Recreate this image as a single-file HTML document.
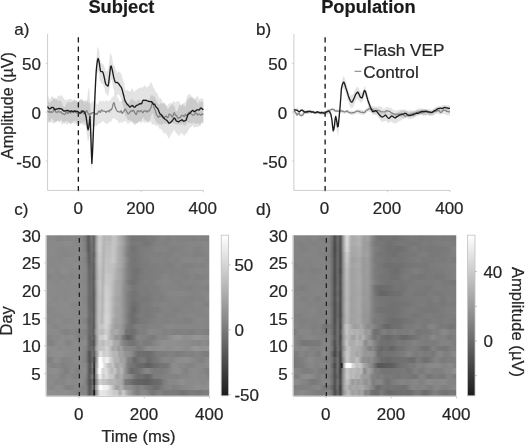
<!DOCTYPE html>
<html lang="en"><head><meta charset="utf-8"><title>Flash VEP figure</title>
<style>html,body{margin:0;padding:0;background:#fff}svg{display:block}text{stroke:#262626;stroke-width:.22px}</style></head>
<body>
<svg width="525" height="446" viewBox="0 0 525 446" font-family='"Liberation Sans", sans-serif' font-size="17" fill="#262626" style="will-change:transform">
<rect width="525" height="446" fill="#fff"/>
<path d="M47.6,100.77 L48.22,101.76 L48.85,101.42 L49.47,102.99 L50.09,101.39 L50.72,102.8 L51.34,101.33 L51.96,100.78 L52.59,100.54 L53.21,97.45 L53.83,99.56 L54.46,98.86 L55.08,98.65 L55.7,100.5 L56.32,99.03 L56.95,100.33 L57.57,99.87 L58.19,101.41 L58.82,101.54 L59.44,99.93 L60.06,100.41 L60.69,100.95 L61.31,101.31 L61.93,102.45 L62.56,104.82 L63.18,106.61 L63.8,106.86 L64.43,106.97 L65.05,106.77 L65.67,104.86 L66.3,103.87 L66.92,102.78 L67.54,102.14 L68.17,102.35 L68.79,102.26 L69.41,102.1 L70.04,102.87 L70.66,102.62 L71.28,101.91 L71.9,102.06 L72.53,101.55 L73.15,100.8 L73.77,99.55 L74.4,100.25 L75.02,100.91 L75.64,101.36 L76.27,101.31 L76.89,99.94 L77.51,103.75 L78.14,101.11 L78.76,100.93 L79.38,99.99 L80.01,100.88 L80.63,98.36 L81.25,99.16 L81.88,100.24 L82.5,100.58 L83.12,101.53 L83.75,101.09 L84.37,101.08 L84.99,100.1 L85.62,100.32 L86.24,100.61 L86.86,100.3 L87.48,100.81 L88.11,101.63 L88.73,103.42 L89.35,102.1 L89.98,103.77 L90.6,103.5 L91.22,102.45 L91.85,101.52 L92.47,100.49 L93.09,102.35 L93.72,100.14 L94.34,100.26 L94.96,102.19 L95.59,102.65 L96.21,103.47 L96.83,103.78 L97.46,104.18 L98.08,103.88 L98.7,102.06 L99.33,101.03 L99.95,99.6 L100.57,101.52 L101.2,102.35 L101.82,100.79 L102.44,101.1 L103.06,100.49 L103.69,101.05 L104.31,101.66 L104.93,101.18 L105.56,100.01 L106.18,100.29 L106.8,101.17 L107.43,100.02 L108.05,101.67 L108.67,101 L109.3,100.29 L109.92,100.93 L110.54,100.15 L111.17,98.48 L111.79,97.68 L112.41,97.04 L113.04,96.61 L113.66,96.41 L114.28,95.76 L114.91,93.02 L115.53,95.85 L116.15,95.04 L116.78,97.28 L117.4,96.78 L118.02,97.76 L118.64,99.25 L119.27,100.89 L119.89,102.03 L120.51,100.7 L121.14,102.13 L121.76,101.69 L122.38,99.25 L123.01,98.93 L123.63,99.86 L124.25,100.28 L124.88,100.94 L125.5,100.71 L126.12,101.81 L126.75,103.03 L127.37,102.91 L127.99,102.37 L128.62,103.45 L129.24,102.48 L129.86,100.93 L130.49,99.08 L131.11,99.6 L131.73,99.56 L132.36,98.43 L132.98,100.8 L133.6,100.9 L134.22,100.14 L134.85,100.35 L135.47,101.14 L136.09,103.4 L136.72,100.87 L137.34,100.41 L137.96,100.31 L138.59,99.62 L139.21,99.26 L139.83,100.7 L140.46,102.01 L141.08,103.13 L141.7,101.94 L142.33,102.33 L142.95,101.9 L143.57,101.81 L144.2,100.31 L144.82,99.55 L145.44,99.53 L146.07,100.57 L146.69,99.31 L147.31,99.85 L147.94,101.78 L148.56,99.34 L149.18,100.36 L149.8,98.57 L150.43,95.8 L151.05,95.06 L151.67,95.38 L152.3,95.41 L152.92,94.75 L153.54,96.63 L154.17,95.75 L154.79,97.12 L155.41,97.58 L156.04,99.51 L156.66,101.53 L157.28,101.88 L157.91,103.24 L158.53,104.6 L159.15,104.6 L159.78,104.28 L160.4,103.26 L161.02,102.57 L161.65,103.1 L162.27,103.97 L162.89,103.42 L163.52,102.77 L164.14,102.52 L164.76,104.21 L165.38,103.84 L166.01,104.77 L166.63,106.23 L167.25,105.54 L167.88,104.62 L168.5,104.04 L169.12,103.47 L169.75,103.32 L170.37,102.55 L170.99,103.4 L171.62,103.69 L172.24,101.92 L172.86,102.29 L173.49,101.02 L174.11,102.05 L174.73,100.73 L175.36,102.68 L175.98,102.77 L176.6,101.43 L177.23,100.57 L177.85,102.28 L178.47,100.76 L179.1,101.17 L179.72,102.35 L180.34,103.82 L180.96,105.72 L181.59,105.35 L182.21,104.45 L182.83,103.03 L183.46,103.1 L184.08,103.21 L184.7,102.56 L185.33,102.36 L185.95,99.39 L186.57,98.64 L187.2,95.56 L187.82,95.02 L188.44,94.56 L189.07,94.2 L189.69,94.64 L190.31,92.95 L190.94,95.39 L191.56,96.28 L192.18,96.85 L192.81,98.84 L193.43,98.38 L194.05,96.79 L194.68,98.39 L195.3,98.76 L195.92,100.6 L196.54,102.17 L197.17,101.99 L197.79,103.43 L198.41,104.8 L199.04,102.07 L199.66,101.84 L200.28,102.47 L200.91,100.71 L201.53,101.65 L202.15,101.93 L202.78,102.21 L203.4,100.71 L203.4,121.88 L202.78,122.34 L202.15,122.24 L201.53,122.99 L200.91,124.23 L200.28,125.64 L199.66,124.67 L199.04,124.46 L198.41,122.9 L197.79,124.59 L197.17,122.96 L196.54,123.46 L195.92,123.49 L195.3,124.25 L194.68,122.76 L194.05,123.86 L193.43,121.99 L192.81,123.27 L192.18,123.49 L191.56,123.29 L190.94,123.24 L190.31,122.7 L189.69,123.45 L189.07,122.85 L188.44,122.89 L187.82,121.84 L187.2,122.87 L186.57,123.18 L185.95,125.02 L185.33,125.92 L184.7,125.35 L184.08,125.15 L183.46,125.48 L182.83,122.95 L182.21,123.98 L181.59,125.33 L180.96,124.92 L180.34,123.6 L179.72,125.04 L179.1,124.52 L178.47,124.26 L177.85,123.81 L177.23,125.95 L176.6,124.19 L175.98,124.37 L175.36,123.74 L174.73,124.41 L174.11,122.55 L173.49,123.95 L172.86,122.8 L172.24,122.59 L171.62,122.84 L170.99,123.23 L170.37,123.89 L169.75,123.71 L169.12,124.42 L168.5,125.62 L167.88,124.02 L167.25,124.19 L166.63,123.45 L166.01,122.74 L165.38,123.78 L164.76,123.03 L164.14,124.45 L163.52,123.74 L162.89,124.14 L162.27,124.26 L161.65,124.79 L161.02,125.67 L160.4,123.63 L159.78,123.9 L159.15,124.57 L158.53,123.7 L157.91,123.22 L157.28,124.05 L156.66,122.84 L156.04,121.61 L155.41,121.03 L154.79,118.93 L154.17,118.63 L153.54,116.17 L152.92,113.75 L152.3,113.05 L151.67,114.3 L151.05,116.64 L150.43,118.38 L149.8,120.38 L149.18,120.16 L148.56,121.45 L147.94,122.16 L147.31,122.23 L146.69,123.07 L146.07,121.44 L145.44,122.51 L144.82,122.39 L144.2,123.29 L143.57,121.29 L142.95,121.81 L142.33,122.37 L141.7,123.24 L141.08,123.18 L140.46,122.27 L139.83,121.45 L139.21,120.87 L138.59,121.76 L137.96,121.95 L137.34,123.15 L136.72,122.38 L136.09,123.62 L135.47,123.53 L134.85,122.9 L134.22,123.37 L133.6,122.11 L132.98,122.56 L132.36,121.96 L131.73,120.96 L131.11,120.63 L130.49,122.65 L129.86,121.88 L129.24,124.12 L128.62,123.2 L127.99,123.8 L127.37,123.52 L126.75,122.32 L126.12,121.7 L125.5,121.07 L124.88,121.12 L124.25,121.49 L123.63,122.06 L123.01,121.92 L122.38,122.27 L121.76,122.91 L121.14,122.44 L120.51,122.18 L119.89,122.64 L119.27,123.5 L118.64,123.41 L118.02,121.42 L117.4,120.14 L116.78,119.92 L116.15,120.52 L115.53,118.85 L114.91,118.66 L114.28,118.15 L113.66,118.5 L113.04,119.14 L112.41,118.4 L111.79,120.06 L111.17,121.44 L110.54,122.44 L109.92,121.19 L109.3,121.83 L108.67,123.63 L108.05,123.16 L107.43,123.59 L106.8,123.13 L106.18,124.64 L105.56,123.25 L104.93,123.05 L104.31,122.36 L103.69,121.83 L103.06,121.08 L102.44,121.13 L101.82,122.32 L101.2,122.71 L100.57,123.35 L99.95,123.11 L99.33,123.38 L98.7,123.55 L98.08,124.86 L97.46,124.57 L96.83,125.73 L96.21,126.95 L95.59,125.86 L94.96,125.74 L94.34,125.87 L93.72,125.74 L93.09,127.48 L92.47,127.03 L91.85,125.84 L91.22,125.58 L90.6,125.74 L89.98,125.12 L89.35,126.3 L88.73,125.77 L88.11,126.13 L87.48,124.62 L86.86,124.97 L86.24,125.14 L85.62,125.05 L84.99,124.63 L84.37,125.71 L83.75,125.24 L83.12,125.49 L82.5,125.02 L81.88,123.68 L81.25,123.44 L80.63,123.58 L80.01,123.39 L79.38,122.73 L78.76,124.09 L78.14,123.58 L77.51,121.75 L76.89,124.97 L76.27,124.63 L75.64,123.92 L75.02,123.87 L74.4,123.67 L73.77,122.44 L73.15,123.62 L72.53,123.6 L71.9,123.53 L71.28,124.11 L70.66,124.07 L70.04,124.44 L69.41,123.02 L68.79,123.22 L68.17,122.92 L67.54,125 L66.92,124.14 L66.3,125.31 L65.67,123.41 L65.05,123.25 L64.43,123.73 L63.8,123.67 L63.18,123.86 L62.56,124.69 L61.93,124.81 L61.31,123.31 L60.69,121.15 L60.06,122.34 L59.44,123.27 L58.82,121.43 L58.19,120.61 L57.57,121.77 L56.95,122.23 L56.32,122.33 L55.7,122.73 L55.08,122.97 L54.46,122.8 L53.83,123.13 L53.21,123.91 L52.59,122.33 L51.96,123.46 L51.34,122.25 L50.72,122.38 L50.09,121.85 L49.47,122.54 L48.85,122.72 L48.22,122.6 L47.6,122.56Z" fill="#000" fill-opacity="0.1"/><path d="M47.6,93.27 L48.22,96.11 L48.85,97.87 L49.47,100.24 L50.09,98.48 L50.72,98.09 L51.34,97.33 L51.96,96.19 L52.59,96.12 L53.21,97.54 L53.83,98.11 L54.46,98.52 L55.08,97.93 L55.7,97.75 L56.32,98.68 L56.95,98.21 L57.57,96.44 L58.19,95.32 L58.82,96.09 L59.44,96.52 L60.06,95.32 L60.69,96.09 L61.31,95.22 L61.93,94.88 L62.56,96.21 L63.18,97.64 L63.8,98.22 L64.43,99.87 L65.05,99.83 L65.67,100.11 L66.3,99.8 L66.92,99.88 L67.54,99.49 L68.17,99.45 L68.79,99.06 L69.41,99.14 L70.04,99.05 L70.66,98.17 L71.28,100.11 L71.9,98.53 L72.53,100.19 L73.15,101.15 L73.77,100.1 L74.4,99.5 L75.02,98.93 L75.64,100.8 L76.27,100.22 L76.89,100.52 L77.51,102.01 L78.14,101.69 L78.76,100.23 L79.38,100.01 L80.01,99.63 L80.63,99.81 L81.25,99.59 L81.88,99.49 L82.5,98.72 L83.12,100.49 L83.75,100.75 L84.37,101.31 L84.99,103.78 L85.62,100.56 L86.24,101.85 L86.86,102.24 L87.48,95.99 L88.11,91.21 L88.73,88.11 L89.35,88.02 L89.98,100.56 L90.6,109.33 L91.22,123.99 L91.85,134.5 L92.47,130.38 L93.09,120.1 L93.72,107.54 L94.34,96.41 L94.96,82.72 L95.59,70.71 L96.21,60.32 L96.83,53.67 L97.46,46.64 L98.08,47.4 L98.7,49.35 L99.33,51.83 L99.95,58.14 L100.57,61.46 L101.2,62.99 L101.82,62.71 L102.44,63.99 L103.06,63.83 L103.69,65.36 L104.31,67.03 L104.93,68.03 L105.56,71.26 L106.18,71.29 L106.8,71.13 L107.43,70.47 L108.05,70.73 L108.67,65.73 L109.3,60.94 L109.92,55.66 L110.54,52.47 L111.17,54.21 L111.79,56.32 L112.41,58.88 L113.04,63.19 L113.66,65.14 L114.28,65.54 L114.91,66.8 L115.53,69.74 L116.15,69.53 L116.78,72.88 L117.4,73.16 L118.02,71.19 L118.64,71.93 L119.27,71.5 L119.89,71.95 L120.51,73.01 L121.14,73.44 L121.76,75.24 L122.38,78.2 L123.01,79.51 L123.63,82.07 L124.25,83.69 L124.88,88.41 L125.5,89.61 L126.12,90.42 L126.75,90.54 L127.37,89.48 L127.99,90.42 L128.62,91.32 L129.24,91.38 L129.86,91.04 L130.49,91.57 L131.11,90.11 L131.73,88.2 L132.36,88.58 L132.98,89.87 L133.6,91.13 L134.22,91.5 L134.85,92.34 L135.47,89.97 L136.09,89.65 L136.72,89.35 L137.34,90.1 L137.96,89.33 L138.59,88.09 L139.21,87.75 L139.83,87.91 L140.46,87.28 L141.08,87.35 L141.7,88.46 L142.33,87.62 L142.95,86.95 L143.57,86.68 L144.2,85.26 L144.82,85.57 L145.44,85.92 L146.07,87.28 L146.69,87.52 L147.31,86.93 L147.94,86.96 L148.56,86.12 L149.18,85.98 L149.8,84.23 L150.43,82.72 L151.05,82.52 L151.67,82.75 L152.3,84.85 L152.92,85.92 L153.54,88.06 L154.17,87.93 L154.79,89.76 L155.41,91.16 L156.04,92.4 L156.66,92.24 L157.28,93.34 L157.91,94.47 L158.53,96.67 L159.15,97.15 L159.78,99.19 L160.4,97.58 L161.02,99 L161.65,99.55 L162.27,100.92 L162.89,102.87 L163.52,103.26 L164.14,102.79 L164.76,102.32 L165.38,104.89 L166.01,105.55 L166.63,106.11 L167.25,108.16 L167.88,108.92 L168.5,108.42 L169.12,107.91 L169.75,107.3 L170.37,105.01 L170.99,105.72 L171.62,104.98 L172.24,103.9 L172.86,103.84 L173.49,106.34 L174.11,106.14 L174.73,106.41 L175.36,110.04 L175.98,110.7 L176.6,111.38 L177.23,111 L177.85,109.83 L178.47,107.65 L179.1,105.53 L179.72,104.31 L180.34,104.98 L180.96,106.1 L181.59,104.26 L182.21,104.08 L182.83,103.73 L183.46,104.95 L184.08,106.63 L184.7,105.27 L185.33,106.72 L185.95,104.9 L186.57,102.53 L187.2,100.48 L187.82,98.11 L188.44,100.09 L189.07,97.89 L189.69,97.35 L190.31,97.74 L190.94,96.82 L191.56,97.84 L192.18,96.63 L192.81,97.14 L193.43,99.11 L194.05,99.75 L194.68,99.66 L195.3,99.59 L195.92,97.52 L196.54,97.12 L197.17,95.93 L197.79,96.3 L198.41,97.8 L199.04,98.72 L199.66,99.38 L200.28,98.88 L200.91,98.51 L201.53,97.69 L202.15,98.74 L202.78,98.38 L203.4,98.5 L203.4,123.19 L202.78,124.16 L202.15,122.93 L201.53,123.21 L200.91,123.07 L200.28,125.16 L199.66,125.97 L199.04,126.2 L198.41,126.61 L197.79,127.18 L197.17,126.6 L196.54,127 L195.92,126.75 L195.3,127.11 L194.68,127.95 L194.05,126.91 L193.43,126.68 L192.81,125.58 L192.18,125.46 L191.56,127 L190.94,126.55 L190.31,127.73 L189.69,128.54 L189.07,128.57 L188.44,130.13 L187.82,131.3 L187.2,133.37 L186.57,133.05 L185.95,133.55 L185.33,134.82 L184.7,135.52 L184.08,135.65 L183.46,135 L182.83,133.77 L182.21,134.81 L181.59,132.83 L180.96,133.34 L180.34,133.71 L179.72,135.72 L179.1,136.27 L178.47,135.08 L177.85,135.29 L177.23,133.44 L176.6,134.24 L175.98,132.37 L175.36,132.45 L174.73,131.16 L174.11,129.05 L173.49,131.35 L172.86,131.53 L172.24,133.37 L171.62,133.58 L170.99,134.74 L170.37,135.77 L169.75,136.76 L169.12,138.79 L168.5,138.54 L167.88,137.39 L167.25,135.03 L166.63,134.6 L166.01,134.4 L165.38,132.96 L164.76,132.41 L164.14,134.27 L163.52,132.53 L162.89,132.38 L162.27,130.7 L161.65,129.82 L161.02,128.66 L160.4,128.67 L159.78,129.13 L159.15,127.91 L158.53,126.68 L157.91,125.06 L157.28,126.28 L156.66,126.57 L156.04,125.84 L155.41,124.95 L154.79,125.1 L154.17,124.09 L153.54,124.26 L152.92,125.07 L152.3,124.1 L151.67,124.48 L151.05,120.78 L150.43,122.87 L149.8,121.57 L149.18,122.72 L148.56,122.7 L147.94,123.31 L147.31,121.49 L146.69,120.97 L146.07,120.5 L145.44,120.59 L144.82,119.57 L144.2,119.15 L143.57,117.24 L142.95,118.09 L142.33,118.37 L141.7,120.06 L141.08,121.08 L140.46,121.64 L139.83,121.46 L139.21,121.99 L138.59,122.08 L137.96,123.66 L137.34,123.55 L136.72,123.37 L136.09,124.27 L135.47,124.14 L134.85,125.01 L134.22,125.81 L133.6,123.64 L132.98,123.17 L132.36,122.29 L131.73,122.7 L131.11,120.58 L130.49,121.26 L129.86,120.09 L129.24,119.74 L128.62,120.25 L127.99,119.89 L127.37,118.92 L126.75,117.8 L126.12,116.03 L125.5,116.65 L124.88,114.41 L124.25,112.04 L123.63,109.8 L123.01,105.27 L122.38,103.35 L121.76,102.58 L121.14,99.23 L120.51,97.07 L119.89,96.14 L119.27,95.03 L118.64,94.51 L118.02,94.14 L117.4,95.82 L116.78,93.96 L116.15,96.15 L115.53,96.36 L114.91,95.27 L114.28,92.76 L113.66,89.27 L113.04,87.68 L112.41,82.92 L111.79,79.85 L111.17,79.94 L110.54,82.53 L109.92,85.61 L109.3,91.11 L108.67,93.47 L108.05,96.18 L107.43,95.93 L106.8,94.2 L106.18,93.01 L105.56,94 L104.93,91.31 L104.31,87.83 L103.69,86.95 L103.06,83.57 L102.44,84.49 L101.82,83.03 L101.2,84.13 L100.57,81.99 L99.95,80.25 L99.33,74.79 L98.7,72.49 L98.08,71.56 L97.46,73.04 L96.83,76.1 L96.21,84.24 L95.59,95.24 L94.96,108.04 L94.34,122.54 L93.72,136.5 L93.09,151.52 L92.47,165.01 L91.85,172.07 L91.22,160.57 L90.6,146.84 L89.98,137.04 L89.35,136.36 L88.73,140.51 L88.11,141.22 L87.48,139.18 L86.86,134.01 L86.24,127.94 L85.62,124.91 L84.99,122.36 L84.37,121.95 L83.75,122.86 L83.12,122.48 L82.5,122.41 L81.88,122.08 L81.25,123.98 L80.63,123.1 L80.01,124.53 L79.38,125.19 L78.76,125.03 L78.14,124.69 L77.51,123.24 L76.89,122.35 L76.27,123.72 L75.64,120.34 L75.02,120.97 L74.4,121.1 L73.77,121.57 L73.15,120.81 L72.53,122.84 L71.9,121.93 L71.28,123.88 L70.66,123.24 L70.04,123.33 L69.41,123.1 L68.79,122.53 L68.17,121.58 L67.54,121.83 L66.92,120.99 L66.3,120.73 L65.67,121.79 L65.05,121.08 L64.43,122.46 L63.8,122.52 L63.18,121.75 L62.56,121.84 L61.93,121.43 L61.31,119.11 L60.69,119.67 L60.06,120.81 L59.44,121.42 L58.82,121.32 L58.19,120.8 L57.57,120.2 L56.95,121.07 L56.32,120.83 L55.7,121.41 L55.08,121.73 L54.46,122.82 L53.83,121.24 L53.21,119.65 L52.59,119.59 L51.96,118.37 L51.34,119.01 L50.72,120.22 L50.09,120.61 L49.47,122.52 L48.85,122.08 L48.22,120.04 L47.6,118.88Z" fill="#000" fill-opacity="0.11"/><path d="M47.6,34 V190.4 H203.4" fill="none" stroke="#cdcdcd" stroke-width="1"/><path d="M47.6,161.07 h-1.9" stroke="#cdcdcd" stroke-width="1"/><path d="M47.6,112.2 h-1.9" stroke="#cdcdcd" stroke-width="1"/><path d="M47.6,63.33 h-1.9" stroke="#cdcdcd" stroke-width="1"/><path d="M78.76,190.4 v1.9" stroke="#cdcdcd" stroke-width="1"/><path d="M141.08,190.4 v1.9" stroke="#cdcdcd" stroke-width="1"/><path d="M203.4,190.4 v1.9" stroke="#cdcdcd" stroke-width="1"/><path d="M78.36,37.3 V190.8" stroke="#1a1a1a" stroke-width="1.35" stroke-dasharray="5.1,4.19"/><path d="M47.6,110.85 L48.22,111.56 L48.85,112.11 L49.47,111.23 L50.09,112.42 L50.72,112.39 L51.34,111.6 L51.96,112.18 L52.59,112.23 L53.21,111.25 L53.83,109.31 L54.46,108.41 L55.08,110.42 L55.7,112.15 L56.32,112.2 L56.95,112.49 L57.57,111.9 L58.19,111.2 L58.82,111.77 L59.44,111.89 L60.06,112.02 L60.69,111.83 L61.31,112.18 L61.93,113.35 L62.56,113.73 L63.18,113.82 L63.8,114.2 L64.43,114.6 L65.05,114.25 L65.67,113.03 L66.3,111.78 L66.92,111.49 L67.54,113.66 L68.17,113.39 L68.79,112.28 L69.41,111.76 L70.04,112.4 L70.66,113.1 L71.28,112.33 L71.9,111.54 L72.53,111.54 L73.15,111.9 L73.77,112.55 L74.4,110.96 L75.02,110.81 L75.64,112.12 L76.27,112.4 L76.89,113 L77.51,113.64 L78.14,113.02 L78.76,112.51 L79.38,112.95 L80.01,112.63 L80.63,111.53 L81.25,110.45 L81.88,110.74 L82.5,112.5 L83.12,112.94 L83.75,113.39 L84.37,114.24 L84.99,113.29 L85.62,111.84 L86.24,110.71 L86.86,110.77 L87.48,112.46 L88.11,113.23 L88.73,114.32 L89.35,114.87 L89.98,113.89 L90.6,113.62 L91.22,113.79 L91.85,112.84 L92.47,112.54 L93.09,112.62 L93.72,112.72 L94.34,112.72 L94.96,114.57 L95.59,113.98 L96.21,113.49 L96.83,114.52 L97.46,113.71 L98.08,112.41 L98.7,111.21 L99.33,110.96 L99.95,112.15 L100.57,112.28 L101.2,110.34 L101.82,109.93 L102.44,110.98 L103.06,111.11 L103.69,111.06 L104.31,111.24 L104.93,111.31 L105.56,111.55 L106.18,112.56 L106.8,111.49 L107.43,111.03 L108.05,111 L108.67,111.02 L109.3,111.76 L109.92,110.05 L110.54,109.53 L111.17,109.86 L111.79,108.82 L112.41,107.22 L113.04,104.57 L113.66,102.74 L114.28,103.03 L114.91,105.88 L115.53,108.19 L116.15,109.3 L116.78,110.56 L117.4,111.45 L118.02,111.55 L118.64,111.52 L119.27,111.86 L119.89,112.26 L120.51,111.65 L121.14,110.7 L121.76,112.75 L122.38,113.35 L123.01,112.23 L123.63,111.64 L124.25,110.66 L124.88,109.58 L125.5,109.13 L126.12,110.25 L126.75,111.85 L127.37,112.49 L127.99,113.82 L128.62,113.44 L129.24,112.94 L129.86,112.41 L130.49,111.19 L131.11,110.68 L131.73,110.62 L132.36,111.28 L132.98,110.37 L133.6,110.23 L134.22,111.54 L134.85,113.06 L135.47,113.59 L136.09,114.61 L136.72,113.87 L137.34,110.79 L137.96,110.55 L138.59,111.16 L139.21,111.89 L139.83,111.28 L140.46,110.66 L141.08,110.76 L141.7,111.28 L142.33,112.19 L142.95,112.77 L143.57,111.46 L144.2,110.79 L144.82,110.99 L145.44,111.35 L146.07,110.88 L146.69,111.81 L147.31,111.97 L147.94,110.67 L148.56,110.95 L149.18,111.19 L149.8,109.83 L150.43,108.53 L151.05,107.52 L151.67,105.03 L152.3,102.39 L152.92,103.24 L153.54,104.86 L154.17,107.86 L154.79,109.37 L155.41,110.56 L156.04,113.08 L156.66,114.85 L157.28,115.48 L157.91,116.75 L158.53,117.37 L159.15,116.35 L159.78,115.74 L160.4,116.2 L161.02,116.33 L161.65,115.51 L162.27,115.29 L162.89,116.55 L163.52,118.39 L164.14,118.22 L164.76,117.15 L165.38,116.41 L166.01,115.99 L166.63,116.53 L167.25,117.6 L167.88,117.39 L168.5,116.03 L169.12,114.04 L169.75,114.25 L170.37,114.66 L170.99,115.06 L171.62,116.42 L172.24,117 L172.86,115.93 L173.49,114.19 L174.11,112.7 L174.73,113.51 L175.36,115.21 L175.98,115.21 L176.6,115.7 L177.23,117.13 L177.85,117.91 L178.47,118.49 L179.1,117.69 L179.72,117.52 L180.34,117.59 L180.96,116.46 L181.59,115.44 L182.21,115.54 L182.83,115.4 L183.46,115.74 L184.08,116.62 L184.7,115.76 L185.33,114.15 L185.95,114.89 L186.57,115.73 L187.2,115.37 L187.82,114.66 L188.44,112.81 L189.07,112.05 L189.69,112.05 L190.31,112.8 L190.94,113.75 L191.56,114.1 L192.18,114.63 L192.81,115.16 L193.43,115.01 L194.05,114.84 L194.68,114.49 L195.3,112.63 L195.92,113.18 L196.54,113.42 L197.17,114.29 L197.79,114.94 L198.41,114.2 L199.04,114.06 L199.66,114.3 L200.28,114.68 L200.91,115.28 L201.53,114.36 L202.15,113.75 L202.78,114.34 L203.4,114.61" fill="none" stroke="#858585" stroke-width="1.3" stroke-linejoin="round"/><path d="M47.6,106.46 L48.22,107.71 L48.85,108.56 L49.47,108.74 L50.09,108.71 L50.72,108.49 L51.34,107.68 L51.96,107.3 L52.59,107.33 L53.21,107.54 L53.83,108.27 L54.46,109.44 L55.08,109.82 L55.7,109.37 L56.32,109 L56.95,109.06 L57.57,109 L58.19,108.74 L58.82,108.45 L59.44,108.54 L60.06,108.85 L60.69,108.78 L61.31,108.85 L61.93,109.2 L62.56,109.77 L63.18,110.5 L63.8,111.01 L64.43,111.21 L65.05,110.97 L65.67,110.62 L66.3,110.56 L66.92,110.5 L67.54,110.45 L68.17,110.53 L68.79,110.77 L69.41,111.21 L70.04,111.64 L70.66,111.39 L71.28,110.85 L71.9,110.98 L72.53,111.52 L73.15,111.78 L73.77,111.35 L74.4,110.81 L75.02,111.13 L75.64,111.62 L76.27,111.43 L76.89,111.18 L77.51,111.52 L78.14,111.95 L78.76,112.39 L79.38,112.96 L80.01,113.31 L80.63,113.12 L81.25,112.48 L81.88,111.69 L82.5,111.11 L83.12,110.97 L83.75,111.32 L84.37,112.05 L84.99,112.91 L85.62,114.61 L86.24,117.89 L86.86,121.94 L87.48,127.25 L88.11,129.83 L88.73,127.27 L89.35,122.57 L89.98,116.18 L90.6,128.57 L91.22,147.73 L91.85,163.57 L92.47,153.43 L93.09,139.26 L93.72,124.25 L94.34,110 L94.96,95.95 L95.59,82.07 L96.21,71.32 L96.83,65.02 L97.46,60.43 L98.08,58.46 L98.7,60 L99.33,63.07 L99.95,67.64 L100.57,71.17 L101.2,71.68 L101.82,71.67 L102.44,71.67 L103.06,72.6 L103.69,74.85 L104.31,77.68 L104.93,80.74 L105.56,83.5 L106.18,84.83 L106.8,85.32 L107.43,85.8 L108.05,85.99 L108.67,83.17 L109.3,77.47 L109.92,72.17 L110.54,66.67 L111.17,65.99 L111.79,68.03 L112.41,70.66 L113.04,73.99 L113.66,76.97 L114.28,79.41 L114.91,81.29 L115.53,82.32 L116.15,82.68 L116.78,82.47 L117.4,82.45 L118.02,82.99 L118.64,83.7 L119.27,84.6 L119.89,85.5 L120.51,86.33 L121.14,87.11 L121.76,88.56 L122.38,90.66 L123.01,93 L123.63,95.3 L124.25,97.82 L124.88,100.31 L125.5,101.66 L126.12,102.5 L126.75,103.7 L127.37,104.63 L127.99,104.92 L128.62,105.5 L129.24,106.48 L129.86,107.04 L130.49,106.77 L131.11,106.18 L131.73,105.7 L132.36,105.49 L132.98,106.03 L133.6,106.73 L134.22,107.2 L134.85,107.13 L135.47,106.56 L136.09,105.8 L136.72,105.32 L137.34,105.12 L137.96,104.95 L138.59,104.6 L139.21,104.14 L139.83,103.78 L140.46,103.65 L141.08,103.88 L141.7,103.5 L142.33,101.77 L142.95,100.31 L143.57,100.09 L144.2,100.32 L144.82,100.36 L145.44,100.27 L146.07,100.36 L146.69,100.63 L147.31,100.88 L147.94,101.1 L148.56,101.26 L149.18,101.45 L149.8,101.59 L150.43,101.7 L151.05,101.71 L151.67,101.79 L152.3,102.41 L152.92,103.74 L153.54,104.32 L154.17,104.09 L154.79,104.43 L155.41,105.76 L156.04,106.9 L156.66,107.46 L157.28,107.97 L157.91,108.92 L158.53,110.24 L159.15,111.98 L159.78,113.5 L160.4,114.16 L161.02,114.47 L161.65,115.12 L162.27,116.22 L162.89,117.14 L163.52,117.64 L164.14,118.22 L164.76,118.93 L165.38,119.48 L166.01,119.83 L166.63,120.28 L167.25,120.81 L167.88,121.66 L168.5,122.67 L169.12,123.21 L169.75,122.91 L170.37,122.46 L170.99,122.13 L171.62,121.48 L172.24,120.66 L172.86,119.76 L173.49,118.79 L174.11,117.99 L174.73,118.29 L175.36,119.18 L175.98,120.3 L176.6,121.07 L177.23,121.34 L177.85,121.52 L178.47,121.87 L179.1,121.62 L179.72,120.8 L180.34,120.68 L180.96,120.52 L181.59,119.88 L182.21,119.79 L182.83,120.61 L183.46,121.2 L184.08,121.14 L184.7,120.86 L185.33,120.61 L185.95,120.25 L186.57,118.86 L187.2,116.73 L187.82,114.93 L188.44,114.16 L189.07,113.78 L189.69,113.29 L190.31,112.62 L190.94,111.94 L191.56,111.32 L192.18,110.66 L192.81,110.38 L193.43,110.91 L194.05,111.51 L194.68,111.52 L195.3,111.21 L195.92,110.7 L196.54,110.02 L197.17,109.8 L197.79,109.82 L198.41,109.91 L199.04,110.04 L199.66,109.44 L200.28,108.38 L200.91,107.94 L201.53,108.26 L202.15,108.75 L202.78,109.43 L203.4,109.79" fill="none" stroke="#1c1c1c" stroke-width="1.35" stroke-linejoin="round"/><text x="40.9" y="167.77" text-anchor="end">-50</text><text x="40.9" y="118.9" text-anchor="end">0</text><text x="40.9" y="70.03" text-anchor="end">50</text><text x="78.16" y="214.2" text-anchor="middle">0</text><text x="140.48" y="214.2" text-anchor="middle">200</text><text x="202.8" y="214.2" text-anchor="middle">400</text>
<path d="M293.9,108.68 L294.52,109.49 L295.15,110.24 L295.77,111.18 L296.4,112.39 L297.02,112.32 L297.65,112.85 L298.27,112.41 L298.9,112.6 L299.52,112.37 L300.14,112.95 L300.77,113.16 L301.39,113.5 L302.02,112.89 L302.64,112.64 L303.27,111.86 L303.89,111.27 L304.51,110.92 L305.14,111.01 L305.76,111.35 L306.39,111.09 L307.01,110.46 L307.64,110.24 L308.26,110.02 L308.89,110.33 L309.51,110.3 L310.13,109.75 L310.76,109.78 L311.38,110.15 L312.01,110.41 L312.63,110.99 L313.26,110.93 L313.88,110.72 L314.51,111.37 L315.13,111.31 L315.75,111.19 L316.38,111.16 L317,111.45 L317.63,111.11 L318.25,111.15 L318.88,111.18 L319.5,111.31 L320.12,111.29 L320.75,111.51 L321.37,110.77 L322,111.15 L322.62,110.7 L323.25,110.82 L323.87,111.38 L324.5,111.94 L325.12,112.27 L325.74,111.93 L326.37,111.22 L326.99,110.56 L327.62,110.19 L328.24,109.59 L328.87,108.4 L329.49,108.72 L330.12,108.95 L330.74,108.46 L331.36,108.79 L331.99,109.06 L332.61,108.35 L333.24,108.5 L333.86,108.32 L334.49,108.08 L335.11,108.78 L335.73,109.34 L336.36,109.01 L336.98,110.04 L337.61,109.79 L338.23,109.07 L338.86,108.95 L339.48,109.37 L340.11,109.52 L340.73,109.33 L341.35,109.42 L341.98,109.62 L342.6,110 L343.23,110.42 L343.85,110.46 L344.48,110.45 L345.1,110.42 L345.73,110.38 L346.35,110.12 L346.97,110.43 L347.6,109.81 L348.22,109.9 L348.85,110.66 L349.47,111.11 L350.1,110.83 L350.72,110.8 L351.34,110.91 L351.97,110.59 L352.59,110.9 L353.22,110.96 L353.84,110.26 L354.47,110.66 L355.09,110.53 L355.72,110.8 L356.34,110.08 L356.96,109.8 L357.59,109.38 L358.21,109.06 L358.84,109.15 L359.46,109.51 L360.09,109.05 L360.71,109.31 L361.34,109.41 L361.96,109.75 L362.58,109.91 L363.21,110.39 L363.83,110.38 L364.46,109.93 L365.08,109.52 L365.71,108.77 L366.33,109.02 L366.95,107.71 L367.58,107.12 L368.2,106.1 L368.83,106.13 L369.45,105.94 L370.08,105.79 L370.7,105.79 L371.33,106.5 L371.95,106.4 L372.57,106.08 L373.2,106.31 L373.82,106.6 L374.45,106.48 L375.07,107.43 L375.7,107.13 L376.32,107.21 L376.95,106.83 L377.57,106.79 L378.19,106.3 L378.82,105.62 L379.44,106.15 L380.07,106.44 L380.69,106.4 L381.32,106.97 L381.94,107.03 L382.56,108.19 L383.19,108.6 L383.81,108.97 L384.44,108.57 L385.06,108.44 L385.69,107.17 L386.31,107.16 L386.94,106.92 L387.56,107.07 L388.18,107.27 L388.81,107.5 L389.43,107.95 L390.06,107.36 L390.68,108.02 L391.31,107.82 L391.93,108.53 L392.56,109.52 L393.18,109.73 L393.8,110.07 L394.43,110.34 L395.05,110.46 L395.68,110.37 L396.3,110.45 L396.93,110.36 L397.55,110.01 L398.17,109.89 L398.8,109.9 L399.42,109.57 L400.05,109.68 L400.67,109.43 L401.3,109.55 L401.92,109.38 L402.55,110.28 L403.17,109.67 L403.79,110.46 L404.42,110.34 L405.04,111 L405.67,111 L406.29,110.79 L406.92,110.94 L407.54,110.84 L408.17,110.61 L408.79,110.06 L409.41,110.73 L410.04,110.21 L410.66,109.79 L411.29,110.24 L411.91,109.91 L412.54,110.98 L413.16,110.83 L413.78,110.58 L414.41,110.54 L415.03,110.33 L415.66,109.81 L416.28,110.01 L416.91,109.42 L417.53,109.16 L418.16,109.04 L418.78,108.32 L419.4,108.82 L420.03,108.3 L420.65,109.19 L421.28,109.19 L421.9,109.4 L422.53,109.66 L423.15,109.11 L423.78,108.74 L424.4,108.69 L425.02,108.78 L425.65,108.57 L426.27,108.98 L426.9,109.39 L427.52,110.52 L428.15,110.12 L428.77,110.1 L429.39,110.8 L430.02,111.38 L430.64,110.84 L431.27,110.51 L431.89,110.61 L432.52,109.97 L433.14,109.38 L433.77,109.27 L434.39,108.79 L435.01,108.01 L435.64,108.18 L436.26,108.3 L436.89,107.79 L437.51,107.66 L438.14,107.77 L438.76,107.92 L439.39,108.27 L440.01,107.61 L440.63,108.63 L441.26,108.29 L441.88,107.93 L442.51,107.45 L443.13,107.53 L443.76,107.24 L444.38,107.46 L445,107.32 L445.63,107.99 L446.25,107.39 L446.88,107.84 L447.5,108.04 L448.13,108.61 L448.75,109.34 L449.38,109.24 L450,109.13 L450,115.68 L449.38,115.37 L448.75,115.26 L448.13,115.23 L447.5,114.96 L446.88,115.42 L446.25,115.06 L445.63,114.95 L445,114.32 L444.38,114.07 L443.76,113.96 L443.13,114.19 L442.51,113.99 L441.88,114.61 L441.26,114.1 L440.63,114.92 L440.01,114.49 L439.39,114.28 L438.76,114.25 L438.14,113.92 L437.51,113.87 L436.89,114 L436.26,114.08 L435.64,114.15 L435.01,114.2 L434.39,115 L433.77,115.15 L433.14,115.46 L432.52,116.29 L431.89,116.01 L431.27,115.86 L430.64,116.23 L430.02,115.7 L429.39,115.45 L428.77,115.63 L428.15,115.33 L427.52,114.74 L426.9,115.29 L426.27,115.66 L425.65,115.69 L425.02,115.46 L424.4,115.84 L423.78,115.66 L423.15,115.86 L422.53,115.37 L421.9,115.25 L421.28,114.88 L420.65,114.51 L420.03,114.63 L419.4,114.39 L418.78,115.18 L418.16,114.93 L417.53,115.06 L416.91,115.68 L416.28,115.72 L415.66,116.08 L415.03,116.58 L414.41,117.06 L413.78,116.63 L413.16,116.82 L412.54,116.63 L411.91,116.65 L411.29,116.71 L410.66,116.67 L410.04,116.08 L409.41,116.75 L408.79,116.82 L408.17,117.01 L407.54,117.27 L406.92,117.56 L406.29,118.15 L405.67,118.19 L405.04,118.66 L404.42,118.41 L403.79,118.13 L403.17,118.44 L402.55,117.73 L401.92,117.62 L401.3,117.16 L400.67,117.23 L400.05,117.05 L399.42,117.06 L398.8,117.14 L398.17,116.98 L397.55,117.04 L396.93,117.68 L396.3,117.49 L395.68,117.5 L395.05,117.54 L394.43,117.21 L393.8,116.75 L393.18,116.55 L392.56,116.62 L391.93,115.51 L391.31,115.36 L390.68,115.57 L390.06,115.57 L389.43,115.21 L388.81,114.73 L388.18,114.39 L387.56,114.48 L386.94,114.32 L386.31,113.96 L385.69,114.01 L385.06,114.38 L384.44,114.66 L383.81,114.64 L383.19,114.47 L382.56,114.39 L381.94,114.62 L381.32,114.74 L380.69,114.41 L380.07,114.18 L379.44,114.27 L378.82,113.92 L378.19,113.98 L377.57,113.46 L376.95,113.72 L376.32,113.48 L375.7,113.76 L375.07,113.6 L374.45,113.58 L373.82,113.41 L373.2,113.34 L372.57,112.55 L371.95,112.53 L371.33,112.08 L370.7,111.7 L370.08,111.62 L369.45,111.49 L368.83,111.79 L368.2,112.1 L367.58,112.35 L366.95,112.44 L366.33,113.36 L365.71,113.56 L365.08,114.06 L364.46,114.61 L363.83,115.07 L363.21,114.97 L362.58,115.08 L361.96,115.25 L361.34,114.54 L360.71,114.3 L360.09,114.53 L359.46,114.32 L358.84,113.86 L358.21,113.4 L357.59,113.72 L356.96,113.33 L356.34,114.06 L355.72,114.36 L355.09,114.05 L354.47,114.57 L353.84,115.32 L353.22,115.09 L352.59,114.92 L351.97,115.36 L351.34,115 L350.72,114.76 L350.1,114.33 L349.47,114.28 L348.85,113.64 L348.22,113.39 L347.6,112.75 L346.97,113.12 L346.35,113.3 L345.73,113.23 L345.1,113.78 L344.48,114.08 L343.85,113.86 L343.23,113.2 L342.6,113.22 L341.98,113.15 L341.35,112.83 L340.73,112.93 L340.11,113.07 L339.48,113 L338.86,112.75 L338.23,112.39 L337.61,112.12 L336.98,112.32 L336.36,112.21 L335.73,112.23 L335.11,112.2 L334.49,112.02 L333.86,111.97 L333.24,111.84 L332.61,111.35 L331.99,111.57 L331.36,111.26 L330.74,111.43 L330.12,111.53 L329.49,111.97 L328.87,112.54 L328.24,113.07 L327.62,114.07 L326.99,113.99 L326.37,114.15 L325.74,114.22 L325.12,113.96 L324.5,114.6 L323.87,114.33 L323.25,114.93 L322.62,114.67 L322,114.62 L321.37,114.42 L320.75,114.86 L320.12,114.24 L319.5,114.21 L318.88,114.67 L318.25,113.7 L317.63,113.77 L317,114.24 L316.38,113.82 L315.75,113.6 L315.13,113.73 L314.51,113.77 L313.88,113.24 L313.26,112.97 L312.63,113.34 L312.01,113.5 L311.38,113.49 L310.76,113.5 L310.13,113.55 L309.51,113.39 L308.89,113.1 L308.26,113.89 L307.64,113.85 L307.01,113.8 L306.39,113.71 L305.76,114.32 L305.14,113.59 L304.51,114.36 L303.89,115.35 L303.27,115.14 L302.64,116.05 L302.02,116.41 L301.39,117.27 L300.77,117.08 L300.14,116.6 L299.52,116.11 L298.9,115.44 L298.27,115.54 L297.65,115.4 L297.02,115.09 L296.4,114.75 L295.77,114.5 L295.15,114.17 L294.52,113.41 L293.9,113.52Z" fill="#000" fill-opacity="0.1"/><path d="M293.9,108.6 L294.52,108.12 L295.15,108.17 L295.77,107.94 L296.4,107.66 L297.02,107.93 L297.65,108.08 L298.27,108.81 L298.9,109.31 L299.52,110.24 L300.14,110.02 L300.77,109.65 L301.39,108.77 L302.02,108.77 L302.64,108.56 L303.27,108.97 L303.89,109.38 L304.51,109.21 L305.14,109.8 L305.76,110.1 L306.39,110.35 L307.01,109.71 L307.64,109.67 L308.26,110.23 L308.89,110.16 L309.51,110.18 L310.13,110.7 L310.76,110.48 L311.38,110.14 L312.01,110.79 L312.63,110.17 L313.26,109.88 L313.88,110.74 L314.51,110.99 L315.13,111.02 L315.75,111 L316.38,110.97 L317,111.32 L317.63,111.1 L318.25,110.96 L318.88,111.13 L319.5,110.77 L320.12,111.08 L320.75,111.06 L321.37,110.51 L322,111.02 L322.62,111.39 L323.25,111.36 L323.87,111.54 L324.5,111.24 L325.12,111.07 L325.74,110.85 L326.37,110.34 L326.99,109.8 L327.62,108.86 L328.24,108.45 L328.87,109.11 L329.49,109.63 L330.12,110.87 L330.74,112.94 L331.36,115.87 L331.99,119.91 L332.61,124.58 L333.24,126.82 L333.86,125.63 L334.49,121.85 L335.11,117.96 L335.73,115.93 L336.36,116.73 L336.98,119.26 L337.61,122.21 L338.23,121.3 L338.86,116.81 L339.48,109.99 L340.11,102.51 L340.73,93.8 L341.35,86.53 L341.98,81.07 L342.6,78.21 L343.23,76.38 L343.85,76.18 L344.48,77.83 L345.1,79.56 L345.73,81.32 L346.35,83.48 L346.97,85.83 L347.6,88.71 L348.22,90.33 L348.85,92.33 L349.47,93.88 L350.1,95.25 L350.72,95.18 L351.34,95.19 L351.97,95.3 L352.59,94.44 L353.22,93.9 L353.84,92.53 L354.47,91.43 L355.09,90.14 L355.72,88.6 L356.34,87.59 L356.96,86.98 L357.59,86.82 L358.21,87.22 L358.84,88.3 L359.46,89.65 L360.09,91.35 L360.71,91.99 L361.34,93.05 L361.96,92.5 L362.58,91.44 L363.21,90.19 L363.83,87.84 L364.46,86.37 L365.08,86.68 L365.71,88.22 L366.33,90.23 L366.95,92.29 L367.58,94.51 L368.2,96.33 L368.83,98.32 L369.45,99.97 L370.08,101.94 L370.7,103.95 L371.33,105.56 L371.95,106.78 L372.57,107.43 L373.2,108.06 L373.82,107.57 L374.45,107.97 L375.07,107.47 L375.7,107.56 L376.32,107.49 L376.95,108.1 L377.57,108.98 L378.19,110.14 L378.82,110.82 L379.44,111.33 L380.07,111.42 L380.69,112.3 L381.32,112.49 L381.94,112.79 L382.56,113.46 L383.19,113.35 L383.81,113.44 L384.44,112.49 L385.06,111.73 L385.69,111.96 L386.31,111.93 L386.94,112.41 L387.56,113.2 L388.18,114 L388.81,114.15 L389.43,114.16 L390.06,113.49 L390.68,112.14 L391.31,112.4 L391.93,112.38 L392.56,112.44 L393.18,112.87 L393.8,113.28 L394.43,114.11 L395.05,114.38 L395.68,114.12 L396.3,113.18 L396.93,112.61 L397.55,112.71 L398.17,112.36 L398.8,111.92 L399.42,111.81 L400.05,111.38 L400.67,110.78 L401.3,111.03 L401.92,110.36 L402.55,109.88 L403.17,110.18 L403.79,109.42 L404.42,109.48 L405.04,109.54 L405.67,109.36 L406.29,109.93 L406.92,110.6 L407.54,111.31 L408.17,111.9 L408.79,112.15 L409.41,112.14 L410.04,111.77 L410.66,111.8 L411.29,111.49 L411.91,111.52 L412.54,111.2 L413.16,111.18 L413.78,110.7 L414.41,110.82 L415.03,111.17 L415.66,110.58 L416.28,110.33 L416.91,109.74 L417.53,109.89 L418.16,109.69 L418.78,109.7 L419.4,109.89 L420.03,109.52 L420.65,109 L421.28,108.81 L421.9,107.48 L422.53,108.24 L423.15,108.98 L423.78,109.33 L424.4,109.14 L425.02,109.29 L425.65,109.52 L426.27,109.51 L426.9,109.04 L427.52,109.12 L428.15,108.88 L428.77,109.03 L429.39,108.88 L430.02,109.8 L430.64,109.44 L431.27,109.91 L431.89,109.91 L432.52,109.21 L433.14,109.47 L433.77,108.56 L434.39,108.23 L435.01,107.5 L435.64,107.68 L436.26,106.72 L436.89,106.23 L437.51,106.07 L438.14,105.97 L438.76,106.06 L439.39,106.33 L440.01,106 L440.63,106.23 L441.26,105.44 L441.88,105.33 L442.51,105.79 L443.13,105.05 L443.76,105.21 L444.38,105.36 L445,105.13 L445.63,104.87 L446.25,105.11 L446.88,105.42 L447.5,105.13 L448.13,105.49 L448.75,105.73 L449.38,106.01 L450,105.6 L450,111.47 L449.38,111.42 L448.75,111.31 L448.13,111.05 L447.5,110.9 L446.88,110.59 L446.25,110.57 L445.63,110.02 L445,110.06 L444.38,109.79 L443.76,110.53 L443.13,110.91 L442.51,111.31 L441.88,111.39 L441.26,111.08 L440.63,110.89 L440.01,110.92 L439.39,110.89 L438.76,110.81 L438.14,111.62 L437.51,111.45 L436.89,112.3 L436.26,112.97 L435.64,112.79 L435.01,113.32 L434.39,113.59 L433.77,114.11 L433.14,114.63 L432.52,114.72 L431.89,115.32 L431.27,115.13 L430.64,115.12 L430.02,115.06 L429.39,115.43 L428.77,114.94 L428.15,115.01 L427.52,114.34 L426.9,114.77 L426.27,114.49 L425.65,114.93 L425.02,115.04 L424.4,115.17 L423.78,115.13 L423.15,114.28 L422.53,114.62 L421.9,114.59 L421.28,114.84 L420.65,115.04 L420.03,114.99 L419.4,115.57 L418.78,115.78 L418.16,115.92 L417.53,115.23 L416.91,115.9 L416.28,116.3 L415.66,116.76 L415.03,117.27 L414.41,117.44 L413.78,117.71 L413.16,118.38 L412.54,118.71 L411.91,118.53 L411.29,118.9 L410.66,119.27 L410.04,119.17 L409.41,119.1 L408.79,119.38 L408.17,118.76 L407.54,118.42 L406.92,117.52 L406.29,117.21 L405.67,117.45 L405.04,117.51 L404.42,117.82 L403.79,118.43 L403.17,118.87 L402.55,119.53 L401.92,119.6 L401.3,120.38 L400.67,120.65 L400.05,120.8 L399.42,120.87 L398.8,121.57 L398.17,122.11 L397.55,122.93 L396.93,122.35 L396.3,123.36 L395.68,123.28 L395.05,123.42 L394.43,123.67 L393.8,122.81 L393.18,122.82 L392.56,122.45 L391.93,121.89 L391.31,121.55 L390.68,121.15 L390.06,122.32 L389.43,122.48 L388.81,122.97 L388.18,123.02 L387.56,122.39 L386.94,121.67 L386.31,120.86 L385.69,121.15 L385.06,121.03 L384.44,120.97 L383.81,121.28 L383.19,122.13 L382.56,121.93 L381.94,121.86 L381.32,121.76 L380.69,120.71 L380.07,119.46 L379.44,119.01 L378.82,118.08 L378.19,116.81 L377.57,116.48 L376.95,115.63 L376.32,115.02 L375.7,114.76 L375.07,115.04 L374.45,114.93 L373.82,114.79 L373.2,115.37 L372.57,114.89 L371.95,113.17 L371.33,112.99 L370.7,111.77 L370.08,110.72 L369.45,109.26 L368.83,107.77 L368.2,105.91 L367.58,103.58 L366.95,101.41 L366.33,98.85 L365.71,97.31 L365.08,95.97 L364.46,95.39 L363.83,97.29 L363.21,99.35 L362.58,101.08 L361.96,102.1 L361.34,102.62 L360.71,102.59 L360.09,102.22 L359.46,101.11 L358.84,100.21 L358.21,98.98 L357.59,98.97 L356.96,99.15 L356.34,99.94 L355.72,101.14 L355.09,102.84 L354.47,103.92 L353.84,105.83 L353.22,107.18 L352.59,108.26 L351.97,108.28 L351.34,108.53 L350.72,107.84 L350.1,106.57 L349.47,105.45 L348.85,103.39 L348.22,101.9 L347.6,100.01 L346.97,97.78 L346.35,95.38 L345.73,93.85 L345.1,91.35 L344.48,89.82 L343.85,88.38 L343.23,88.21 L342.6,88.81 L341.98,90.74 L341.35,95.04 L340.73,101.71 L340.11,111.33 L339.48,120.43 L338.86,128.38 L338.23,134.67 L337.61,134.6 L336.98,131.72 L336.36,127.35 L335.73,125.47 L335.11,126.64 L334.49,129.56 L333.86,132.09 L333.24,132.82 L332.61,129.97 L331.99,124.71 L331.36,120.13 L330.74,117.26 L330.12,115.81 L329.49,114.41 L328.87,114.1 L328.24,113.91 L327.62,114.31 L326.99,114.15 L326.37,114.54 L325.74,114.79 L325.12,115.03 L324.5,114.7 L323.87,114.98 L323.25,114.84 L322.62,114.25 L322,114.27 L321.37,114.66 L320.75,114.38 L320.12,114.16 L319.5,114.2 L318.88,114 L318.25,113.5 L317.63,113.6 L317,113.95 L316.38,114.08 L315.75,114.72 L315.13,113.81 L314.51,112.97 L313.88,113.21 L313.26,112.76 L312.63,112.85 L312.01,112.71 L311.38,113.04 L310.76,113.42 L310.13,113.28 L309.51,113.3 L308.89,113.49 L308.26,112.58 L307.64,113.5 L307.01,113.64 L306.39,113.38 L305.76,113.95 L305.14,113.92 L304.51,113.38 L303.89,113.25 L303.27,112.55 L302.64,112.35 L302.02,112.26 L301.39,111.44 L300.77,112.12 L300.14,112.85 L299.52,112.48 L298.9,112.63 L298.27,112.09 L297.65,112.09 L297.02,111.11 L296.4,111.32 L295.77,111.17 L295.15,111.06 L294.52,110.77 L293.9,111.18Z" fill="#000" fill-opacity="0.11"/><path d="M293.9,34 V190.4 H450" fill="none" stroke="#cdcdcd" stroke-width="1"/><path d="M293.9,161.07 h-1.9" stroke="#cdcdcd" stroke-width="1"/><path d="M293.9,112.2 h-1.9" stroke="#cdcdcd" stroke-width="1"/><path d="M293.9,63.33 h-1.9" stroke="#cdcdcd" stroke-width="1"/><path d="M325.12,190.4 v1.9" stroke="#cdcdcd" stroke-width="1"/><path d="M387.56,190.4 v1.9" stroke="#cdcdcd" stroke-width="1"/><path d="M450,190.4 v1.9" stroke="#cdcdcd" stroke-width="1"/><path d="M325.12,37.3 V190.8" stroke="#1a1a1a" stroke-width="1.35" stroke-dasharray="5.1,4.19"/><path d="M293.9,110.66 L294.52,111.21 L295.15,111.92 L295.77,112.76 L296.4,114.22 L297.02,115.11 L297.65,114.41 L298.27,113.32 L298.9,113.36 L299.52,114.46 L300.14,115.14 L300.77,115.29 L301.39,115.45 L302.02,115.64 L302.64,115.26 L303.27,114.12 L303.89,113.07 L304.51,112.35 L305.14,112.02 L305.76,112.18 L306.39,112.46 L307.01,112.57 L307.64,112.69 L308.26,112.62 L308.89,112.09 L309.51,111.65 L310.13,111.47 L310.76,111.53 L311.38,111.7 L312.01,112.08 L312.63,112.27 L313.26,112.27 L313.88,112.64 L314.51,113.13 L315.13,113.02 L315.75,112.41 L316.38,111.91 L317,111.8 L317.63,111.83 L318.25,111.88 L318.88,112.18 L319.5,112.6 L320.12,113.04 L320.75,113.15 L321.37,113.03 L322,112.97 L322.62,112.97 L323.25,112.92 L323.87,112.87 L324.5,112.71 L325.12,112.7 L325.74,112.77 L326.37,112.35 L326.99,111.73 L327.62,111.26 L328.24,110.98 L328.87,110.81 L329.49,110.46 L330.12,110.11 L330.74,109.75 L331.36,109.34 L331.99,109.26 L332.61,109.34 L333.24,109.39 L333.86,109.66 L334.49,110.19 L335.11,110.72 L335.73,111.14 L336.36,111.12 L336.98,110.94 L337.61,111.06 L338.23,111.25 L338.86,111.21 L339.48,111.08 L340.11,110.94 L340.73,111.02 L341.35,111.14 L341.98,111.01 L342.6,110.99 L343.23,111.31 L343.85,111.63 L344.48,111.82 L345.1,111.9 L345.73,111.66 L346.35,111.19 L346.97,110.87 L347.6,111.3 L348.22,111.97 L348.85,112.34 L349.47,112.73 L350.1,112.94 L350.72,112.9 L351.34,112.87 L351.97,112.77 L352.59,112.55 L353.22,112.53 L353.84,112.56 L354.47,112.38 L355.09,112.01 L355.72,111.49 L356.34,111.14 L356.96,111.1 L357.59,111.2 L358.21,111.26 L358.84,111.29 L359.46,111.55 L360.09,111.89 L360.71,112.19 L361.34,112.39 L361.96,112.37 L362.58,112.26 L363.21,112.48 L363.83,112.72 L364.46,112.52 L365.08,111.98 L365.71,111.11 L366.33,110.37 L366.95,109.97 L367.58,109.65 L368.2,109.34 L368.83,108.92 L369.45,108.69 L370.08,108.95 L370.7,109.26 L371.33,109.33 L371.95,109.47 L372.57,109.7 L373.2,110.08 L373.82,110.72 L374.45,111.04 L375.07,110.88 L375.7,110.91 L376.32,111.05 L376.95,110.82 L377.57,110.38 L378.19,110.22 L378.82,110.29 L379.44,110.55 L380.07,111.07 L380.69,111.53 L381.32,111.75 L381.94,111.82 L382.56,111.85 L383.19,111.88 L383.81,111.87 L384.44,111.83 L385.06,111.61 L385.69,111.18 L386.31,110.78 L386.94,110.69 L387.56,110.93 L388.18,111.22 L388.81,111.39 L389.43,111.42 L390.06,111.68 L390.68,112.21 L391.31,112.6 L391.93,112.97 L392.56,113.33 L393.18,113.63 L393.8,113.88 L394.43,114.15 L395.05,114.48 L395.68,114.5 L396.3,114.33 L396.93,114.18 L397.55,114.07 L398.17,114.06 L398.8,114.05 L399.42,114.11 L400.05,114.05 L400.67,113.87 L401.3,113.83 L401.92,114.11 L402.55,114.48 L403.17,114.78 L403.79,115.05 L404.42,115.56 L405.04,116.05 L405.67,116.18 L406.29,115.79 L406.92,115.33 L407.54,115.1 L408.17,114.85 L408.79,114.59 L409.41,114.45 L410.04,114.37 L410.66,114.17 L411.29,113.97 L411.91,114.08 L412.54,113.91 L413.16,113.42 L413.78,113.15 L414.41,113.18 L415.03,113.19 L415.66,113.02 L416.28,112.71 L416.91,112.35 L417.53,112.23 L418.16,112.14 L418.78,111.91 L419.4,111.64 L420.03,111.49 L420.65,111.77 L421.28,112.51 L421.9,113.07 L422.53,112.93 L423.15,112.43 L423.78,112.24 L424.4,112 L425.02,111.8 L425.65,111.98 L426.27,112.19 L426.9,112.36 L427.52,112.4 L428.15,112.29 L428.77,112.5 L429.39,112.86 L430.02,112.81 L430.64,112.67 L431.27,112.55 L431.89,112.48 L432.52,112.44 L433.14,112.2 L433.77,111.69 L434.39,110.99 L435.01,110.71 L435.64,111.02 L436.26,111.17 L436.89,110.92 L437.51,110.65 L438.14,110.43 L438.76,110.55 L439.39,111.18 L440.01,112.03 L440.63,112.52 L441.26,112.33 L441.88,111.74 L442.51,110.99 L443.13,110.22 L443.76,109.98 L444.38,110.24 L445,110.47 L445.63,110.56 L446.25,110.91 L446.88,111.43 L447.5,111.58 L448.13,111.67 L448.75,111.81 L449.38,111.81 L450,111.74" fill="none" stroke="#858585" stroke-width="1.3" stroke-linejoin="round"/><path d="M293.9,110 L294.52,109.84 L295.15,109.94 L295.77,110.09 L296.4,110.14 L297.02,110.26 L297.65,110.57 L298.27,111.17 L298.9,111.68 L299.52,111.74 L300.14,111.19 L300.77,110.39 L301.39,110.07 L302.02,110.14 L302.64,110.51 L303.27,110.98 L303.89,111.6 L304.51,111.99 L305.14,111.95 L305.76,112 L306.39,111.97 L307.01,111.64 L307.64,111.31 L308.26,111.32 L308.89,111.45 L309.51,111.38 L310.13,111.35 L310.76,111.64 L311.38,111.98 L312.01,112.01 L312.63,111.82 L313.26,111.88 L313.88,112.26 L314.51,112.53 L315.13,112.64 L315.75,112.63 L316.38,112.38 L317,112.03 L317.63,111.91 L318.25,112.24 L318.88,112.6 L319.5,112.63 L320.12,112.67 L320.75,112.74 L321.37,112.61 L322,112.5 L322.62,112.56 L323.25,112.81 L323.87,113.11 L324.5,113.05 L325.12,112.77 L325.74,112.42 L326.37,111.96 L326.99,111.55 L327.62,111.31 L328.24,111.17 L328.87,111.17 L329.49,111.72 L330.12,112.72 L330.74,113.86 L331.36,116.51 L331.99,120.69 L332.61,126.37 L333.24,130.84 L333.86,129.32 L334.49,124.92 L335.11,119.25 L335.73,116.36 L336.36,119.04 L336.98,122.66 L337.61,126.85 L338.23,126.25 L338.86,119.78 L339.48,113.57 L340.11,106.46 L340.73,98.24 L341.35,89.14 L341.98,85.86 L342.6,83.94 L343.23,82.38 L343.85,82.09 L344.48,83.48 L345.1,85.24 L345.73,87.44 L346.35,89.35 L346.97,91.14 L347.6,93.18 L348.22,95.38 L348.85,97.34 L349.47,98.88 L350.1,100.24 L350.72,101.21 L351.34,101.96 L351.97,102.12 L352.59,101.3 L353.22,100 L353.84,98.68 L354.47,97.29 L355.09,95.81 L355.72,94.31 L356.34,93.4 L356.96,92.69 L357.59,92.1 L358.21,92.63 L358.84,93.85 L359.46,95.31 L360.09,96.75 L360.71,97.44 L361.34,97.78 L361.96,97.98 L362.58,96.59 L363.21,94.22 L363.83,92.06 L364.46,90.47 L365.08,90.97 L365.71,92.53 L366.33,94.53 L366.95,97.1 L367.58,99.39 L368.2,101.35 L368.83,103.02 L369.45,104.63 L370.08,106.29 L370.7,107.76 L371.33,108.95 L371.95,110.37 L372.57,111.5 L373.2,111.67 L373.82,111.36 L374.45,111.09 L375.07,110.86 L375.7,110.67 L376.32,110.98 L376.95,111.65 L377.57,112.34 L378.19,113.35 L378.82,114.2 L379.44,114.75 L380.07,115.45 L380.69,116.13 L381.32,116.61 L381.94,116.92 L382.56,116.97 L383.19,116.67 L383.81,116.24 L384.44,115.76 L385.06,115.28 L385.69,115.29 L386.31,115.85 L386.94,116.68 L387.56,117.36 L388.18,117.97 L388.81,118.44 L389.43,118.23 L390.06,117.42 L390.68,116.74 L391.31,116.13 L391.93,116.04 L392.56,116.34 L393.18,116.82 L393.8,117.29 L394.43,117.69 L395.05,117.96 L395.68,117.77 L396.3,117.07 L396.93,116.64 L397.55,116.37 L398.17,115.88 L398.8,115.51 L399.42,115.13 L400.05,114.84 L400.67,114.77 L401.3,114.65 L401.92,114.42 L402.55,114.18 L403.17,114.03 L403.79,113.77 L404.42,113.46 L405.04,113.33 L405.67,113.44 L406.29,113.71 L406.92,114.18 L407.54,114.68 L408.17,115.14 L408.79,115.54 L409.41,115.69 L410.04,115.59 L410.66,115.34 L411.29,115.11 L411.91,115.02 L412.54,114.95 L413.16,114.8 L413.78,114.44 L414.41,114.09 L415.03,113.88 L415.66,113.63 L416.28,113.23 L416.91,113.1 L417.53,113.22 L418.16,113.24 L418.78,113.07 L419.4,112.79 L420.03,112.48 L420.65,112.11 L421.28,111.72 L421.9,111.44 L422.53,111.4 L423.15,111.48 L423.78,111.51 L424.4,111.51 L425.02,111.36 L425.65,111.18 L426.27,111.23 L426.9,111.37 L427.52,111.65 L428.15,111.8 L428.77,111.81 L429.39,111.93 L430.02,112.07 L430.64,112.22 L431.27,112.32 L431.89,112.31 L432.52,112.04 L433.14,111.52 L433.77,111.06 L434.39,110.8 L435.01,110.71 L435.64,110.27 L436.26,109.68 L436.89,109.23 L437.51,108.84 L438.14,108.67 L438.76,108.62 L439.39,108.34 L440.01,108.08 L440.63,108.2 L441.26,108.39 L441.88,108.41 L442.51,108.36 L443.13,108.24 L443.76,107.83 L444.38,107.4 L445,107.43 L445.63,107.66 L446.25,107.77 L446.88,107.86 L447.5,107.98 L448.13,108.06 L448.75,108.25 L449.38,108.4 L450,108.36" fill="none" stroke="#1c1c1c" stroke-width="1.35" stroke-linejoin="round"/><text x="287.2" y="167.77" text-anchor="end">-50</text><text x="287.2" y="118.9" text-anchor="end">0</text><text x="287.2" y="70.03" text-anchor="end">50</text><text x="324.52" y="214.2" text-anchor="middle">0</text><text x="386.96" y="214.2" text-anchor="middle">200</text><text x="449.4" y="214.2" text-anchor="middle">400</text>
<text x="121.4" y="13.3" text-anchor="middle" font-weight="bold" font-size="18.3" fill="#1a1a1a">Subject</text>
<text x="368.4" y="13.3" text-anchor="middle" font-weight="bold" font-size="18.3" fill="#1a1a1a">Population</text>
<text x="14.2" y="35.1">a)</text>
<text x="256" y="35.1">b)</text>
<text x="14.2" y="214.6">c)</text>
<text x="256" y="214.6">d)</text>
<text transform="translate(13.3,105.5) rotate(-90)" text-anchor="middle" font-size="16.1">Amplitude (µV)</text>
<path d="M354.5,49.3 H361.4" stroke="#1e1e1e" stroke-width="1.1"/>
<path d="M354.5,71.3 H361.4" stroke="#8a8a8a" stroke-width="1.1"/>
<text x="363.3" y="55.7" font-size="17.2">Flash VEP</text>
<text x="363.3" y="77.9" font-size="17.2">Control</text>
<defs><linearGradient id="c1" gradientUnits="userSpaceOnUse" x1="46.4" x2="209.5" y1="0" y2="0"><stop offset="0" stop-color="#929292"/><stop offset=".02" stop-color="#8f8f8f"/><stop offset=".04" stop-color="#8f8f8f"/><stop offset=".06" stop-color="#8d8d8d"/><stop offset=".08" stop-color="#8d8d8d"/><stop offset=".1" stop-color="#8e8e8e"/><stop offset=".12" stop-color="#8f8f8f"/><stop offset=".14" stop-color="#8c8c8c"/><stop offset=".16" stop-color="#8a8a8a"/><stop offset=".18" stop-color="#878787"/><stop offset=".2" stop-color="#838383"/><stop offset=".22" stop-color="#868686"/><stop offset=".24" stop-color="#868686"/><stop offset=".245" stop-color="#818181"/><stop offset=".25" stop-color="#777777"/><stop offset=".255" stop-color="#6b6b6b"/><stop offset=".26" stop-color="#606060"/><stop offset=".265" stop-color="#595959"/><stop offset=".27" stop-color="#5a5a5a"/><stop offset=".275" stop-color="#636363"/><stop offset=".28" stop-color="#6f6f6f"/><stop offset=".285" stop-color="#6a6a6a"/><stop offset=".29" stop-color="#1c1c1c"/><stop offset=".295" stop-color="#1c1c1c"/><stop offset=".3" stop-color="#747474"/><stop offset=".305" stop-color="#939393"/><stop offset=".31" stop-color="#9f9f9f"/><stop offset=".315" stop-color="#b1b1b1"/><stop offset=".32" stop-color="#c6c6c6"/><stop offset=".325" stop-color="#dadada"/><stop offset=".33" stop-color="#e8e8e8"/><stop offset=".335" stop-color="#ebebeb"/><stop offset=".34" stop-color="#e8e8e8"/><stop offset=".345" stop-color="#e5e5e5"/><stop offset=".35" stop-color="#e5e5e5"/><stop offset=".355" stop-color="#e6e6e6"/><stop offset=".36" stop-color="#e5e5e5"/><stop offset=".365" stop-color="#e2e2e2"/><stop offset=".37" stop-color="#dedede"/><stop offset=".375" stop-color="#dcdcdc"/><stop offset=".38" stop-color="#dadada"/><stop offset=".385" stop-color="#d8d8d8"/><stop offset=".39" stop-color="#d6d6d6"/><stop offset=".395" stop-color="#d4d4d4"/><stop offset=".4" stop-color="#d2d2d2"/><stop offset=".405" stop-color="#d0d0d0"/><stop offset=".41" stop-color="#cbcbcb"/><stop offset=".415" stop-color="#c7c7c7"/><stop offset=".42" stop-color="#c8c8c8"/><stop offset=".425" stop-color="#cbcbcb"/><stop offset=".43" stop-color="#cccccc"/><stop offset=".435" stop-color="#c7c7c7"/><stop offset=".44" stop-color="#bdbdbd"/><stop offset=".445" stop-color="#b2b2b2"/><stop offset=".45" stop-color="#adadad"/><stop offset=".455" stop-color="#b0b0b0"/><stop offset=".46" stop-color="#b8b8b8"/><stop offset=".465" stop-color="#c1c1c1"/><stop offset=".47" stop-color="#c8c8c8"/><stop offset=".475" stop-color="#c8c8c8"/><stop offset=".48" stop-color="#c2c2c2"/><stop offset=".485" stop-color="#b9b9b9"/><stop offset=".49" stop-color="#afafaf"/><stop offset=".495" stop-color="#a7a7a7"/><stop offset=".5" stop-color="#a3a3a3"/><stop offset=".52" stop-color="#959595"/><stop offset=".54" stop-color="#868686"/><stop offset=".56" stop-color="#7e7e7e"/><stop offset=".58" stop-color="#878787"/><stop offset=".6" stop-color="#898989"/><stop offset=".62" stop-color="#838383"/><stop offset=".64" stop-color="#787878"/><stop offset=".66" stop-color="#767676"/><stop offset=".68" stop-color="#7f7f7f"/><stop offset=".7" stop-color="#7f7f7f"/><stop offset=".72" stop-color="#797979"/><stop offset=".74" stop-color="#787878"/><stop offset=".76" stop-color="#7b7b7b"/><stop offset=".78" stop-color="#7a7a7a"/><stop offset=".8" stop-color="#797979"/><stop offset=".82" stop-color="#757575"/><stop offset=".84" stop-color="#727272"/><stop offset=".86" stop-color="#777777"/><stop offset=".88" stop-color="#7b7b7b"/><stop offset=".9" stop-color="#7c7c7c"/><stop offset=".92" stop-color="#797979"/><stop offset=".94" stop-color="#777777"/><stop offset=".96" stop-color="#7d7d7d"/><stop offset=".98" stop-color="#7e7e7e"/><stop offset="1" stop-color="#7e7e7e"/></linearGradient><linearGradient id="c2" gradientUnits="userSpaceOnUse" x1="46.4" x2="209.5" y1="0" y2="0"><stop offset="0" stop-color="#8c8c8c"/><stop offset=".02" stop-color="#888888"/><stop offset=".04" stop-color="#878787"/><stop offset=".06" stop-color="#8c8c8c"/><stop offset=".08" stop-color="#8d8d8d"/><stop offset=".1" stop-color="#8a8a8a"/><stop offset=".12" stop-color="#838383"/><stop offset=".14" stop-color="#818181"/><stop offset=".16" stop-color="#848484"/><stop offset=".18" stop-color="#898989"/><stop offset=".2" stop-color="#898989"/><stop offset=".22" stop-color="#858585"/><stop offset=".24" stop-color="#838383"/><stop offset=".245" stop-color="#7f7f7f"/><stop offset=".25" stop-color="#777777"/><stop offset=".255" stop-color="#6b6b6b"/><stop offset=".26" stop-color="#5f5f5f"/><stop offset=".265" stop-color="#585858"/><stop offset=".27" stop-color="#595959"/><stop offset=".275" stop-color="#636363"/><stop offset=".28" stop-color="#717171"/><stop offset=".285" stop-color="#777777"/><stop offset=".29" stop-color="#484848"/><stop offset=".295" stop-color="#444444"/><stop offset=".3" stop-color="#8d8d8d"/><stop offset=".305" stop-color="#a2a2a2"/><stop offset=".31" stop-color="#b1b1b1"/><stop offset=".315" stop-color="#c4c4c4"/><stop offset=".32" stop-color="#dcdcdc"/><stop offset=".325" stop-color="#f3f3f3"/><stop offset=".33" stop-color="#ffffff"/><stop offset=".335" stop-color="#ffffff"/><stop offset=".34" stop-color="#fefefe"/><stop offset=".345" stop-color="#f6f6f6"/><stop offset=".35" stop-color="#f1f1f1"/><stop offset=".355" stop-color="#efefef"/><stop offset=".36" stop-color="#f0f0f0"/><stop offset=".365" stop-color="#f2f2f2"/><stop offset=".37" stop-color="#f2f2f2"/><stop offset=".375" stop-color="#eeeeee"/><stop offset=".38" stop-color="#e7e7e7"/><stop offset=".385" stop-color="#e1e1e1"/><stop offset=".39" stop-color="#dadada"/><stop offset=".395" stop-color="#d4d4d4"/><stop offset=".4" stop-color="#cccccc"/><stop offset=".405" stop-color="#c5c5c5"/><stop offset=".41" stop-color="#bebebe"/><stop offset=".415" stop-color="#b7b7b7"/><stop offset=".42" stop-color="#afafaf"/><stop offset=".425" stop-color="#a7a7a7"/><stop offset=".43" stop-color="#a2a2a2"/><stop offset=".435" stop-color="#a1a1a1"/><stop offset=".44" stop-color="#a4a4a4"/><stop offset=".445" stop-color="#a8a8a8"/><stop offset=".45" stop-color="#ababab"/><stop offset=".455" stop-color="#aeaeae"/><stop offset=".46" stop-color="#afafaf"/><stop offset=".465" stop-color="#acacac"/><stop offset=".47" stop-color="#a6a6a6"/><stop offset=".475" stop-color="#9e9e9e"/><stop offset=".48" stop-color="#969696"/><stop offset=".485" stop-color="#929292"/><stop offset=".49" stop-color="#919191"/><stop offset=".495" stop-color="#939393"/><stop offset=".5" stop-color="#929292"/><stop offset=".52" stop-color="#8d8d8d"/><stop offset=".54" stop-color="#848484"/><stop offset=".56" stop-color="#7d7d7d"/><stop offset=".58" stop-color="#848484"/><stop offset=".6" stop-color="#7f7f7f"/><stop offset=".62" stop-color="#787878"/><stop offset=".64" stop-color="#757575"/><stop offset=".66" stop-color="#707070"/><stop offset=".68" stop-color="#6e6e6e"/><stop offset=".7" stop-color="#777777"/><stop offset=".72" stop-color="#808080"/><stop offset=".74" stop-color="#848484"/><stop offset=".76" stop-color="#858585"/><stop offset=".78" stop-color="#818181"/><stop offset=".8" stop-color="#818181"/><stop offset=".82" stop-color="#858585"/><stop offset=".84" stop-color="#878787"/><stop offset=".86" stop-color="#898989"/><stop offset=".88" stop-color="#8a8a8a"/><stop offset=".9" stop-color="#8d8d8d"/><stop offset=".92" stop-color="#919191"/><stop offset=".94" stop-color="#8f8f8f"/><stop offset=".96" stop-color="#8c8c8c"/><stop offset=".98" stop-color="#8e8e8e"/><stop offset="1" stop-color="#8f8f8f"/></linearGradient><linearGradient id="c3" gradientUnits="userSpaceOnUse" x1="46.4" x2="209.5" y1="0" y2="0"><stop offset="0" stop-color="#898989"/><stop offset=".02" stop-color="#8b8b8b"/><stop offset=".04" stop-color="#8a8a8a"/><stop offset=".06" stop-color="#868686"/><stop offset=".08" stop-color="#878787"/><stop offset=".1" stop-color="#858585"/><stop offset=".12" stop-color="#898989"/><stop offset=".14" stop-color="#8d8d8d"/><stop offset=".16" stop-color="#898989"/><stop offset=".18" stop-color="#898989"/><stop offset=".2" stop-color="#8d8d8d"/><stop offset=".22" stop-color="#8c8c8c"/><stop offset=".24" stop-color="#828282"/><stop offset=".245" stop-color="#7a7a7a"/><stop offset=".25" stop-color="#707070"/><stop offset=".255" stop-color="#646464"/><stop offset=".26" stop-color="#5a5a5a"/><stop offset=".265" stop-color="#545454"/><stop offset=".27" stop-color="#555555"/><stop offset=".275" stop-color="#5d5d5d"/><stop offset=".28" stop-color="#686868"/><stop offset=".285" stop-color="#676767"/><stop offset=".29" stop-color="#353535"/><stop offset=".295" stop-color="#2d2d2d"/><stop offset=".3" stop-color="#6e6e6e"/><stop offset=".305" stop-color="#878787"/><stop offset=".31" stop-color="#949494"/><stop offset=".315" stop-color="#a6a6a6"/><stop offset=".32" stop-color="#bbbbbb"/><stop offset=".325" stop-color="#cbcbcb"/><stop offset=".33" stop-color="#d1d1d1"/><stop offset=".335" stop-color="#cecece"/><stop offset=".34" stop-color="#c7c7c7"/><stop offset=".345" stop-color="#c4c4c4"/><stop offset=".35" stop-color="#c4c4c4"/><stop offset=".355" stop-color="#c5c5c5"/><stop offset=".36" stop-color="#c5c5c5"/><stop offset=".365" stop-color="#c3c3c3"/><stop offset=".37" stop-color="#bfbfbf"/><stop offset=".375" stop-color="#bcbcbc"/><stop offset=".38" stop-color="#b9b9b9"/><stop offset=".385" stop-color="#b8b8b8"/><stop offset=".39" stop-color="#b5b5b5"/><stop offset=".395" stop-color="#b3b3b3"/><stop offset=".4" stop-color="#b3b3b3"/><stop offset=".405" stop-color="#b5b5b5"/><stop offset=".41" stop-color="#b5b5b5"/><stop offset=".415" stop-color="#b4b4b4"/><stop offset=".42" stop-color="#b4b4b4"/><stop offset=".425" stop-color="#b4b4b4"/><stop offset=".43" stop-color="#b1b1b1"/><stop offset=".435" stop-color="#acacac"/><stop offset=".44" stop-color="#aaaaaa"/><stop offset=".445" stop-color="#ababab"/><stop offset=".45" stop-color="#acacac"/><stop offset=".455" stop-color="#aaaaaa"/><stop offset=".46" stop-color="#a7a7a7"/><stop offset=".465" stop-color="#a3a3a3"/><stop offset=".47" stop-color="#9b9b9b"/><stop offset=".475" stop-color="#909090"/><stop offset=".48" stop-color="#838383"/><stop offset=".485" stop-color="#7a7a7a"/><stop offset=".49" stop-color="#787878"/><stop offset=".495" stop-color="#797979"/><stop offset=".5" stop-color="#767676"/><stop offset=".52" stop-color="#707070"/><stop offset=".54" stop-color="#666666"/><stop offset=".56" stop-color="#626262"/><stop offset=".58" stop-color="#626262"/><stop offset=".6" stop-color="#606060"/><stop offset=".62" stop-color="#606060"/><stop offset=".64" stop-color="#646464"/><stop offset=".66" stop-color="#686868"/><stop offset=".68" stop-color="#696969"/><stop offset=".7" stop-color="#6e6e6e"/><stop offset=".72" stop-color="#7c7c7c"/><stop offset=".74" stop-color="#848484"/><stop offset=".76" stop-color="#888888"/><stop offset=".78" stop-color="#878787"/><stop offset=".8" stop-color="#898989"/><stop offset=".82" stop-color="#8e8e8e"/><stop offset=".84" stop-color="#8e8e8e"/><stop offset=".86" stop-color="#8b8b8b"/><stop offset=".88" stop-color="#8a8a8a"/><stop offset=".9" stop-color="#8a8a8a"/><stop offset=".92" stop-color="#8c8c8c"/><stop offset=".94" stop-color="#8b8b8b"/><stop offset=".96" stop-color="#888888"/><stop offset=".98" stop-color="#8a8a8a"/><stop offset="1" stop-color="#8c8c8c"/></linearGradient><linearGradient id="c4" gradientUnits="userSpaceOnUse" x1="46.4" x2="209.5" y1="0" y2="0"><stop offset="0" stop-color="#8a8a8a"/><stop offset=".02" stop-color="#898989"/><stop offset=".04" stop-color="#898989"/><stop offset=".06" stop-color="#8b8b8b"/><stop offset=".08" stop-color="#868686"/><stop offset=".1" stop-color="#828282"/><stop offset=".12" stop-color="#878787"/><stop offset=".14" stop-color="#898989"/><stop offset=".16" stop-color="#858585"/><stop offset=".18" stop-color="#838383"/><stop offset=".2" stop-color="#878787"/><stop offset=".22" stop-color="#8d8d8d"/><stop offset=".24" stop-color="#868686"/><stop offset=".245" stop-color="#7f7f7f"/><stop offset=".25" stop-color="#757575"/><stop offset=".255" stop-color="#686868"/><stop offset=".26" stop-color="#5e5e5e"/><stop offset=".265" stop-color="#5c5c5c"/><stop offset=".27" stop-color="#636363"/><stop offset=".275" stop-color="#6e6e6e"/><stop offset=".28" stop-color="#787878"/><stop offset=".285" stop-color="#757575"/><stop offset=".29" stop-color="#434343"/><stop offset=".295" stop-color="#3a3a3a"/><stop offset=".3" stop-color="#7b7b7b"/><stop offset=".305" stop-color="#939393"/><stop offset=".31" stop-color="#a4a4a4"/><stop offset=".315" stop-color="#bcbcbc"/><stop offset=".32" stop-color="#d8d8d8"/><stop offset=".325" stop-color="#ececec"/><stop offset=".33" stop-color="#f0f0f0"/><stop offset=".335" stop-color="#e8e8e8"/><stop offset=".34" stop-color="#dbdbdb"/><stop offset=".345" stop-color="#d2d2d2"/><stop offset=".35" stop-color="#cdcdcd"/><stop offset=".355" stop-color="#d0d0d0"/><stop offset=".36" stop-color="#d6d6d6"/><stop offset=".365" stop-color="#dbdbdb"/><stop offset=".37" stop-color="#dcdcdc"/><stop offset=".375" stop-color="#d8d8d8"/><stop offset=".38" stop-color="#d1d1d1"/><stop offset=".385" stop-color="#cacaca"/><stop offset=".39" stop-color="#c6c6c6"/><stop offset=".395" stop-color="#c7c7c7"/><stop offset=".4" stop-color="#c8c8c8"/><stop offset=".405" stop-color="#c7c7c7"/><stop offset=".41" stop-color="#c3c3c3"/><stop offset=".415" stop-color="#bdbdbd"/><stop offset=".42" stop-color="#b5b5b5"/><stop offset=".425" stop-color="#ababab"/><stop offset=".43" stop-color="#a4a4a4"/><stop offset=".435" stop-color="#a1a1a1"/><stop offset=".44" stop-color="#a3a3a3"/><stop offset=".445" stop-color="#a8a8a8"/><stop offset=".45" stop-color="#acacac"/><stop offset=".455" stop-color="#adadad"/><stop offset=".46" stop-color="#acacac"/><stop offset=".465" stop-color="#a8a8a8"/><stop offset=".47" stop-color="#a1a1a1"/><stop offset=".475" stop-color="#9a9a9a"/><stop offset=".48" stop-color="#969696"/><stop offset=".485" stop-color="#959595"/><stop offset=".49" stop-color="#939393"/><stop offset=".495" stop-color="#8f8f8f"/><stop offset=".5" stop-color="#8c8c8c"/><stop offset=".52" stop-color="#878787"/><stop offset=".54" stop-color="#777777"/><stop offset=".56" stop-color="#6c6c6c"/><stop offset=".58" stop-color="#6f6f6f"/><stop offset=".6" stop-color="#6b6b6b"/><stop offset=".62" stop-color="#646464"/><stop offset=".64" stop-color="#6d6d6d"/><stop offset=".66" stop-color="#7c7c7c"/><stop offset=".68" stop-color="#7d7d7d"/><stop offset=".7" stop-color="#7e7e7e"/><stop offset=".72" stop-color="#818181"/><stop offset=".74" stop-color="#838383"/><stop offset=".76" stop-color="#838383"/><stop offset=".78" stop-color="#838383"/><stop offset=".8" stop-color="#838383"/><stop offset=".82" stop-color="#858585"/><stop offset=".84" stop-color="#878787"/><stop offset=".86" stop-color="#878787"/><stop offset=".88" stop-color="#898989"/><stop offset=".9" stop-color="#8b8b8b"/><stop offset=".92" stop-color="#8b8b8b"/><stop offset=".94" stop-color="#888888"/><stop offset=".96" stop-color="#8b8b8b"/><stop offset=".98" stop-color="#888888"/><stop offset="1" stop-color="#7f7f7f"/></linearGradient><linearGradient id="c5" gradientUnits="userSpaceOnUse" x1="46.4" x2="209.5" y1="0" y2="0"><stop offset="0" stop-color="#898989"/><stop offset=".02" stop-color="#8c8c8c"/><stop offset=".04" stop-color="#8e8e8e"/><stop offset=".06" stop-color="#8e8e8e"/><stop offset=".08" stop-color="#8a8a8a"/><stop offset=".1" stop-color="#858585"/><stop offset=".12" stop-color="#7e7e7e"/><stop offset=".14" stop-color="#848484"/><stop offset=".16" stop-color="#8a8a8a"/><stop offset=".18" stop-color="#848484"/><stop offset=".2" stop-color="#848484"/><stop offset=".22" stop-color="#8c8c8c"/><stop offset=".24" stop-color="#8a8a8a"/><stop offset=".245" stop-color="#838383"/><stop offset=".25" stop-color="#787878"/><stop offset=".255" stop-color="#6a6a6a"/><stop offset=".26" stop-color="#5d5d5d"/><stop offset=".265" stop-color="#565656"/><stop offset=".27" stop-color="#575757"/><stop offset=".275" stop-color="#606060"/><stop offset=".28" stop-color="#6c6c6c"/><stop offset=".285" stop-color="#6c6c6c"/><stop offset=".29" stop-color="#323232"/><stop offset=".295" stop-color="#2b2b2b"/><stop offset=".3" stop-color="#808080"/><stop offset=".305" stop-color="#a0a0a0"/><stop offset=".31" stop-color="#b9b9b9"/><stop offset=".315" stop-color="#d7d7d7"/><stop offset=".32" stop-color="#f3f3f3"/><stop offset=".325" stop-color="#ffffff"/><stop offset=".33" stop-color="#ffffff"/><stop offset=".335" stop-color="#f1f1f1"/><stop offset=".34" stop-color="#e1e1e1"/><stop offset=".345" stop-color="#d7d7d7"/><stop offset=".35" stop-color="#d5d5d5"/><stop offset=".355" stop-color="#d8d8d8"/><stop offset=".36" stop-color="#dcdcdc"/><stop offset=".365" stop-color="#dedede"/><stop offset=".37" stop-color="#dbdbdb"/><stop offset=".375" stop-color="#d4d4d4"/><stop offset=".38" stop-color="#cccccc"/><stop offset=".385" stop-color="#c5c5c5"/><stop offset=".39" stop-color="#c1c1c1"/><stop offset=".395" stop-color="#bdbdbd"/><stop offset=".4" stop-color="#b9b9b9"/><stop offset=".405" stop-color="#b9b9b9"/><stop offset=".41" stop-color="#bebebe"/><stop offset=".415" stop-color="#c3c3c3"/><stop offset=".42" stop-color="#c4c4c4"/><stop offset=".425" stop-color="#bebebe"/><stop offset=".43" stop-color="#b4b4b4"/><stop offset=".435" stop-color="#acacac"/><stop offset=".44" stop-color="#a8a8a8"/><stop offset=".445" stop-color="#a9a9a9"/><stop offset=".45" stop-color="#adadad"/><stop offset=".455" stop-color="#b2b2b2"/><stop offset=".46" stop-color="#b5b5b5"/><stop offset=".465" stop-color="#b3b3b3"/><stop offset=".47" stop-color="#aaaaaa"/><stop offset=".475" stop-color="#a0a0a0"/><stop offset=".48" stop-color="#979797"/><stop offset=".485" stop-color="#909090"/><stop offset=".49" stop-color="#8b8b8b"/><stop offset=".495" stop-color="#858585"/><stop offset=".5" stop-color="#7d7d7d"/><stop offset=".52" stop-color="#696969"/><stop offset=".54" stop-color="#6d6d6d"/><stop offset=".56" stop-color="#717171"/><stop offset=".58" stop-color="#777777"/><stop offset=".6" stop-color="#818181"/><stop offset=".62" stop-color="#888888"/><stop offset=".64" stop-color="#808080"/><stop offset=".66" stop-color="#7b7b7b"/><stop offset=".68" stop-color="#7d7d7d"/><stop offset=".7" stop-color="#7b7b7b"/><stop offset=".72" stop-color="#7d7d7d"/><stop offset=".74" stop-color="#818181"/><stop offset=".76" stop-color="#868686"/><stop offset=".78" stop-color="#8c8c8c"/><stop offset=".8" stop-color="#8d8d8d"/><stop offset=".82" stop-color="#8c8c8c"/><stop offset=".84" stop-color="#858585"/><stop offset=".86" stop-color="#828282"/><stop offset=".88" stop-color="#898989"/><stop offset=".9" stop-color="#8b8b8b"/><stop offset=".92" stop-color="#8b8b8b"/><stop offset=".94" stop-color="#898989"/><stop offset=".96" stop-color="#868686"/><stop offset=".98" stop-color="#818181"/><stop offset="1" stop-color="#808080"/></linearGradient><linearGradient id="c6" gradientUnits="userSpaceOnUse" x1="46.4" x2="209.5" y1="0" y2="0"><stop offset="0" stop-color="#8b8b8b"/><stop offset=".02" stop-color="#868686"/><stop offset=".04" stop-color="#828282"/><stop offset=".06" stop-color="#858585"/><stop offset=".08" stop-color="#858585"/><stop offset=".1" stop-color="#808080"/><stop offset=".12" stop-color="#838383"/><stop offset=".14" stop-color="#868686"/><stop offset=".16" stop-color="#868686"/><stop offset=".18" stop-color="#888888"/><stop offset=".2" stop-color="#8b8b8b"/><stop offset=".22" stop-color="#8a8a8a"/><stop offset=".24" stop-color="#888888"/><stop offset=".245" stop-color="#828282"/><stop offset=".25" stop-color="#787878"/><stop offset=".255" stop-color="#6b6b6b"/><stop offset=".26" stop-color="#606060"/><stop offset=".265" stop-color="#5a5a5a"/><stop offset=".27" stop-color="#5c5c5c"/><stop offset=".275" stop-color="#676767"/><stop offset=".28" stop-color="#757575"/><stop offset=".285" stop-color="#777777"/><stop offset=".29" stop-color="#3d3d3d"/><stop offset=".295" stop-color="#333333"/><stop offset=".3" stop-color="#828282"/><stop offset=".305" stop-color="#9a9a9a"/><stop offset=".31" stop-color="#ababab"/><stop offset=".315" stop-color="#c4c4c4"/><stop offset=".32" stop-color="#e2e2e2"/><stop offset=".325" stop-color="#fdfdfd"/><stop offset=".33" stop-color="#ffffff"/><stop offset=".335" stop-color="#ffffff"/><stop offset=".34" stop-color="#ffffff"/><stop offset=".345" stop-color="#f7f7f7"/><stop offset=".35" stop-color="#ebebeb"/><stop offset=".355" stop-color="#e2e2e2"/><stop offset=".36" stop-color="#dcdcdc"/><stop offset=".365" stop-color="#d6d6d6"/><stop offset=".37" stop-color="#cfcfcf"/><stop offset=".375" stop-color="#c8c8c8"/><stop offset=".38" stop-color="#c2c2c2"/><stop offset=".385" stop-color="#bfbfbf"/><stop offset=".39" stop-color="#bcbcbc"/><stop offset=".395" stop-color="#bbbbbb"/><stop offset=".4" stop-color="#bebebe"/><stop offset=".405" stop-color="#c2c2c2"/><stop offset=".41" stop-color="#c2c2c2"/><stop offset=".415" stop-color="#bbbbbb"/><stop offset=".42" stop-color="#b0b0b0"/><stop offset=".425" stop-color="#a8a8a8"/><stop offset=".43" stop-color="#a4a4a4"/><stop offset=".435" stop-color="#a5a5a5"/><stop offset=".44" stop-color="#a7a7a7"/><stop offset=".445" stop-color="#aaaaaa"/><stop offset=".45" stop-color="#adadad"/><stop offset=".455" stop-color="#adadad"/><stop offset=".46" stop-color="#ababab"/><stop offset=".465" stop-color="#a7a7a7"/><stop offset=".47" stop-color="#a5a5a5"/><stop offset=".475" stop-color="#a2a2a2"/><stop offset=".48" stop-color="#9d9d9d"/><stop offset=".485" stop-color="#959595"/><stop offset=".49" stop-color="#8c8c8c"/><stop offset=".495" stop-color="#838383"/><stop offset=".5" stop-color="#7d7d7d"/><stop offset=".52" stop-color="#757575"/><stop offset=".54" stop-color="#727272"/><stop offset=".56" stop-color="#6a6a6a"/><stop offset=".58" stop-color="#696969"/><stop offset=".6" stop-color="#676767"/><stop offset=".62" stop-color="#606060"/><stop offset=".64" stop-color="#646464"/><stop offset=".66" stop-color="#6c6c6c"/><stop offset=".68" stop-color="#6f6f6f"/><stop offset=".7" stop-color="#757575"/><stop offset=".72" stop-color="#757575"/><stop offset=".74" stop-color="#757575"/><stop offset=".76" stop-color="#828282"/><stop offset=".78" stop-color="#8e8e8e"/><stop offset=".8" stop-color="#8b8b8b"/><stop offset=".82" stop-color="#868686"/><stop offset=".84" stop-color="#888888"/><stop offset=".86" stop-color="#858585"/><stop offset=".88" stop-color="#828282"/><stop offset=".9" stop-color="#848484"/><stop offset=".92" stop-color="#898989"/><stop offset=".94" stop-color="#8a8a8a"/><stop offset=".96" stop-color="#898989"/><stop offset=".98" stop-color="#8b8b8b"/><stop offset="1" stop-color="#8c8c8c"/></linearGradient><linearGradient id="c7" gradientUnits="userSpaceOnUse" x1="46.4" x2="209.5" y1="0" y2="0"><stop offset="0" stop-color="#808080"/><stop offset=".02" stop-color="#818181"/><stop offset=".04" stop-color="#868686"/><stop offset=".06" stop-color="#8e8e8e"/><stop offset=".08" stop-color="#8a8a8a"/><stop offset=".1" stop-color="#838383"/><stop offset=".12" stop-color="#858585"/><stop offset=".14" stop-color="#858585"/><stop offset=".16" stop-color="#888888"/><stop offset=".18" stop-color="#8c8c8c"/><stop offset=".2" stop-color="#8c8c8c"/><stop offset=".22" stop-color="#888888"/><stop offset=".24" stop-color="#818181"/><stop offset=".245" stop-color="#7b7b7b"/><stop offset=".25" stop-color="#707070"/><stop offset=".255" stop-color="#646464"/><stop offset=".26" stop-color="#595959"/><stop offset=".265" stop-color="#535353"/><stop offset=".27" stop-color="#555555"/><stop offset=".275" stop-color="#5f5f5f"/><stop offset=".28" stop-color="#696969"/><stop offset=".285" stop-color="#636363"/><stop offset=".29" stop-color="#464646"/><stop offset=".295" stop-color="#464646"/><stop offset=".3" stop-color="#6e6e6e"/><stop offset=".305" stop-color="#8f8f8f"/><stop offset=".31" stop-color="#a5a5a5"/><stop offset=".315" stop-color="#c2c2c2"/><stop offset=".32" stop-color="#e4e4e4"/><stop offset=".325" stop-color="#ffffff"/><stop offset=".33" stop-color="#ffffff"/><stop offset=".335" stop-color="#ffffff"/><stop offset=".34" stop-color="#f8f8f8"/><stop offset=".345" stop-color="#ebebeb"/><stop offset=".35" stop-color="#e5e5e5"/><stop offset=".355" stop-color="#e4e4e4"/><stop offset=".36" stop-color="#e8e8e8"/><stop offset=".365" stop-color="#ededed"/><stop offset=".37" stop-color="#f0f0f0"/><stop offset=".375" stop-color="#eeeeee"/><stop offset=".38" stop-color="#e7e7e7"/><stop offset=".385" stop-color="#dddddd"/><stop offset=".39" stop-color="#d5d5d5"/><stop offset=".395" stop-color="#cfcfcf"/><stop offset=".4" stop-color="#cacaca"/><stop offset=".405" stop-color="#c4c4c4"/><stop offset=".41" stop-color="#bebebe"/><stop offset=".415" stop-color="#b7b7b7"/><stop offset=".42" stop-color="#b2b2b2"/><stop offset=".425" stop-color="#b1b1b1"/><stop offset=".43" stop-color="#b2b2b2"/><stop offset=".435" stop-color="#b3b3b3"/><stop offset=".44" stop-color="#b2b2b2"/><stop offset=".445" stop-color="#aeaeae"/><stop offset=".45" stop-color="#a8a8a8"/><stop offset=".455" stop-color="#a2a2a2"/><stop offset=".46" stop-color="#a1a1a1"/><stop offset=".465" stop-color="#a3a3a3"/><stop offset=".47" stop-color="#a4a4a4"/><stop offset=".475" stop-color="#a2a2a2"/><stop offset=".48" stop-color="#9d9d9d"/><stop offset=".485" stop-color="#969696"/><stop offset=".49" stop-color="#909090"/><stop offset=".495" stop-color="#898989"/><stop offset=".5" stop-color="#828282"/><stop offset=".52" stop-color="#7b7b7b"/><stop offset=".54" stop-color="#696969"/><stop offset=".56" stop-color="#717171"/><stop offset=".58" stop-color="#777777"/><stop offset=".6" stop-color="#797979"/><stop offset=".62" stop-color="#6b6b6b"/><stop offset=".64" stop-color="#6d6d6d"/><stop offset=".66" stop-color="#767676"/><stop offset=".68" stop-color="#797979"/><stop offset=".7" stop-color="#808080"/><stop offset=".72" stop-color="#868686"/><stop offset=".74" stop-color="#878787"/><stop offset=".76" stop-color="#848484"/><stop offset=".78" stop-color="#868686"/><stop offset=".8" stop-color="#8c8c8c"/><stop offset=".82" stop-color="#8e8e8e"/><stop offset=".84" stop-color="#8e8e8e"/><stop offset=".86" stop-color="#8f8f8f"/><stop offset=".88" stop-color="#8d8d8d"/><stop offset=".9" stop-color="#898989"/><stop offset=".92" stop-color="#858585"/><stop offset=".94" stop-color="#838383"/><stop offset=".96" stop-color="#828282"/><stop offset=".98" stop-color="#898989"/><stop offset="1" stop-color="#8c8c8c"/></linearGradient><linearGradient id="c8" gradientUnits="userSpaceOnUse" x1="46.4" x2="209.5" y1="0" y2="0"><stop offset="0" stop-color="#8a8a8a"/><stop offset=".02" stop-color="#8b8b8b"/><stop offset=".04" stop-color="#8e8e8e"/><stop offset=".06" stop-color="#8e8e8e"/><stop offset=".08" stop-color="#8f8f8f"/><stop offset=".1" stop-color="#8e8e8e"/><stop offset=".12" stop-color="#8b8b8b"/><stop offset=".14" stop-color="#8b8b8b"/><stop offset=".16" stop-color="#8a8a8a"/><stop offset=".18" stop-color="#8a8a8a"/><stop offset=".2" stop-color="#8a8a8a"/><stop offset=".22" stop-color="#8a8a8a"/><stop offset=".24" stop-color="#828282"/><stop offset=".245" stop-color="#7b7b7b"/><stop offset=".25" stop-color="#707070"/><stop offset=".255" stop-color="#636363"/><stop offset=".26" stop-color="#585858"/><stop offset=".265" stop-color="#535353"/><stop offset=".27" stop-color="#575757"/><stop offset=".275" stop-color="#626262"/><stop offset=".28" stop-color="#6e6e6e"/><stop offset=".285" stop-color="#6b6b6b"/><stop offset=".29" stop-color="#5c5c5c"/><stop offset=".295" stop-color="#606060"/><stop offset=".3" stop-color="#7e7e7e"/><stop offset=".305" stop-color="#959595"/><stop offset=".31" stop-color="#a2a2a2"/><stop offset=".315" stop-color="#b2b2b2"/><stop offset=".32" stop-color="#c5c5c5"/><stop offset=".325" stop-color="#d7d7d7"/><stop offset=".33" stop-color="#e1e1e1"/><stop offset=".335" stop-color="#e1e1e1"/><stop offset=".34" stop-color="#dadada"/><stop offset=".345" stop-color="#d2d2d2"/><stop offset=".35" stop-color="#cdcdcd"/><stop offset=".355" stop-color="#cdcdcd"/><stop offset=".36" stop-color="#cfcfcf"/><stop offset=".365" stop-color="#d2d2d2"/><stop offset=".37" stop-color="#d3d3d3"/><stop offset=".375" stop-color="#d0d0d0"/><stop offset=".38" stop-color="#cccccc"/><stop offset=".385" stop-color="#c8c8c8"/><stop offset=".39" stop-color="#c5c5c5"/><stop offset=".395" stop-color="#c2c2c2"/><stop offset=".4" stop-color="#bebebe"/><stop offset=".405" stop-color="#bababa"/><stop offset=".41" stop-color="#b7b7b7"/><stop offset=".415" stop-color="#b5b5b5"/><stop offset=".42" stop-color="#b5b5b5"/><stop offset=".425" stop-color="#b8b8b8"/><stop offset=".43" stop-color="#b9b9b9"/><stop offset=".435" stop-color="#b3b3b3"/><stop offset=".44" stop-color="#a9a9a9"/><stop offset=".445" stop-color="#a3a3a3"/><stop offset=".45" stop-color="#a2a2a2"/><stop offset=".455" stop-color="#a4a4a4"/><stop offset=".46" stop-color="#a3a3a3"/><stop offset=".465" stop-color="#a2a2a2"/><stop offset=".47" stop-color="#9f9f9f"/><stop offset=".475" stop-color="#9b9b9b"/><stop offset=".48" stop-color="#979797"/><stop offset=".485" stop-color="#949494"/><stop offset=".49" stop-color="#929292"/><stop offset=".495" stop-color="#929292"/><stop offset=".5" stop-color="#929292"/><stop offset=".52" stop-color="#8b8b8b"/><stop offset=".54" stop-color="#7c7c7c"/><stop offset=".56" stop-color="#6d6d6d"/><stop offset=".58" stop-color="#6f6f6f"/><stop offset=".6" stop-color="#6d6d6d"/><stop offset=".62" stop-color="#6d6d6d"/><stop offset=".64" stop-color="#6e6e6e"/><stop offset=".66" stop-color="#757575"/><stop offset=".68" stop-color="#7d7d7d"/><stop offset=".7" stop-color="#7d7d7d"/><stop offset=".72" stop-color="#7d7d7d"/><stop offset=".74" stop-color="#7f7f7f"/><stop offset=".76" stop-color="#828282"/><stop offset=".78" stop-color="#808080"/><stop offset=".8" stop-color="#7c7c7c"/><stop offset=".82" stop-color="#7d7d7d"/><stop offset=".84" stop-color="#808080"/><stop offset=".86" stop-color="#828282"/><stop offset=".88" stop-color="#818181"/><stop offset=".9" stop-color="#818181"/><stop offset=".92" stop-color="#858585"/><stop offset=".94" stop-color="#848484"/><stop offset=".96" stop-color="#7f7f7f"/><stop offset=".98" stop-color="#7c7c7c"/><stop offset="1" stop-color="#7e7e7e"/></linearGradient><linearGradient id="c9" gradientUnits="userSpaceOnUse" x1="46.4" x2="209.5" y1="0" y2="0"><stop offset="0" stop-color="#8e8e8e"/><stop offset=".02" stop-color="#8c8c8c"/><stop offset=".04" stop-color="#8d8d8d"/><stop offset=".06" stop-color="#8d8d8d"/><stop offset=".08" stop-color="#898989"/><stop offset=".1" stop-color="#8a8a8a"/><stop offset=".12" stop-color="#8b8b8b"/><stop offset=".14" stop-color="#8a8a8a"/><stop offset=".16" stop-color="#8a8a8a"/><stop offset=".18" stop-color="#898989"/><stop offset=".2" stop-color="#8d8d8d"/><stop offset=".22" stop-color="#8b8b8b"/><stop offset=".24" stop-color="#858585"/><stop offset=".245" stop-color="#808080"/><stop offset=".25" stop-color="#797979"/><stop offset=".255" stop-color="#717171"/><stop offset=".26" stop-color="#696969"/><stop offset=".265" stop-color="#666666"/><stop offset=".27" stop-color="#686868"/><stop offset=".275" stop-color="#6c6c6c"/><stop offset=".28" stop-color="#6c6c6c"/><stop offset=".285" stop-color="#646464"/><stop offset=".29" stop-color="#606060"/><stop offset=".295" stop-color="#707070"/><stop offset=".3" stop-color="#8c8c8c"/><stop offset=".305" stop-color="#a0a0a0"/><stop offset=".31" stop-color="#aeaeae"/><stop offset=".315" stop-color="#b8b8b8"/><stop offset=".32" stop-color="#bfbfbf"/><stop offset=".325" stop-color="#c2c2c2"/><stop offset=".33" stop-color="#c2c2c2"/><stop offset=".335" stop-color="#c3c3c3"/><stop offset=".34" stop-color="#c4c4c4"/><stop offset=".345" stop-color="#c6c6c6"/><stop offset=".35" stop-color="#c6c6c6"/><stop offset=".355" stop-color="#c7c7c7"/><stop offset=".36" stop-color="#cbcbcb"/><stop offset=".365" stop-color="#d0d0d0"/><stop offset=".37" stop-color="#d2d2d2"/><stop offset=".375" stop-color="#d0d0d0"/><stop offset=".38" stop-color="#cccccc"/><stop offset=".385" stop-color="#c7c7c7"/><stop offset=".39" stop-color="#c0c0c0"/><stop offset=".395" stop-color="#b8b8b8"/><stop offset=".4" stop-color="#afafaf"/><stop offset=".405" stop-color="#a8a8a8"/><stop offset=".41" stop-color="#a5a5a5"/><stop offset=".415" stop-color="#a6a6a6"/><stop offset=".42" stop-color="#aaaaaa"/><stop offset=".425" stop-color="#aaaaaa"/><stop offset=".43" stop-color="#a6a6a6"/><stop offset=".435" stop-color="#9f9f9f"/><stop offset=".44" stop-color="#9a9a9a"/><stop offset=".445" stop-color="#9a9a9a"/><stop offset=".45" stop-color="#9d9d9d"/><stop offset=".455" stop-color="#a1a1a1"/><stop offset=".46" stop-color="#a1a1a1"/><stop offset=".465" stop-color="#9c9c9c"/><stop offset=".47" stop-color="#949494"/><stop offset=".475" stop-color="#8e8e8e"/><stop offset=".48" stop-color="#8b8b8b"/><stop offset=".485" stop-color="#898989"/><stop offset=".49" stop-color="#898989"/><stop offset=".495" stop-color="#898989"/><stop offset=".5" stop-color="#898989"/><stop offset=".52" stop-color="#858585"/><stop offset=".54" stop-color="#838383"/><stop offset=".56" stop-color="#7b7b7b"/><stop offset=".58" stop-color="#7d7d7d"/><stop offset=".6" stop-color="#858585"/><stop offset=".62" stop-color="#8b8b8b"/><stop offset=".64" stop-color="#8d8d8d"/><stop offset=".66" stop-color="#8c8c8c"/><stop offset=".68" stop-color="#8e8e8e"/><stop offset=".7" stop-color="#909090"/><stop offset=".72" stop-color="#909090"/><stop offset=".74" stop-color="#8d8d8d"/><stop offset=".76" stop-color="#8d8d8d"/><stop offset=".78" stop-color="#8f8f8f"/><stop offset=".8" stop-color="#929292"/><stop offset=".82" stop-color="#919191"/><stop offset=".84" stop-color="#8e8e8e"/><stop offset=".86" stop-color="#8b8b8b"/><stop offset=".88" stop-color="#8d8d8d"/><stop offset=".9" stop-color="#959595"/><stop offset=".92" stop-color="#979797"/><stop offset=".94" stop-color="#929292"/><stop offset=".96" stop-color="#929292"/><stop offset=".98" stop-color="#949494"/><stop offset="1" stop-color="#939393"/></linearGradient><linearGradient id="c10" gradientUnits="userSpaceOnUse" x1="46.4" x2="209.5" y1="0" y2="0"><stop offset="0" stop-color="#878787"/><stop offset=".02" stop-color="#828282"/><stop offset=".04" stop-color="#838383"/><stop offset=".06" stop-color="#898989"/><stop offset=".08" stop-color="#8d8d8d"/><stop offset=".1" stop-color="#8c8c8c"/><stop offset=".12" stop-color="#868686"/><stop offset=".14" stop-color="#828282"/><stop offset=".16" stop-color="#8a8a8a"/><stop offset=".18" stop-color="#8c8c8c"/><stop offset=".2" stop-color="#888888"/><stop offset=".22" stop-color="#8b8b8b"/><stop offset=".24" stop-color="#8c8c8c"/><stop offset=".245" stop-color="#868686"/><stop offset=".25" stop-color="#7e7e7e"/><stop offset=".255" stop-color="#737373"/><stop offset=".26" stop-color="#6a6a6a"/><stop offset=".265" stop-color="#636363"/><stop offset=".27" stop-color="#616161"/><stop offset=".275" stop-color="#636363"/><stop offset=".28" stop-color="#616161"/><stop offset=".285" stop-color="#585858"/><stop offset=".29" stop-color="#535353"/><stop offset=".295" stop-color="#606060"/><stop offset=".3" stop-color="#7b7b7b"/><stop offset=".305" stop-color="#939393"/><stop offset=".31" stop-color="#a3a3a3"/><stop offset=".315" stop-color="#b0b0b0"/><stop offset=".32" stop-color="#bbbbbb"/><stop offset=".325" stop-color="#c1c1c1"/><stop offset=".33" stop-color="#c3c3c3"/><stop offset=".335" stop-color="#c1c1c1"/><stop offset=".34" stop-color="#bdbdbd"/><stop offset=".345" stop-color="#bababa"/><stop offset=".35" stop-color="#bbbbbb"/><stop offset=".355" stop-color="#bfbfbf"/><stop offset=".36" stop-color="#c5c5c5"/><stop offset=".365" stop-color="#c9c9c9"/><stop offset=".37" stop-color="#c9c9c9"/><stop offset=".375" stop-color="#c4c4c4"/><stop offset=".38" stop-color="#c1c1c1"/><stop offset=".385" stop-color="#c2c2c2"/><stop offset=".39" stop-color="#c5c5c5"/><stop offset=".395" stop-color="#c4c4c4"/><stop offset=".4" stop-color="#bfbfbf"/><stop offset=".405" stop-color="#b7b7b7"/><stop offset=".41" stop-color="#b1b1b1"/><stop offset=".415" stop-color="#adadad"/><stop offset=".42" stop-color="#aaaaaa"/><stop offset=".425" stop-color="#a8a8a8"/><stop offset=".43" stop-color="#a8a8a8"/><stop offset=".435" stop-color="#a9a9a9"/><stop offset=".44" stop-color="#a8a8a8"/><stop offset=".445" stop-color="#a2a2a2"/><stop offset=".45" stop-color="#9b9b9b"/><stop offset=".455" stop-color="#959595"/><stop offset=".46" stop-color="#909090"/><stop offset=".465" stop-color="#8b8b8b"/><stop offset=".47" stop-color="#858585"/><stop offset=".475" stop-color="#828282"/><stop offset=".48" stop-color="#808080"/><stop offset=".485" stop-color="#7f7f7f"/><stop offset=".49" stop-color="#7d7d7d"/><stop offset=".495" stop-color="#7b7b7b"/><stop offset=".5" stop-color="#777777"/><stop offset=".52" stop-color="#737373"/><stop offset=".54" stop-color="#757575"/><stop offset=".56" stop-color="#7c7c7c"/><stop offset=".58" stop-color="#828282"/><stop offset=".6" stop-color="#7b7b7b"/><stop offset=".62" stop-color="#7b7b7b"/><stop offset=".64" stop-color="#7e7e7e"/><stop offset=".66" stop-color="#848484"/><stop offset=".68" stop-color="#888888"/><stop offset=".7" stop-color="#8d8d8d"/><stop offset=".72" stop-color="#909090"/><stop offset=".74" stop-color="#8f8f8f"/><stop offset=".76" stop-color="#8f8f8f"/><stop offset=".78" stop-color="#909090"/><stop offset=".8" stop-color="#8e8e8e"/><stop offset=".82" stop-color="#8d8d8d"/><stop offset=".84" stop-color="#8d8d8d"/><stop offset=".86" stop-color="#8c8c8c"/><stop offset=".88" stop-color="#8a8a8a"/><stop offset=".9" stop-color="#898989"/><stop offset=".92" stop-color="#888888"/><stop offset=".94" stop-color="#868686"/><stop offset=".96" stop-color="#8b8b8b"/><stop offset=".98" stop-color="#8a8a8a"/><stop offset="1" stop-color="#828282"/></linearGradient><linearGradient id="c11" gradientUnits="userSpaceOnUse" x1="46.4" x2="209.5" y1="0" y2="0"><stop offset="0" stop-color="#838383"/><stop offset=".02" stop-color="#848484"/><stop offset=".04" stop-color="#888888"/><stop offset=".06" stop-color="#888888"/><stop offset=".08" stop-color="#898989"/><stop offset=".1" stop-color="#8d8d8d"/><stop offset=".12" stop-color="#898989"/><stop offset=".14" stop-color="#8b8b8b"/><stop offset=".16" stop-color="#8c8c8c"/><stop offset=".18" stop-color="#888888"/><stop offset=".2" stop-color="#828282"/><stop offset=".22" stop-color="#858585"/><stop offset=".24" stop-color="#878787"/><stop offset=".245" stop-color="#838383"/><stop offset=".25" stop-color="#7a7a7a"/><stop offset=".255" stop-color="#707070"/><stop offset=".26" stop-color="#666666"/><stop offset=".265" stop-color="#606060"/><stop offset=".27" stop-color="#626262"/><stop offset=".275" stop-color="#696969"/><stop offset=".28" stop-color="#6b6b6b"/><stop offset=".285" stop-color="#636363"/><stop offset=".29" stop-color="#5b5b5b"/><stop offset=".295" stop-color="#646464"/><stop offset=".3" stop-color="#7c7c7c"/><stop offset=".305" stop-color="#929292"/><stop offset=".31" stop-color="#a2a2a2"/><stop offset=".315" stop-color="#b1b1b1"/><stop offset=".32" stop-color="#bebebe"/><stop offset=".325" stop-color="#c8c8c8"/><stop offset=".33" stop-color="#cdcdcd"/><stop offset=".335" stop-color="#cecece"/><stop offset=".34" stop-color="#cccccc"/><stop offset=".345" stop-color="#cccccc"/><stop offset=".35" stop-color="#cfcfcf"/><stop offset=".355" stop-color="#d5d5d5"/><stop offset=".36" stop-color="#dadada"/><stop offset=".365" stop-color="#dadada"/><stop offset=".37" stop-color="#d5d5d5"/><stop offset=".375" stop-color="#cdcdcd"/><stop offset=".38" stop-color="#c2c2c2"/><stop offset=".385" stop-color="#b9b9b9"/><stop offset=".39" stop-color="#b3b3b3"/><stop offset=".395" stop-color="#afafaf"/><stop offset=".4" stop-color="#adadad"/><stop offset=".405" stop-color="#aaaaaa"/><stop offset=".41" stop-color="#a5a5a5"/><stop offset=".415" stop-color="#9f9f9f"/><stop offset=".42" stop-color="#9a9a9a"/><stop offset=".425" stop-color="#969696"/><stop offset=".43" stop-color="#949494"/><stop offset=".435" stop-color="#949494"/><stop offset=".44" stop-color="#959595"/><stop offset=".445" stop-color="#979797"/><stop offset=".45" stop-color="#979797"/><stop offset=".455" stop-color="#919191"/><stop offset=".46" stop-color="#888888"/><stop offset=".465" stop-color="#7e7e7e"/><stop offset=".47" stop-color="#787878"/><stop offset=".475" stop-color="#747474"/><stop offset=".48" stop-color="#717171"/><stop offset=".485" stop-color="#6c6c6c"/><stop offset=".49" stop-color="#666666"/><stop offset=".495" stop-color="#626262"/><stop offset=".5" stop-color="#606060"/><stop offset=".52" stop-color="#676767"/><stop offset=".54" stop-color="#747474"/><stop offset=".56" stop-color="#868686"/><stop offset=".58" stop-color="#838383"/><stop offset=".6" stop-color="#828282"/><stop offset=".62" stop-color="#7f7f7f"/><stop offset=".64" stop-color="#7c7c7c"/><stop offset=".66" stop-color="#7b7b7b"/><stop offset=".68" stop-color="#848484"/><stop offset=".7" stop-color="#868686"/><stop offset=".72" stop-color="#868686"/><stop offset=".74" stop-color="#888888"/><stop offset=".76" stop-color="#8e8e8e"/><stop offset=".78" stop-color="#939393"/><stop offset=".8" stop-color="#969696"/><stop offset=".82" stop-color="#959595"/><stop offset=".84" stop-color="#8f8f8f"/><stop offset=".86" stop-color="#8e8e8e"/><stop offset=".88" stop-color="#909090"/><stop offset=".9" stop-color="#929292"/><stop offset=".92" stop-color="#959595"/><stop offset=".94" stop-color="#949494"/><stop offset=".96" stop-color="#919191"/><stop offset=".98" stop-color="#8f8f8f"/><stop offset="1" stop-color="#909090"/></linearGradient><linearGradient id="c12" gradientUnits="userSpaceOnUse" x1="46.4" x2="209.5" y1="0" y2="0"><stop offset="0" stop-color="#8c8c8c"/><stop offset=".02" stop-color="#8a8a8a"/><stop offset=".04" stop-color="#8b8b8b"/><stop offset=".06" stop-color="#8b8b8b"/><stop offset=".08" stop-color="#888888"/><stop offset=".1" stop-color="#848484"/><stop offset=".12" stop-color="#818181"/><stop offset=".14" stop-color="#848484"/><stop offset=".16" stop-color="#878787"/><stop offset=".18" stop-color="#858585"/><stop offset=".2" stop-color="#828282"/><stop offset=".22" stop-color="#858585"/><stop offset=".24" stop-color="#818181"/><stop offset=".245" stop-color="#7e7e7e"/><stop offset=".25" stop-color="#797979"/><stop offset=".255" stop-color="#727272"/><stop offset=".26" stop-color="#6b6b6b"/><stop offset=".265" stop-color="#666666"/><stop offset=".27" stop-color="#676767"/><stop offset=".275" stop-color="#6a6a6a"/><stop offset=".28" stop-color="#696969"/><stop offset=".285" stop-color="#616161"/><stop offset=".29" stop-color="#5f5f5f"/><stop offset=".295" stop-color="#717171"/><stop offset=".3" stop-color="#8e8e8e"/><stop offset=".305" stop-color="#a0a0a0"/><stop offset=".31" stop-color="#acacac"/><stop offset=".315" stop-color="#b4b4b4"/><stop offset=".32" stop-color="#bababa"/><stop offset=".325" stop-color="#bebebe"/><stop offset=".33" stop-color="#bfbfbf"/><stop offset=".335" stop-color="#bdbdbd"/><stop offset=".34" stop-color="#bbbbbb"/><stop offset=".345" stop-color="#bcbcbc"/><stop offset=".35" stop-color="#bfbfbf"/><stop offset=".355" stop-color="#c5c5c5"/><stop offset=".36" stop-color="#cacaca"/><stop offset=".365" stop-color="#cccccc"/><stop offset=".37" stop-color="#cbcbcb"/><stop offset=".375" stop-color="#c9c9c9"/><stop offset=".38" stop-color="#c5c5c5"/><stop offset=".385" stop-color="#bfbfbf"/><stop offset=".39" stop-color="#b6b6b6"/><stop offset=".395" stop-color="#aeaeae"/><stop offset=".4" stop-color="#a8a8a8"/><stop offset=".405" stop-color="#a6a6a6"/><stop offset=".41" stop-color="#a7a7a7"/><stop offset=".415" stop-color="#a8a8a8"/><stop offset=".42" stop-color="#a9a9a9"/><stop offset=".425" stop-color="#a8a8a8"/><stop offset=".43" stop-color="#a8a8a8"/><stop offset=".435" stop-color="#a8a8a8"/><stop offset=".44" stop-color="#a5a5a5"/><stop offset=".445" stop-color="#a0a0a0"/><stop offset=".45" stop-color="#9b9b9b"/><stop offset=".455" stop-color="#9a9a9a"/><stop offset=".46" stop-color="#9a9a9a"/><stop offset=".465" stop-color="#979797"/><stop offset=".47" stop-color="#929292"/><stop offset=".475" stop-color="#8c8c8c"/><stop offset=".48" stop-color="#838383"/><stop offset=".485" stop-color="#797979"/><stop offset=".49" stop-color="#727272"/><stop offset=".495" stop-color="#717171"/><stop offset=".5" stop-color="#747474"/><stop offset=".52" stop-color="#6e6e6e"/><stop offset=".54" stop-color="#717171"/><stop offset=".56" stop-color="#7b7b7b"/><stop offset=".58" stop-color="#808080"/><stop offset=".6" stop-color="#7e7e7e"/><stop offset=".62" stop-color="#858585"/><stop offset=".64" stop-color="#898989"/><stop offset=".66" stop-color="#888888"/><stop offset=".68" stop-color="#868686"/><stop offset=".7" stop-color="#868686"/><stop offset=".72" stop-color="#818181"/><stop offset=".74" stop-color="#838383"/><stop offset=".76" stop-color="#838383"/><stop offset=".78" stop-color="#818181"/><stop offset=".8" stop-color="#7f7f7f"/><stop offset=".82" stop-color="#808080"/><stop offset=".84" stop-color="#818181"/><stop offset=".86" stop-color="#818181"/><stop offset=".88" stop-color="#7e7e7e"/><stop offset=".9" stop-color="#7f7f7f"/><stop offset=".92" stop-color="#848484"/><stop offset=".94" stop-color="#838383"/><stop offset=".96" stop-color="#818181"/><stop offset=".98" stop-color="#7f7f7f"/><stop offset="1" stop-color="#7c7c7c"/></linearGradient><linearGradient id="c13" gradientUnits="userSpaceOnUse" x1="46.4" x2="209.5" y1="0" y2="0"><stop offset="0" stop-color="#8c8c8c"/><stop offset=".02" stop-color="#8b8b8b"/><stop offset=".04" stop-color="#878787"/><stop offset=".06" stop-color="#858585"/><stop offset=".08" stop-color="#888888"/><stop offset=".1" stop-color="#898989"/><stop offset=".12" stop-color="#8a8a8a"/><stop offset=".14" stop-color="#8a8a8a"/><stop offset=".16" stop-color="#8a8a8a"/><stop offset=".18" stop-color="#8a8a8a"/><stop offset=".2" stop-color="#898989"/><stop offset=".22" stop-color="#8a8a8a"/><stop offset=".24" stop-color="#888888"/><stop offset=".245" stop-color="#838383"/><stop offset=".25" stop-color="#7d7d7d"/><stop offset=".255" stop-color="#747474"/><stop offset=".26" stop-color="#6c6c6c"/><stop offset=".265" stop-color="#686868"/><stop offset=".27" stop-color="#696969"/><stop offset=".275" stop-color="#6c6c6c"/><stop offset=".28" stop-color="#6a6a6a"/><stop offset=".285" stop-color="#606060"/><stop offset=".29" stop-color="#5a5a5a"/><stop offset=".295" stop-color="#676767"/><stop offset=".3" stop-color="#838383"/><stop offset=".305" stop-color="#989898"/><stop offset=".31" stop-color="#a8a8a8"/><stop offset=".315" stop-color="#b5b5b5"/><stop offset=".32" stop-color="#bfbfbf"/><stop offset=".325" stop-color="#c5c5c5"/><stop offset=".33" stop-color="#c6c6c6"/><stop offset=".335" stop-color="#c6c6c6"/><stop offset=".34" stop-color="#c5c5c5"/><stop offset=".345" stop-color="#c6c6c6"/><stop offset=".35" stop-color="#c9c9c9"/><stop offset=".355" stop-color="#cdcdcd"/><stop offset=".36" stop-color="#d1d1d1"/><stop offset=".365" stop-color="#d3d3d3"/><stop offset=".37" stop-color="#d2d2d2"/><stop offset=".375" stop-color="#cecece"/><stop offset=".38" stop-color="#c9c9c9"/><stop offset=".385" stop-color="#c3c3c3"/><stop offset=".39" stop-color="#bdbdbd"/><stop offset=".395" stop-color="#b6b6b6"/><stop offset=".4" stop-color="#b0b0b0"/><stop offset=".405" stop-color="#ababab"/><stop offset=".41" stop-color="#a6a6a6"/><stop offset=".415" stop-color="#a2a2a2"/><stop offset=".42" stop-color="#9f9f9f"/><stop offset=".425" stop-color="#9e9e9e"/><stop offset=".43" stop-color="#9d9d9d"/><stop offset=".435" stop-color="#9d9d9d"/><stop offset=".44" stop-color="#9d9d9d"/><stop offset=".445" stop-color="#9d9d9d"/><stop offset=".45" stop-color="#9d9d9d"/><stop offset=".455" stop-color="#9b9b9b"/><stop offset=".46" stop-color="#989898"/><stop offset=".465" stop-color="#949494"/><stop offset=".47" stop-color="#909090"/><stop offset=".475" stop-color="#8c8c8c"/><stop offset=".48" stop-color="#878787"/><stop offset=".485" stop-color="#828282"/><stop offset=".49" stop-color="#7e7e7e"/><stop offset=".495" stop-color="#7a7a7a"/><stop offset=".5" stop-color="#777777"/><stop offset=".52" stop-color="#737373"/><stop offset=".54" stop-color="#797979"/><stop offset=".56" stop-color="#7f7f7f"/><stop offset=".58" stop-color="#7f7f7f"/><stop offset=".6" stop-color="#7d7d7d"/><stop offset=".62" stop-color="#7f7f7f"/><stop offset=".64" stop-color="#838383"/><stop offset=".66" stop-color="#838383"/><stop offset=".68" stop-color="#828282"/><stop offset=".7" stop-color="#838383"/><stop offset=".72" stop-color="#868686"/><stop offset=".74" stop-color="#888888"/><stop offset=".76" stop-color="#898989"/><stop offset=".78" stop-color="#878787"/><stop offset=".8" stop-color="#878787"/><stop offset=".82" stop-color="#868686"/><stop offset=".84" stop-color="#868686"/><stop offset=".86" stop-color="#878787"/><stop offset=".88" stop-color="#868686"/><stop offset=".9" stop-color="#878787"/><stop offset=".92" stop-color="#858585"/><stop offset=".94" stop-color="#868686"/><stop offset=".96" stop-color="#878787"/><stop offset=".98" stop-color="#858585"/><stop offset="1" stop-color="#858585"/></linearGradient><linearGradient id="c14" gradientUnits="userSpaceOnUse" x1="46.4" x2="209.5" y1="0" y2="0"><stop offset="0" stop-color="#878787"/><stop offset=".02" stop-color="#878787"/><stop offset=".04" stop-color="#888888"/><stop offset=".06" stop-color="#8a8a8a"/><stop offset=".08" stop-color="#8a8a8a"/><stop offset=".1" stop-color="#888888"/><stop offset=".12" stop-color="#868686"/><stop offset=".14" stop-color="#878787"/><stop offset=".16" stop-color="#898989"/><stop offset=".18" stop-color="#8b8b8b"/><stop offset=".2" stop-color="#8a8a8a"/><stop offset=".22" stop-color="#878787"/><stop offset=".24" stop-color="#828282"/><stop offset=".245" stop-color="#7e7e7e"/><stop offset=".25" stop-color="#787878"/><stop offset=".255" stop-color="#707070"/><stop offset=".26" stop-color="#686868"/><stop offset=".265" stop-color="#656565"/><stop offset=".27" stop-color="#676767"/><stop offset=".275" stop-color="#6b6b6b"/><stop offset=".28" stop-color="#6a6a6a"/><stop offset=".285" stop-color="#616161"/><stop offset=".29" stop-color="#5c5c5c"/><stop offset=".295" stop-color="#6a6a6a"/><stop offset=".3" stop-color="#858585"/><stop offset=".305" stop-color="#9a9a9a"/><stop offset=".31" stop-color="#a9a9a9"/><stop offset=".315" stop-color="#b5b5b5"/><stop offset=".32" stop-color="#bebebe"/><stop offset=".325" stop-color="#c3c3c3"/><stop offset=".33" stop-color="#c1c1c1"/><stop offset=".335" stop-color="#bababa"/><stop offset=".34" stop-color="#b6b6b6"/><stop offset=".345" stop-color="#bababa"/><stop offset=".35" stop-color="#c2c2c2"/><stop offset=".355" stop-color="#cacaca"/><stop offset=".36" stop-color="#d0d0d0"/><stop offset=".365" stop-color="#d4d4d4"/><stop offset=".37" stop-color="#d5d5d5"/><stop offset=".375" stop-color="#d3d3d3"/><stop offset=".38" stop-color="#d0d0d0"/><stop offset=".385" stop-color="#cbcbcb"/><stop offset=".39" stop-color="#c5c5c5"/><stop offset=".395" stop-color="#bfbfbf"/><stop offset=".4" stop-color="#b8b8b8"/><stop offset=".405" stop-color="#b1b1b1"/><stop offset=".41" stop-color="#ababab"/><stop offset=".415" stop-color="#a6a6a6"/><stop offset=".42" stop-color="#a3a3a3"/><stop offset=".425" stop-color="#a0a0a0"/><stop offset=".43" stop-color="#a0a0a0"/><stop offset=".435" stop-color="#a0a0a0"/><stop offset=".44" stop-color="#a1a1a1"/><stop offset=".445" stop-color="#a1a1a1"/><stop offset=".45" stop-color="#a1a1a1"/><stop offset=".455" stop-color="#9f9f9f"/><stop offset=".46" stop-color="#9c9c9c"/><stop offset=".465" stop-color="#999999"/><stop offset=".47" stop-color="#959595"/><stop offset=".475" stop-color="#909090"/><stop offset=".48" stop-color="#8c8c8c"/><stop offset=".485" stop-color="#898989"/><stop offset=".49" stop-color="#848484"/><stop offset=".495" stop-color="#808080"/><stop offset=".5" stop-color="#7c7c7c"/><stop offset=".52" stop-color="#6f6f6f"/><stop offset=".54" stop-color="#6e6e6e"/><stop offset=".56" stop-color="#747474"/><stop offset=".58" stop-color="#797979"/><stop offset=".6" stop-color="#7a7a7a"/><stop offset=".62" stop-color="#7c7c7c"/><stop offset=".64" stop-color="#7e7e7e"/><stop offset=".66" stop-color="#808080"/><stop offset=".68" stop-color="#828282"/><stop offset=".7" stop-color="#838383"/><stop offset=".72" stop-color="#818181"/><stop offset=".74" stop-color="#818181"/><stop offset=".76" stop-color="#838383"/><stop offset=".78" stop-color="#838383"/><stop offset=".8" stop-color="#828282"/><stop offset=".82" stop-color="#838383"/><stop offset=".84" stop-color="#828282"/><stop offset=".86" stop-color="#808080"/><stop offset=".88" stop-color="#818181"/><stop offset=".9" stop-color="#848484"/><stop offset=".92" stop-color="#878787"/><stop offset=".94" stop-color="#888888"/><stop offset=".96" stop-color="#878787"/><stop offset=".98" stop-color="#858585"/><stop offset="1" stop-color="#868686"/></linearGradient><linearGradient id="c15" gradientUnits="userSpaceOnUse" x1="46.4" x2="209.5" y1="0" y2="0"><stop offset="0" stop-color="#8a8a8a"/><stop offset=".02" stop-color="#898989"/><stop offset=".04" stop-color="#888888"/><stop offset=".06" stop-color="#888888"/><stop offset=".08" stop-color="#898989"/><stop offset=".1" stop-color="#898989"/><stop offset=".12" stop-color="#8a8a8a"/><stop offset=".14" stop-color="#8a8a8a"/><stop offset=".16" stop-color="#8a8a8a"/><stop offset=".18" stop-color="#898989"/><stop offset=".2" stop-color="#888888"/><stop offset=".22" stop-color="#8a8a8a"/><stop offset=".24" stop-color="#898989"/><stop offset=".245" stop-color="#858585"/><stop offset=".25" stop-color="#7e7e7e"/><stop offset=".255" stop-color="#767676"/><stop offset=".26" stop-color="#6e6e6e"/><stop offset=".265" stop-color="#696969"/><stop offset=".27" stop-color="#6a6a6a"/><stop offset=".275" stop-color="#6d6d6d"/><stop offset=".28" stop-color="#6c6c6c"/><stop offset=".285" stop-color="#626262"/><stop offset=".29" stop-color="#5d5d5d"/><stop offset=".295" stop-color="#6a6a6a"/><stop offset=".3" stop-color="#858585"/><stop offset=".305" stop-color="#999999"/><stop offset=".31" stop-color="#a8a8a8"/><stop offset=".315" stop-color="#b4b4b4"/><stop offset=".32" stop-color="#bdbdbd"/><stop offset=".325" stop-color="#c2c2c2"/><stop offset=".33" stop-color="#c0c0c0"/><stop offset=".335" stop-color="#bababa"/><stop offset=".34" stop-color="#b6b6b6"/><stop offset=".345" stop-color="#b8b8b8"/><stop offset=".35" stop-color="#c0c0c0"/><stop offset=".355" stop-color="#c9c9c9"/><stop offset=".36" stop-color="#cfcfcf"/><stop offset=".365" stop-color="#d3d3d3"/><stop offset=".37" stop-color="#d4d4d4"/><stop offset=".375" stop-color="#d3d3d3"/><stop offset=".38" stop-color="#d0d0d0"/><stop offset=".385" stop-color="#cccccc"/><stop offset=".39" stop-color="#c7c7c7"/><stop offset=".395" stop-color="#c2c2c2"/><stop offset=".4" stop-color="#bcbcbc"/><stop offset=".405" stop-color="#b7b7b7"/><stop offset=".41" stop-color="#b1b1b1"/><stop offset=".415" stop-color="#adadad"/><stop offset=".42" stop-color="#a9a9a9"/><stop offset=".425" stop-color="#a6a6a6"/><stop offset=".43" stop-color="#a4a4a4"/><stop offset=".435" stop-color="#a3a3a3"/><stop offset=".44" stop-color="#a3a3a3"/><stop offset=".445" stop-color="#a2a2a2"/><stop offset=".45" stop-color="#a0a0a0"/><stop offset=".455" stop-color="#9e9e9e"/><stop offset=".46" stop-color="#9b9b9b"/><stop offset=".465" stop-color="#979797"/><stop offset=".47" stop-color="#939393"/><stop offset=".475" stop-color="#8f8f8f"/><stop offset=".48" stop-color="#8b8b8b"/><stop offset=".485" stop-color="#878787"/><stop offset=".49" stop-color="#828282"/><stop offset=".495" stop-color="#7e7e7e"/><stop offset=".5" stop-color="#7a7a7a"/><stop offset=".52" stop-color="#6e6e6e"/><stop offset=".54" stop-color="#6f6f6f"/><stop offset=".56" stop-color="#787878"/><stop offset=".58" stop-color="#7c7c7c"/><stop offset=".6" stop-color="#7a7a7a"/><stop offset=".62" stop-color="#7a7a7a"/><stop offset=".64" stop-color="#7b7b7b"/><stop offset=".66" stop-color="#7e7e7e"/><stop offset=".68" stop-color="#828282"/><stop offset=".7" stop-color="#838383"/><stop offset=".72" stop-color="#818181"/><stop offset=".74" stop-color="#808080"/><stop offset=".76" stop-color="#818181"/><stop offset=".78" stop-color="#818181"/><stop offset=".8" stop-color="#848484"/><stop offset=".82" stop-color="#858585"/><stop offset=".84" stop-color="#848484"/><stop offset=".86" stop-color="#848484"/><stop offset=".88" stop-color="#868686"/><stop offset=".9" stop-color="#868686"/><stop offset=".92" stop-color="#858585"/><stop offset=".94" stop-color="#848484"/><stop offset=".96" stop-color="#848484"/><stop offset=".98" stop-color="#858585"/><stop offset="1" stop-color="#868686"/></linearGradient><linearGradient id="c16" gradientUnits="userSpaceOnUse" x1="46.4" x2="209.5" y1="0" y2="0"><stop offset="0" stop-color="#878787"/><stop offset=".02" stop-color="#878787"/><stop offset=".04" stop-color="#878787"/><stop offset=".06" stop-color="#898989"/><stop offset=".08" stop-color="#8b8b8b"/><stop offset=".1" stop-color="#8b8b8b"/><stop offset=".12" stop-color="#8b8b8b"/><stop offset=".14" stop-color="#8b8b8b"/><stop offset=".16" stop-color="#8a8a8a"/><stop offset=".18" stop-color="#898989"/><stop offset=".2" stop-color="#888888"/><stop offset=".22" stop-color="#898989"/><stop offset=".24" stop-color="#888888"/><stop offset=".245" stop-color="#848484"/><stop offset=".25" stop-color="#7e7e7e"/><stop offset=".255" stop-color="#757575"/><stop offset=".26" stop-color="#6d6d6d"/><stop offset=".265" stop-color="#686868"/><stop offset=".27" stop-color="#696969"/><stop offset=".275" stop-color="#6b6b6b"/><stop offset=".28" stop-color="#696969"/><stop offset=".285" stop-color="#606060"/><stop offset=".29" stop-color="#5a5a5a"/><stop offset=".295" stop-color="#676767"/><stop offset=".3" stop-color="#828282"/><stop offset=".305" stop-color="#979797"/><stop offset=".31" stop-color="#a7a7a7"/><stop offset=".315" stop-color="#b3b3b3"/><stop offset=".32" stop-color="#bdbdbd"/><stop offset=".325" stop-color="#c2c2c2"/><stop offset=".33" stop-color="#c1c1c1"/><stop offset=".335" stop-color="#bbbbbb"/><stop offset=".34" stop-color="#b5b5b5"/><stop offset=".345" stop-color="#b6b6b6"/><stop offset=".35" stop-color="#bdbdbd"/><stop offset=".355" stop-color="#c6c6c6"/><stop offset=".36" stop-color="#cccccc"/><stop offset=".365" stop-color="#cfcfcf"/><stop offset=".37" stop-color="#d0d0d0"/><stop offset=".375" stop-color="#cfcfcf"/><stop offset=".38" stop-color="#cdcdcd"/><stop offset=".385" stop-color="#c9c9c9"/><stop offset=".39" stop-color="#c5c5c5"/><stop offset=".395" stop-color="#c0c0c0"/><stop offset=".4" stop-color="#bbbbbb"/><stop offset=".405" stop-color="#b5b5b5"/><stop offset=".41" stop-color="#afafaf"/><stop offset=".415" stop-color="#aaaaaa"/><stop offset=".42" stop-color="#a6a6a6"/><stop offset=".425" stop-color="#a4a4a4"/><stop offset=".43" stop-color="#a2a2a2"/><stop offset=".435" stop-color="#a2a2a2"/><stop offset=".44" stop-color="#a2a2a2"/><stop offset=".445" stop-color="#a2a2a2"/><stop offset=".45" stop-color="#a1a1a1"/><stop offset=".455" stop-color="#9f9f9f"/><stop offset=".46" stop-color="#9d9d9d"/><stop offset=".465" stop-color="#999999"/><stop offset=".47" stop-color="#959595"/><stop offset=".475" stop-color="#919191"/><stop offset=".48" stop-color="#8e8e8e"/><stop offset=".485" stop-color="#8a8a8a"/><stop offset=".49" stop-color="#868686"/><stop offset=".495" stop-color="#828282"/><stop offset=".5" stop-color="#7e7e7e"/><stop offset=".52" stop-color="#6f6f6f"/><stop offset=".54" stop-color="#6a6a6a"/><stop offset=".56" stop-color="#727272"/><stop offset=".58" stop-color="#797979"/><stop offset=".6" stop-color="#7b7b7b"/><stop offset=".62" stop-color="#7a7a7a"/><stop offset=".64" stop-color="#7b7b7b"/><stop offset=".66" stop-color="#7d7d7d"/><stop offset=".68" stop-color="#7c7c7c"/><stop offset=".7" stop-color="#7f7f7f"/><stop offset=".72" stop-color="#838383"/><stop offset=".74" stop-color="#838383"/><stop offset=".76" stop-color="#828282"/><stop offset=".78" stop-color="#818181"/><stop offset=".8" stop-color="#808080"/><stop offset=".82" stop-color="#818181"/><stop offset=".84" stop-color="#838383"/><stop offset=".86" stop-color="#848484"/><stop offset=".88" stop-color="#848484"/><stop offset=".9" stop-color="#838383"/><stop offset=".92" stop-color="#848484"/><stop offset=".94" stop-color="#858585"/><stop offset=".96" stop-color="#858585"/><stop offset=".98" stop-color="#878787"/><stop offset="1" stop-color="#868686"/></linearGradient><linearGradient id="c17" gradientUnits="userSpaceOnUse" x1="46.4" x2="209.5" y1="0" y2="0"><stop offset="0" stop-color="#888888"/><stop offset=".02" stop-color="#898989"/><stop offset=".04" stop-color="#8b8b8b"/><stop offset=".06" stop-color="#8b8b8b"/><stop offset=".08" stop-color="#8b8b8b"/><stop offset=".1" stop-color="#8b8b8b"/><stop offset=".12" stop-color="#8c8c8c"/><stop offset=".14" stop-color="#8b8b8b"/><stop offset=".16" stop-color="#878787"/><stop offset=".18" stop-color="#878787"/><stop offset=".2" stop-color="#8a8a8a"/><stop offset=".22" stop-color="#8a8a8a"/><stop offset=".24" stop-color="#868686"/><stop offset=".245" stop-color="#828282"/><stop offset=".25" stop-color="#7c7c7c"/><stop offset=".255" stop-color="#737373"/><stop offset=".26" stop-color="#6c6c6c"/><stop offset=".265" stop-color="#676767"/><stop offset=".27" stop-color="#686868"/><stop offset=".275" stop-color="#6b6b6b"/><stop offset=".28" stop-color="#696969"/><stop offset=".285" stop-color="#606060"/><stop offset=".29" stop-color="#5a5a5a"/><stop offset=".295" stop-color="#686868"/><stop offset=".3" stop-color="#838383"/><stop offset=".305" stop-color="#989898"/><stop offset=".31" stop-color="#a7a7a7"/><stop offset=".315" stop-color="#b4b4b4"/><stop offset=".32" stop-color="#bebebe"/><stop offset=".325" stop-color="#c3c3c3"/><stop offset=".33" stop-color="#c3c3c3"/><stop offset=".335" stop-color="#bdbdbd"/><stop offset=".34" stop-color="#b7b7b7"/><stop offset=".345" stop-color="#b6b6b6"/><stop offset=".35" stop-color="#bdbdbd"/><stop offset=".355" stop-color="#c6c6c6"/><stop offset=".36" stop-color="#cccccc"/><stop offset=".365" stop-color="#d0d0d0"/><stop offset=".37" stop-color="#d1d1d1"/><stop offset=".375" stop-color="#d0d0d0"/><stop offset=".38" stop-color="#cecece"/><stop offset=".385" stop-color="#cbcbcb"/><stop offset=".39" stop-color="#c7c7c7"/><stop offset=".395" stop-color="#c2c2c2"/><stop offset=".4" stop-color="#bdbdbd"/><stop offset=".405" stop-color="#b8b8b8"/><stop offset=".41" stop-color="#b3b3b3"/><stop offset=".415" stop-color="#afafaf"/><stop offset=".42" stop-color="#ababab"/><stop offset=".425" stop-color="#a8a8a8"/><stop offset=".43" stop-color="#a6a6a6"/><stop offset=".435" stop-color="#a5a5a5"/><stop offset=".44" stop-color="#a5a5a5"/><stop offset=".445" stop-color="#a4a4a4"/><stop offset=".45" stop-color="#a2a2a2"/><stop offset=".455" stop-color="#a0a0a0"/><stop offset=".46" stop-color="#9c9c9c"/><stop offset=".465" stop-color="#989898"/><stop offset=".47" stop-color="#949494"/><stop offset=".475" stop-color="#8f8f8f"/><stop offset=".48" stop-color="#8c8c8c"/><stop offset=".485" stop-color="#888888"/><stop offset=".49" stop-color="#848484"/><stop offset=".495" stop-color="#818181"/><stop offset=".5" stop-color="#7d7d7d"/><stop offset=".52" stop-color="#727272"/><stop offset=".54" stop-color="#6e6e6e"/><stop offset=".56" stop-color="#737373"/><stop offset=".58" stop-color="#797979"/><stop offset=".6" stop-color="#7b7b7b"/><stop offset=".62" stop-color="#7b7b7b"/><stop offset=".64" stop-color="#7d7d7d"/><stop offset=".66" stop-color="#818181"/><stop offset=".68" stop-color="#828282"/><stop offset=".7" stop-color="#838383"/><stop offset=".72" stop-color="#838383"/><stop offset=".74" stop-color="#838383"/><stop offset=".76" stop-color="#828282"/><stop offset=".78" stop-color="#828282"/><stop offset=".8" stop-color="#848484"/><stop offset=".82" stop-color="#838383"/><stop offset=".84" stop-color="#828282"/><stop offset=".86" stop-color="#818181"/><stop offset=".88" stop-color="#828282"/><stop offset=".9" stop-color="#858585"/><stop offset=".92" stop-color="#878787"/><stop offset=".94" stop-color="#868686"/><stop offset=".96" stop-color="#848484"/><stop offset=".98" stop-color="#818181"/><stop offset="1" stop-color="#7f7f7f"/></linearGradient><linearGradient id="c18" gradientUnits="userSpaceOnUse" x1="46.4" x2="209.5" y1="0" y2="0"><stop offset="0" stop-color="#8c8c8c"/><stop offset=".02" stop-color="#8b8b8b"/><stop offset=".04" stop-color="#898989"/><stop offset=".06" stop-color="#888888"/><stop offset=".08" stop-color="#8a8a8a"/><stop offset=".1" stop-color="#8a8a8a"/><stop offset=".12" stop-color="#888888"/><stop offset=".14" stop-color="#8a8a8a"/><stop offset=".16" stop-color="#8b8b8b"/><stop offset=".18" stop-color="#8b8b8b"/><stop offset=".2" stop-color="#8b8b8b"/><stop offset=".22" stop-color="#898989"/><stop offset=".24" stop-color="#848484"/><stop offset=".245" stop-color="#818181"/><stop offset=".25" stop-color="#7a7a7a"/><stop offset=".255" stop-color="#727272"/><stop offset=".26" stop-color="#6b6b6b"/><stop offset=".265" stop-color="#676767"/><stop offset=".27" stop-color="#686868"/><stop offset=".275" stop-color="#6b6b6b"/><stop offset=".28" stop-color="#696969"/><stop offset=".285" stop-color="#616161"/><stop offset=".29" stop-color="#5c5c5c"/><stop offset=".295" stop-color="#696969"/><stop offset=".3" stop-color="#848484"/><stop offset=".305" stop-color="#989898"/><stop offset=".31" stop-color="#a7a7a7"/><stop offset=".315" stop-color="#b3b3b3"/><stop offset=".32" stop-color="#bcbcbc"/><stop offset=".325" stop-color="#c1c1c1"/><stop offset=".33" stop-color="#c1c1c1"/><stop offset=".335" stop-color="#bcbcbc"/><stop offset=".34" stop-color="#b6b6b6"/><stop offset=".345" stop-color="#b4b4b4"/><stop offset=".35" stop-color="#bababa"/><stop offset=".355" stop-color="#c3c3c3"/><stop offset=".36" stop-color="#cbcbcb"/><stop offset=".365" stop-color="#cecece"/><stop offset=".37" stop-color="#cfcfcf"/><stop offset=".375" stop-color="#cecece"/><stop offset=".38" stop-color="#cbcbcb"/><stop offset=".385" stop-color="#c8c8c8"/><stop offset=".39" stop-color="#c4c4c4"/><stop offset=".395" stop-color="#c0c0c0"/><stop offset=".4" stop-color="#bcbcbc"/><stop offset=".405" stop-color="#b7b7b7"/><stop offset=".41" stop-color="#b2b2b2"/><stop offset=".415" stop-color="#adadad"/><stop offset=".42" stop-color="#a9a9a9"/><stop offset=".425" stop-color="#a6a6a6"/><stop offset=".43" stop-color="#a4a4a4"/><stop offset=".435" stop-color="#a3a3a3"/><stop offset=".44" stop-color="#a2a2a2"/><stop offset=".445" stop-color="#a1a1a1"/><stop offset=".45" stop-color="#a0a0a0"/><stop offset=".455" stop-color="#9e9e9e"/><stop offset=".46" stop-color="#9b9b9b"/><stop offset=".465" stop-color="#979797"/><stop offset=".47" stop-color="#939393"/><stop offset=".475" stop-color="#8f8f8f"/><stop offset=".48" stop-color="#8c8c8c"/><stop offset=".485" stop-color="#888888"/><stop offset=".49" stop-color="#848484"/><stop offset=".495" stop-color="#818181"/><stop offset=".5" stop-color="#7e7e7e"/><stop offset=".52" stop-color="#757575"/><stop offset=".54" stop-color="#737373"/><stop offset=".56" stop-color="#777777"/><stop offset=".58" stop-color="#797979"/><stop offset=".6" stop-color="#787878"/><stop offset=".62" stop-color="#787878"/><stop offset=".64" stop-color="#7b7b7b"/><stop offset=".66" stop-color="#7e7e7e"/><stop offset=".68" stop-color="#808080"/><stop offset=".7" stop-color="#7e7e7e"/><stop offset=".72" stop-color="#7f7f7f"/><stop offset=".74" stop-color="#828282"/><stop offset=".76" stop-color="#838383"/><stop offset=".78" stop-color="#848484"/><stop offset=".8" stop-color="#848484"/><stop offset=".82" stop-color="#838383"/><stop offset=".84" stop-color="#838383"/><stop offset=".86" stop-color="#828282"/><stop offset=".88" stop-color="#818181"/><stop offset=".9" stop-color="#828282"/><stop offset=".92" stop-color="#838383"/><stop offset=".94" stop-color="#838383"/><stop offset=".96" stop-color="#838383"/><stop offset=".98" stop-color="#868686"/><stop offset="1" stop-color="#888888"/></linearGradient><linearGradient id="c19" gradientUnits="userSpaceOnUse" x1="46.4" x2="209.5" y1="0" y2="0"><stop offset="0" stop-color="#898989"/><stop offset=".02" stop-color="#8a8a8a"/><stop offset=".04" stop-color="#8a8a8a"/><stop offset=".06" stop-color="#898989"/><stop offset=".08" stop-color="#898989"/><stop offset=".1" stop-color="#888888"/><stop offset=".12" stop-color="#888888"/><stop offset=".14" stop-color="#898989"/><stop offset=".16" stop-color="#8a8a8a"/><stop offset=".18" stop-color="#898989"/><stop offset=".2" stop-color="#878787"/><stop offset=".22" stop-color="#888888"/><stop offset=".24" stop-color="#878787"/><stop offset=".245" stop-color="#838383"/><stop offset=".25" stop-color="#7d7d7d"/><stop offset=".255" stop-color="#757575"/><stop offset=".26" stop-color="#6d6d6d"/><stop offset=".265" stop-color="#696969"/><stop offset=".27" stop-color="#6a6a6a"/><stop offset=".275" stop-color="#6d6d6d"/><stop offset=".28" stop-color="#6b6b6b"/><stop offset=".285" stop-color="#616161"/><stop offset=".29" stop-color="#5b5b5b"/><stop offset=".295" stop-color="#676767"/><stop offset=".3" stop-color="#818181"/><stop offset=".305" stop-color="#969696"/><stop offset=".31" stop-color="#a5a5a5"/><stop offset=".315" stop-color="#b2b2b2"/><stop offset=".32" stop-color="#bcbcbc"/><stop offset=".325" stop-color="#c2c2c2"/><stop offset=".33" stop-color="#c2c2c2"/><stop offset=".335" stop-color="#bebebe"/><stop offset=".34" stop-color="#b8b8b8"/><stop offset=".345" stop-color="#b5b5b5"/><stop offset=".35" stop-color="#bababa"/><stop offset=".355" stop-color="#c3c3c3"/><stop offset=".36" stop-color="#cacaca"/><stop offset=".365" stop-color="#cecece"/><stop offset=".37" stop-color="#cfcfcf"/><stop offset=".375" stop-color="#cecece"/><stop offset=".38" stop-color="#cccccc"/><stop offset=".385" stop-color="#cacaca"/><stop offset=".39" stop-color="#c7c7c7"/><stop offset=".395" stop-color="#c3c3c3"/><stop offset=".4" stop-color="#c0c0c0"/><stop offset=".405" stop-color="#bbbbbb"/><stop offset=".41" stop-color="#b7b7b7"/><stop offset=".415" stop-color="#b2b2b2"/><stop offset=".42" stop-color="#aeaeae"/><stop offset=".425" stop-color="#ababab"/><stop offset=".43" stop-color="#a8a8a8"/><stop offset=".435" stop-color="#a7a7a7"/><stop offset=".44" stop-color="#a6a6a6"/><stop offset=".445" stop-color="#a5a5a5"/><stop offset=".45" stop-color="#a3a3a3"/><stop offset=".455" stop-color="#a0a0a0"/><stop offset=".46" stop-color="#9d9d9d"/><stop offset=".465" stop-color="#989898"/><stop offset=".47" stop-color="#949494"/><stop offset=".475" stop-color="#8f8f8f"/><stop offset=".48" stop-color="#8b8b8b"/><stop offset=".485" stop-color="#878787"/><stop offset=".49" stop-color="#838383"/><stop offset=".495" stop-color="#808080"/><stop offset=".5" stop-color="#7d7d7d"/><stop offset=".52" stop-color="#767676"/><stop offset=".54" stop-color="#737373"/><stop offset=".56" stop-color="#777777"/><stop offset=".58" stop-color="#7b7b7b"/><stop offset=".6" stop-color="#7b7b7b"/><stop offset=".62" stop-color="#7a7a7a"/><stop offset=".64" stop-color="#7c7c7c"/><stop offset=".66" stop-color="#7e7e7e"/><stop offset=".68" stop-color="#7f7f7f"/><stop offset=".7" stop-color="#808080"/><stop offset=".72" stop-color="#828282"/><stop offset=".74" stop-color="#858585"/><stop offset=".76" stop-color="#878787"/><stop offset=".78" stop-color="#878787"/><stop offset=".8" stop-color="#878787"/><stop offset=".82" stop-color="#878787"/><stop offset=".84" stop-color="#878787"/><stop offset=".86" stop-color="#858585"/><stop offset=".88" stop-color="#848484"/><stop offset=".9" stop-color="#838383"/><stop offset=".92" stop-color="#838383"/><stop offset=".94" stop-color="#848484"/><stop offset=".96" stop-color="#868686"/><stop offset=".98" stop-color="#878787"/><stop offset="1" stop-color="#868686"/></linearGradient><linearGradient id="c20" gradientUnits="userSpaceOnUse" x1="46.4" x2="209.5" y1="0" y2="0"><stop offset="0" stop-color="#8c8c8c"/><stop offset=".02" stop-color="#8b8b8b"/><stop offset=".04" stop-color="#8a8a8a"/><stop offset=".06" stop-color="#898989"/><stop offset=".08" stop-color="#898989"/><stop offset=".1" stop-color="#898989"/><stop offset=".12" stop-color="#898989"/><stop offset=".14" stop-color="#8a8a8a"/><stop offset=".16" stop-color="#898989"/><stop offset=".18" stop-color="#898989"/><stop offset=".2" stop-color="#898989"/><stop offset=".22" stop-color="#898989"/><stop offset=".24" stop-color="#868686"/><stop offset=".245" stop-color="#838383"/><stop offset=".25" stop-color="#7d7d7d"/><stop offset=".255" stop-color="#757575"/><stop offset=".26" stop-color="#6d6d6d"/><stop offset=".265" stop-color="#696969"/><stop offset=".27" stop-color="#6a6a6a"/><stop offset=".275" stop-color="#6d6d6d"/><stop offset=".28" stop-color="#6b6b6b"/><stop offset=".285" stop-color="#626262"/><stop offset=".29" stop-color="#5d5d5d"/><stop offset=".295" stop-color="#6a6a6a"/><stop offset=".3" stop-color="#848484"/><stop offset=".305" stop-color="#989898"/><stop offset=".31" stop-color="#a8a8a8"/><stop offset=".315" stop-color="#b4b4b4"/><stop offset=".32" stop-color="#bebebe"/><stop offset=".325" stop-color="#c3c3c3"/><stop offset=".33" stop-color="#c4c4c4"/><stop offset=".335" stop-color="#c0c0c0"/><stop offset=".34" stop-color="#bababa"/><stop offset=".345" stop-color="#b6b6b6"/><stop offset=".35" stop-color="#b9b9b9"/><stop offset=".355" stop-color="#c2c2c2"/><stop offset=".36" stop-color="#c9c9c9"/><stop offset=".365" stop-color="#cdcdcd"/><stop offset=".37" stop-color="#cdcdcd"/><stop offset=".375" stop-color="#cccccc"/><stop offset=".38" stop-color="#cacaca"/><stop offset=".385" stop-color="#c8c8c8"/><stop offset=".39" stop-color="#c5c5c5"/><stop offset=".395" stop-color="#c2c2c2"/><stop offset=".4" stop-color="#bfbfbf"/><stop offset=".405" stop-color="#bbbbbb"/><stop offset=".41" stop-color="#b6b6b6"/><stop offset=".415" stop-color="#b2b2b2"/><stop offset=".42" stop-color="#aeaeae"/><stop offset=".425" stop-color="#acacac"/><stop offset=".43" stop-color="#a9a9a9"/><stop offset=".435" stop-color="#a8a8a8"/><stop offset=".44" stop-color="#a7a7a7"/><stop offset=".445" stop-color="#a6a6a6"/><stop offset=".45" stop-color="#a4a4a4"/><stop offset=".455" stop-color="#a1a1a1"/><stop offset=".46" stop-color="#9e9e9e"/><stop offset=".465" stop-color="#999999"/><stop offset=".47" stop-color="#949494"/><stop offset=".475" stop-color="#909090"/><stop offset=".48" stop-color="#8c8c8c"/><stop offset=".485" stop-color="#8a8a8a"/><stop offset=".49" stop-color="#878787"/><stop offset=".495" stop-color="#858585"/><stop offset=".5" stop-color="#838383"/><stop offset=".52" stop-color="#7a7a7a"/><stop offset=".54" stop-color="#767676"/><stop offset=".56" stop-color="#7a7a7a"/><stop offset=".58" stop-color="#7c7c7c"/><stop offset=".6" stop-color="#7b7b7b"/><stop offset=".62" stop-color="#7c7c7c"/><stop offset=".64" stop-color="#7f7f7f"/><stop offset=".66" stop-color="#7e7e7e"/><stop offset=".68" stop-color="#7f7f7f"/><stop offset=".7" stop-color="#828282"/><stop offset=".72" stop-color="#848484"/><stop offset=".74" stop-color="#848484"/><stop offset=".76" stop-color="#838383"/><stop offset=".78" stop-color="#838383"/><stop offset=".8" stop-color="#838383"/><stop offset=".82" stop-color="#818181"/><stop offset=".84" stop-color="#828282"/><stop offset=".86" stop-color="#818181"/><stop offset=".88" stop-color="#808080"/><stop offset=".9" stop-color="#838383"/><stop offset=".92" stop-color="#838383"/><stop offset=".94" stop-color="#848484"/><stop offset=".96" stop-color="#858585"/><stop offset=".98" stop-color="#828282"/><stop offset="1" stop-color="#818181"/></linearGradient><linearGradient id="c21" gradientUnits="userSpaceOnUse" x1="46.4" x2="209.5" y1="0" y2="0"><stop offset="0" stop-color="#8a8a8a"/><stop offset=".02" stop-color="#8a8a8a"/><stop offset=".04" stop-color="#898989"/><stop offset=".06" stop-color="#888888"/><stop offset=".08" stop-color="#888888"/><stop offset=".1" stop-color="#8a8a8a"/><stop offset=".12" stop-color="#898989"/><stop offset=".14" stop-color="#878787"/><stop offset=".16" stop-color="#8a8a8a"/><stop offset=".18" stop-color="#8b8b8b"/><stop offset=".2" stop-color="#898989"/><stop offset=".22" stop-color="#888888"/><stop offset=".24" stop-color="#858585"/><stop offset=".245" stop-color="#818181"/><stop offset=".25" stop-color="#7b7b7b"/><stop offset=".255" stop-color="#737373"/><stop offset=".26" stop-color="#6b6b6b"/><stop offset=".265" stop-color="#676767"/><stop offset=".27" stop-color="#696969"/><stop offset=".275" stop-color="#6d6d6d"/><stop offset=".28" stop-color="#6c6c6c"/><stop offset=".285" stop-color="#646464"/><stop offset=".29" stop-color="#5f5f5f"/><stop offset=".295" stop-color="#6d6d6d"/><stop offset=".3" stop-color="#878787"/><stop offset=".305" stop-color="#9b9b9b"/><stop offset=".31" stop-color="#aaaaaa"/><stop offset=".315" stop-color="#b6b6b6"/><stop offset=".32" stop-color="#bfbfbf"/><stop offset=".325" stop-color="#c4c4c4"/><stop offset=".33" stop-color="#c4c4c4"/><stop offset=".335" stop-color="#c0c0c0"/><stop offset=".34" stop-color="#b9b9b9"/><stop offset=".345" stop-color="#b4b4b4"/><stop offset=".35" stop-color="#b5b5b5"/><stop offset=".355" stop-color="#bcbcbc"/><stop offset=".36" stop-color="#c4c4c4"/><stop offset=".365" stop-color="#c7c7c7"/><stop offset=".37" stop-color="#c8c8c8"/><stop offset=".375" stop-color="#c8c8c8"/><stop offset=".38" stop-color="#c7c7c7"/><stop offset=".385" stop-color="#c5c5c5"/><stop offset=".39" stop-color="#c4c4c4"/><stop offset=".395" stop-color="#c2c2c2"/><stop offset=".4" stop-color="#c0c0c0"/><stop offset=".405" stop-color="#bcbcbc"/><stop offset=".41" stop-color="#b8b8b8"/><stop offset=".415" stop-color="#b3b3b3"/><stop offset=".42" stop-color="#afafaf"/><stop offset=".425" stop-color="#ababab"/><stop offset=".43" stop-color="#a8a8a8"/><stop offset=".435" stop-color="#a7a7a7"/><stop offset=".44" stop-color="#a6a6a6"/><stop offset=".445" stop-color="#a5a5a5"/><stop offset=".45" stop-color="#a4a4a4"/><stop offset=".455" stop-color="#a1a1a1"/><stop offset=".46" stop-color="#9e9e9e"/><stop offset=".465" stop-color="#9a9a9a"/><stop offset=".47" stop-color="#959595"/><stop offset=".475" stop-color="#909090"/><stop offset=".48" stop-color="#8c8c8c"/><stop offset=".485" stop-color="#878787"/><stop offset=".49" stop-color="#838383"/><stop offset=".495" stop-color="#7f7f7f"/><stop offset=".5" stop-color="#7c7c7c"/><stop offset=".52" stop-color="#737373"/><stop offset=".54" stop-color="#727272"/><stop offset=".56" stop-color="#767676"/><stop offset=".58" stop-color="#7a7a7a"/><stop offset=".6" stop-color="#7e7e7e"/><stop offset=".62" stop-color="#7f7f7f"/><stop offset=".64" stop-color="#7d7d7d"/><stop offset=".66" stop-color="#7f7f7f"/><stop offset=".68" stop-color="#838383"/><stop offset=".7" stop-color="#848484"/><stop offset=".72" stop-color="#858585"/><stop offset=".74" stop-color="#858585"/><stop offset=".76" stop-color="#858585"/><stop offset=".78" stop-color="#838383"/><stop offset=".8" stop-color="#818181"/><stop offset=".82" stop-color="#818181"/><stop offset=".84" stop-color="#838383"/><stop offset=".86" stop-color="#848484"/><stop offset=".88" stop-color="#858585"/><stop offset=".9" stop-color="#848484"/><stop offset=".92" stop-color="#848484"/><stop offset=".94" stop-color="#858585"/><stop offset=".96" stop-color="#868686"/><stop offset=".98" stop-color="#868686"/><stop offset="1" stop-color="#868686"/></linearGradient><linearGradient id="c22" gradientUnits="userSpaceOnUse" x1="46.4" x2="209.5" y1="0" y2="0"><stop offset="0" stop-color="#858585"/><stop offset=".02" stop-color="#858585"/><stop offset=".04" stop-color="#888888"/><stop offset=".06" stop-color="#898989"/><stop offset=".08" stop-color="#868686"/><stop offset=".1" stop-color="#858585"/><stop offset=".12" stop-color="#888888"/><stop offset=".14" stop-color="#888888"/><stop offset=".16" stop-color="#868686"/><stop offset=".18" stop-color="#888888"/><stop offset=".2" stop-color="#898989"/><stop offset=".22" stop-color="#898989"/><stop offset=".24" stop-color="#858585"/><stop offset=".245" stop-color="#818181"/><stop offset=".25" stop-color="#7b7b7b"/><stop offset=".255" stop-color="#727272"/><stop offset=".26" stop-color="#6a6a6a"/><stop offset=".265" stop-color="#666666"/><stop offset=".27" stop-color="#686868"/><stop offset=".275" stop-color="#6b6b6b"/><stop offset=".28" stop-color="#6a6a6a"/><stop offset=".285" stop-color="#616161"/><stop offset=".29" stop-color="#5c5c5c"/><stop offset=".295" stop-color="#696969"/><stop offset=".3" stop-color="#828282"/><stop offset=".305" stop-color="#979797"/><stop offset=".31" stop-color="#a5a5a5"/><stop offset=".315" stop-color="#b2b2b2"/><stop offset=".32" stop-color="#bbbbbb"/><stop offset=".325" stop-color="#c1c1c1"/><stop offset=".33" stop-color="#c1c1c1"/><stop offset=".335" stop-color="#bebebe"/><stop offset=".34" stop-color="#b8b8b8"/><stop offset=".345" stop-color="#b3b3b3"/><stop offset=".35" stop-color="#b4b4b4"/><stop offset=".355" stop-color="#bbbbbb"/><stop offset=".36" stop-color="#c2c2c2"/><stop offset=".365" stop-color="#c7c7c7"/><stop offset=".37" stop-color="#c8c8c8"/><stop offset=".375" stop-color="#c7c7c7"/><stop offset=".38" stop-color="#c6c6c6"/><stop offset=".385" stop-color="#c5c5c5"/><stop offset=".39" stop-color="#c4c4c4"/><stop offset=".395" stop-color="#c3c3c3"/><stop offset=".4" stop-color="#c2c2c2"/><stop offset=".405" stop-color="#c0c0c0"/><stop offset=".41" stop-color="#bdbdbd"/><stop offset=".415" stop-color="#b9b9b9"/><stop offset=".42" stop-color="#b5b5b5"/><stop offset=".425" stop-color="#b1b1b1"/><stop offset=".43" stop-color="#aeaeae"/><stop offset=".435" stop-color="#acacac"/><stop offset=".44" stop-color="#ababab"/><stop offset=".445" stop-color="#a9a9a9"/><stop offset=".45" stop-color="#a7a7a7"/><stop offset=".455" stop-color="#a5a5a5"/><stop offset=".46" stop-color="#a1a1a1"/><stop offset=".465" stop-color="#9d9d9d"/><stop offset=".47" stop-color="#989898"/><stop offset=".475" stop-color="#939393"/><stop offset=".48" stop-color="#8f8f8f"/><stop offset=".485" stop-color="#8b8b8b"/><stop offset=".49" stop-color="#878787"/><stop offset=".495" stop-color="#838383"/><stop offset=".5" stop-color="#808080"/><stop offset=".52" stop-color="#777777"/><stop offset=".54" stop-color="#727272"/><stop offset=".56" stop-color="#767676"/><stop offset=".58" stop-color="#7a7a7a"/><stop offset=".6" stop-color="#7b7b7b"/><stop offset=".62" stop-color="#7d7d7d"/><stop offset=".64" stop-color="#7e7e7e"/><stop offset=".66" stop-color="#7e7e7e"/><stop offset=".68" stop-color="#7f7f7f"/><stop offset=".7" stop-color="#818181"/><stop offset=".72" stop-color="#858585"/><stop offset=".74" stop-color="#858585"/><stop offset=".76" stop-color="#818181"/><stop offset=".78" stop-color="#818181"/><stop offset=".8" stop-color="#838383"/><stop offset=".82" stop-color="#828282"/><stop offset=".84" stop-color="#818181"/><stop offset=".86" stop-color="#7f7f7f"/><stop offset=".88" stop-color="#838383"/><stop offset=".9" stop-color="#848484"/><stop offset=".92" stop-color="#818181"/><stop offset=".94" stop-color="#818181"/><stop offset=".96" stop-color="#828282"/><stop offset=".98" stop-color="#848484"/><stop offset="1" stop-color="#848484"/></linearGradient><linearGradient id="c23" gradientUnits="userSpaceOnUse" x1="46.4" x2="209.5" y1="0" y2="0"><stop offset="0" stop-color="#878787"/><stop offset=".02" stop-color="#898989"/><stop offset=".04" stop-color="#8a8a8a"/><stop offset=".06" stop-color="#868686"/><stop offset=".08" stop-color="#888888"/><stop offset=".1" stop-color="#8c8c8c"/><stop offset=".12" stop-color="#8c8c8c"/><stop offset=".14" stop-color="#898989"/><stop offset=".16" stop-color="#888888"/><stop offset=".18" stop-color="#898989"/><stop offset=".2" stop-color="#898989"/><stop offset=".22" stop-color="#898989"/><stop offset=".24" stop-color="#868686"/><stop offset=".245" stop-color="#828282"/><stop offset=".25" stop-color="#7b7b7b"/><stop offset=".255" stop-color="#727272"/><stop offset=".26" stop-color="#6a6a6a"/><stop offset=".265" stop-color="#666666"/><stop offset=".27" stop-color="#686868"/><stop offset=".275" stop-color="#6c6c6c"/><stop offset=".28" stop-color="#6c6c6c"/><stop offset=".285" stop-color="#646464"/><stop offset=".29" stop-color="#5f5f5f"/><stop offset=".295" stop-color="#6b6b6b"/><stop offset=".3" stop-color="#858585"/><stop offset=".305" stop-color="#999999"/><stop offset=".31" stop-color="#a7a7a7"/><stop offset=".315" stop-color="#b4b4b4"/><stop offset=".32" stop-color="#bdbdbd"/><stop offset=".325" stop-color="#c2c2c2"/><stop offset=".33" stop-color="#c3c3c3"/><stop offset=".335" stop-color="#c0c0c0"/><stop offset=".34" stop-color="#bababa"/><stop offset=".345" stop-color="#b4b4b4"/><stop offset=".35" stop-color="#b3b3b3"/><stop offset=".355" stop-color="#b8b8b8"/><stop offset=".36" stop-color="#bfbfbf"/><stop offset=".365" stop-color="#c3c3c3"/><stop offset=".37" stop-color="#c3c3c3"/><stop offset=".375" stop-color="#c2c2c2"/><stop offset=".38" stop-color="#c1c1c1"/><stop offset=".385" stop-color="#c0c0c0"/><stop offset=".39" stop-color="#bfbfbf"/><stop offset=".395" stop-color="#c0c0c0"/><stop offset=".4" stop-color="#c0c0c0"/><stop offset=".405" stop-color="#bfbfbf"/><stop offset=".41" stop-color="#bdbdbd"/><stop offset=".415" stop-color="#bababa"/><stop offset=".42" stop-color="#b6b6b6"/><stop offset=".425" stop-color="#b2b2b2"/><stop offset=".43" stop-color="#afafaf"/><stop offset=".435" stop-color="#ababab"/><stop offset=".44" stop-color="#a9a9a9"/><stop offset=".445" stop-color="#a7a7a7"/><stop offset=".45" stop-color="#a5a5a5"/><stop offset=".455" stop-color="#a2a2a2"/><stop offset=".46" stop-color="#9f9f9f"/><stop offset=".465" stop-color="#9c9c9c"/><stop offset=".47" stop-color="#989898"/><stop offset=".475" stop-color="#949494"/><stop offset=".48" stop-color="#8f8f8f"/><stop offset=".485" stop-color="#8b8b8b"/><stop offset=".49" stop-color="#878787"/><stop offset=".495" stop-color="#838383"/><stop offset=".5" stop-color="#808080"/><stop offset=".52" stop-color="#777777"/><stop offset=".54" stop-color="#727272"/><stop offset=".56" stop-color="#727272"/><stop offset=".58" stop-color="#777777"/><stop offset=".6" stop-color="#7c7c7c"/><stop offset=".62" stop-color="#7d7d7d"/><stop offset=".64" stop-color="#7c7c7c"/><stop offset=".66" stop-color="#7e7e7e"/><stop offset=".68" stop-color="#7f7f7f"/><stop offset=".7" stop-color="#7f7f7f"/><stop offset=".72" stop-color="#808080"/><stop offset=".74" stop-color="#818181"/><stop offset=".76" stop-color="#808080"/><stop offset=".78" stop-color="#818181"/><stop offset=".8" stop-color="#818181"/><stop offset=".82" stop-color="#818181"/><stop offset=".84" stop-color="#818181"/><stop offset=".86" stop-color="#838383"/><stop offset=".88" stop-color="#858585"/><stop offset=".9" stop-color="#858585"/><stop offset=".92" stop-color="#868686"/><stop offset=".94" stop-color="#878787"/><stop offset=".96" stop-color="#858585"/><stop offset=".98" stop-color="#868686"/><stop offset="1" stop-color="#868686"/></linearGradient><linearGradient id="c24" gradientUnits="userSpaceOnUse" x1="46.4" x2="209.5" y1="0" y2="0"><stop offset="0" stop-color="#888888"/><stop offset=".02" stop-color="#888888"/><stop offset=".04" stop-color="#888888"/><stop offset=".06" stop-color="#888888"/><stop offset=".08" stop-color="#8a8a8a"/><stop offset=".1" stop-color="#8a8a8a"/><stop offset=".12" stop-color="#898989"/><stop offset=".14" stop-color="#898989"/><stop offset=".16" stop-color="#8b8b8b"/><stop offset=".18" stop-color="#8c8c8c"/><stop offset=".2" stop-color="#8b8b8b"/><stop offset=".22" stop-color="#898989"/><stop offset=".24" stop-color="#858585"/><stop offset=".245" stop-color="#808080"/><stop offset=".25" stop-color="#777777"/><stop offset=".255" stop-color="#6e6e6e"/><stop offset=".26" stop-color="#666666"/><stop offset=".265" stop-color="#636363"/><stop offset=".27" stop-color="#666666"/><stop offset=".275" stop-color="#6b6b6b"/><stop offset=".28" stop-color="#6b6b6b"/><stop offset=".285" stop-color="#646464"/><stop offset=".29" stop-color="#5f5f5f"/><stop offset=".295" stop-color="#6c6c6c"/><stop offset=".3" stop-color="#868686"/><stop offset=".305" stop-color="#9a9a9a"/><stop offset=".31" stop-color="#a9a9a9"/><stop offset=".315" stop-color="#b6b6b6"/><stop offset=".32" stop-color="#c0c0c0"/><stop offset=".325" stop-color="#c5c5c5"/><stop offset=".33" stop-color="#c5c5c5"/><stop offset=".335" stop-color="#c2c2c2"/><stop offset=".34" stop-color="#bcbcbc"/><stop offset=".345" stop-color="#b7b7b7"/><stop offset=".35" stop-color="#b4b4b4"/><stop offset=".355" stop-color="#b7b7b7"/><stop offset=".36" stop-color="#bebebe"/><stop offset=".365" stop-color="#c3c3c3"/><stop offset=".37" stop-color="#c3c3c3"/><stop offset=".375" stop-color="#c2c2c2"/><stop offset=".38" stop-color="#c1c1c1"/><stop offset=".385" stop-color="#c0c0c0"/><stop offset=".39" stop-color="#c0c0c0"/><stop offset=".395" stop-color="#c1c1c1"/><stop offset=".4" stop-color="#c1c1c1"/><stop offset=".405" stop-color="#c1c1c1"/><stop offset=".41" stop-color="#c0c0c0"/><stop offset=".415" stop-color="#bebebe"/><stop offset=".42" stop-color="#bbbbbb"/><stop offset=".425" stop-color="#b7b7b7"/><stop offset=".43" stop-color="#b4b4b4"/><stop offset=".435" stop-color="#b1b1b1"/><stop offset=".44" stop-color="#aeaeae"/><stop offset=".445" stop-color="#acacac"/><stop offset=".45" stop-color="#aaaaaa"/><stop offset=".455" stop-color="#a8a8a8"/><stop offset=".46" stop-color="#a5a5a5"/><stop offset=".465" stop-color="#a1a1a1"/><stop offset=".47" stop-color="#9c9c9c"/><stop offset=".475" stop-color="#979797"/><stop offset=".48" stop-color="#929292"/><stop offset=".485" stop-color="#8d8d8d"/><stop offset=".49" stop-color="#898989"/><stop offset=".495" stop-color="#848484"/><stop offset=".5" stop-color="#808080"/><stop offset=".52" stop-color="#777777"/><stop offset=".54" stop-color="#767676"/><stop offset=".56" stop-color="#777777"/><stop offset=".58" stop-color="#797979"/><stop offset=".6" stop-color="#7b7b7b"/><stop offset=".62" stop-color="#7c7c7c"/><stop offset=".64" stop-color="#7e7e7e"/><stop offset=".66" stop-color="#7e7e7e"/><stop offset=".68" stop-color="#7f7f7f"/><stop offset=".7" stop-color="#818181"/><stop offset=".72" stop-color="#818181"/><stop offset=".74" stop-color="#7f7f7f"/><stop offset=".76" stop-color="#7e7e7e"/><stop offset=".78" stop-color="#808080"/><stop offset=".8" stop-color="#838383"/><stop offset=".82" stop-color="#838383"/><stop offset=".84" stop-color="#808080"/><stop offset=".86" stop-color="#808080"/><stop offset=".88" stop-color="#818181"/><stop offset=".9" stop-color="#828282"/><stop offset=".92" stop-color="#848484"/><stop offset=".94" stop-color="#838383"/><stop offset=".96" stop-color="#818181"/><stop offset=".98" stop-color="#848484"/><stop offset="1" stop-color="#878787"/></linearGradient><linearGradient id="c25" gradientUnits="userSpaceOnUse" x1="46.4" x2="209.5" y1="0" y2="0"><stop offset="0" stop-color="#878787"/><stop offset=".02" stop-color="#888888"/><stop offset=".04" stop-color="#888888"/><stop offset=".06" stop-color="#888888"/><stop offset=".08" stop-color="#878787"/><stop offset=".1" stop-color="#888888"/><stop offset=".12" stop-color="#8a8a8a"/><stop offset=".14" stop-color="#8b8b8b"/><stop offset=".16" stop-color="#8b8b8b"/><stop offset=".18" stop-color="#8a8a8a"/><stop offset=".2" stop-color="#888888"/><stop offset=".22" stop-color="#888888"/><stop offset=".24" stop-color="#818181"/><stop offset=".245" stop-color="#7a7a7a"/><stop offset=".25" stop-color="#717171"/><stop offset=".255" stop-color="#676767"/><stop offset=".26" stop-color="#606060"/><stop offset=".265" stop-color="#606060"/><stop offset=".27" stop-color="#666666"/><stop offset=".275" stop-color="#6d6d6d"/><stop offset=".28" stop-color="#6f6f6f"/><stop offset=".285" stop-color="#686868"/><stop offset=".29" stop-color="#636363"/><stop offset=".295" stop-color="#707070"/><stop offset=".3" stop-color="#8a8a8a"/><stop offset=".305" stop-color="#9d9d9d"/><stop offset=".31" stop-color="#acacac"/><stop offset=".315" stop-color="#b9b9b9"/><stop offset=".32" stop-color="#c2c2c2"/><stop offset=".325" stop-color="#c7c7c7"/><stop offset=".33" stop-color="#c7c7c7"/><stop offset=".335" stop-color="#c3c3c3"/><stop offset=".34" stop-color="#bebebe"/><stop offset=".345" stop-color="#b7b7b7"/><stop offset=".35" stop-color="#b4b4b4"/><stop offset=".355" stop-color="#b6b6b6"/><stop offset=".36" stop-color="#bcbcbc"/><stop offset=".365" stop-color="#c1c1c1"/><stop offset=".37" stop-color="#c2c2c2"/><stop offset=".375" stop-color="#c1c1c1"/><stop offset=".38" stop-color="#c0c0c0"/><stop offset=".385" stop-color="#c0c0c0"/><stop offset=".39" stop-color="#c2c2c2"/><stop offset=".395" stop-color="#c4c4c4"/><stop offset=".4" stop-color="#c6c6c6"/><stop offset=".405" stop-color="#c7c7c7"/><stop offset=".41" stop-color="#c7c7c7"/><stop offset=".415" stop-color="#c5c5c5"/><stop offset=".42" stop-color="#c2c2c2"/><stop offset=".425" stop-color="#bdbdbd"/><stop offset=".43" stop-color="#b8b8b8"/><stop offset=".435" stop-color="#b4b4b4"/><stop offset=".44" stop-color="#b0b0b0"/><stop offset=".445" stop-color="#adadad"/><stop offset=".45" stop-color="#aaaaaa"/><stop offset=".455" stop-color="#a8a8a8"/><stop offset=".46" stop-color="#a5a5a5"/><stop offset=".465" stop-color="#a2a2a2"/><stop offset=".47" stop-color="#9f9f9f"/><stop offset=".475" stop-color="#9b9b9b"/><stop offset=".48" stop-color="#969696"/><stop offset=".485" stop-color="#919191"/><stop offset=".49" stop-color="#8d8d8d"/><stop offset=".495" stop-color="#898989"/><stop offset=".5" stop-color="#838383"/><stop offset=".52" stop-color="#767676"/><stop offset=".54" stop-color="#747474"/><stop offset=".56" stop-color="#777777"/><stop offset=".58" stop-color="#7b7b7b"/><stop offset=".6" stop-color="#7d7d7d"/><stop offset=".62" stop-color="#7d7d7d"/><stop offset=".64" stop-color="#808080"/><stop offset=".66" stop-color="#828282"/><stop offset=".68" stop-color="#818181"/><stop offset=".7" stop-color="#828282"/><stop offset=".72" stop-color="#818181"/><stop offset=".74" stop-color="#808080"/><stop offset=".76" stop-color="#838383"/><stop offset=".78" stop-color="#838383"/><stop offset=".8" stop-color="#818181"/><stop offset=".82" stop-color="#838383"/><stop offset=".84" stop-color="#868686"/><stop offset=".86" stop-color="#868686"/><stop offset=".88" stop-color="#868686"/><stop offset=".9" stop-color="#868686"/><stop offset=".92" stop-color="#868686"/><stop offset=".94" stop-color="#888888"/><stop offset=".96" stop-color="#868686"/><stop offset=".98" stop-color="#848484"/><stop offset="1" stop-color="#838383"/></linearGradient><linearGradient id="c26" gradientUnits="userSpaceOnUse" x1="46.4" x2="209.5" y1="0" y2="0"><stop offset="0" stop-color="#888888"/><stop offset=".02" stop-color="#8a8a8a"/><stop offset=".04" stop-color="#8a8a8a"/><stop offset=".06" stop-color="#888888"/><stop offset=".08" stop-color="#878787"/><stop offset=".1" stop-color="#878787"/><stop offset=".12" stop-color="#868686"/><stop offset=".14" stop-color="#868686"/><stop offset=".16" stop-color="#888888"/><stop offset=".18" stop-color="#898989"/><stop offset=".2" stop-color="#8a8a8a"/><stop offset=".22" stop-color="#8b8b8b"/><stop offset=".24" stop-color="#838383"/><stop offset=".245" stop-color="#7b7b7b"/><stop offset=".25" stop-color="#717171"/><stop offset=".255" stop-color="#666666"/><stop offset=".26" stop-color="#606060"/><stop offset=".265" stop-color="#616161"/><stop offset=".27" stop-color="#676767"/><stop offset=".275" stop-color="#6e6e6e"/><stop offset=".28" stop-color="#6e6e6e"/><stop offset=".285" stop-color="#656565"/><stop offset=".29" stop-color="#5f5f5f"/><stop offset=".295" stop-color="#6b6b6b"/><stop offset=".3" stop-color="#848484"/><stop offset=".305" stop-color="#999999"/><stop offset=".31" stop-color="#a9a9a9"/><stop offset=".315" stop-color="#b7b7b7"/><stop offset=".32" stop-color="#c2c2c2"/><stop offset=".325" stop-color="#c7c7c7"/><stop offset=".33" stop-color="#c7c7c7"/><stop offset=".335" stop-color="#c4c4c4"/><stop offset=".34" stop-color="#bebebe"/><stop offset=".345" stop-color="#b8b8b8"/><stop offset=".35" stop-color="#b4b4b4"/><stop offset=".355" stop-color="#b4b4b4"/><stop offset=".36" stop-color="#bababa"/><stop offset=".365" stop-color="#bfbfbf"/><stop offset=".37" stop-color="#c0c0c0"/><stop offset=".375" stop-color="#bfbfbf"/><stop offset=".38" stop-color="#bebebe"/><stop offset=".385" stop-color="#bebebe"/><stop offset=".39" stop-color="#bfbfbf"/><stop offset=".395" stop-color="#c1c1c1"/><stop offset=".4" stop-color="#c3c3c3"/><stop offset=".405" stop-color="#c5c5c5"/><stop offset=".41" stop-color="#c5c5c5"/><stop offset=".415" stop-color="#c4c4c4"/><stop offset=".42" stop-color="#c1c1c1"/><stop offset=".425" stop-color="#bdbdbd"/><stop offset=".43" stop-color="#b8b8b8"/><stop offset=".435" stop-color="#b4b4b4"/><stop offset=".44" stop-color="#b0b0b0"/><stop offset=".445" stop-color="#adadad"/><stop offset=".45" stop-color="#aaaaaa"/><stop offset=".455" stop-color="#a8a8a8"/><stop offset=".46" stop-color="#a4a4a4"/><stop offset=".465" stop-color="#a1a1a1"/><stop offset=".47" stop-color="#9c9c9c"/><stop offset=".475" stop-color="#969696"/><stop offset=".48" stop-color="#919191"/><stop offset=".485" stop-color="#8b8b8b"/><stop offset=".49" stop-color="#868686"/><stop offset=".495" stop-color="#818181"/><stop offset=".5" stop-color="#7e7e7e"/><stop offset=".52" stop-color="#777777"/><stop offset=".54" stop-color="#757575"/><stop offset=".56" stop-color="#777777"/><stop offset=".58" stop-color="#7b7b7b"/><stop offset=".6" stop-color="#7d7d7d"/><stop offset=".62" stop-color="#7f7f7f"/><stop offset=".64" stop-color="#808080"/><stop offset=".66" stop-color="#7f7f7f"/><stop offset=".68" stop-color="#808080"/><stop offset=".7" stop-color="#808080"/><stop offset=".72" stop-color="#818181"/><stop offset=".74" stop-color="#808080"/><stop offset=".76" stop-color="#808080"/><stop offset=".78" stop-color="#838383"/><stop offset=".8" stop-color="#848484"/><stop offset=".82" stop-color="#838383"/><stop offset=".84" stop-color="#838383"/><stop offset=".86" stop-color="#838383"/><stop offset=".88" stop-color="#848484"/><stop offset=".9" stop-color="#838383"/><stop offset=".92" stop-color="#808080"/><stop offset=".94" stop-color="#818181"/><stop offset=".96" stop-color="#828282"/><stop offset=".98" stop-color="#848484"/><stop offset="1" stop-color="#868686"/></linearGradient><linearGradient id="c27" gradientUnits="userSpaceOnUse" x1="46.4" x2="209.5" y1="0" y2="0"><stop offset="0" stop-color="#898989"/><stop offset=".02" stop-color="#898989"/><stop offset=".04" stop-color="#898989"/><stop offset=".06" stop-color="#888888"/><stop offset=".08" stop-color="#888888"/><stop offset=".1" stop-color="#878787"/><stop offset=".12" stop-color="#878787"/><stop offset=".14" stop-color="#898989"/><stop offset=".16" stop-color="#888888"/><stop offset=".18" stop-color="#898989"/><stop offset=".2" stop-color="#8a8a8a"/><stop offset=".22" stop-color="#898989"/><stop offset=".24" stop-color="#7d7d7d"/><stop offset=".245" stop-color="#747474"/><stop offset=".25" stop-color="#696969"/><stop offset=".255" stop-color="#5f5f5f"/><stop offset=".26" stop-color="#5b5b5b"/><stop offset=".265" stop-color="#5f5f5f"/><stop offset=".27" stop-color="#686868"/><stop offset=".275" stop-color="#717171"/><stop offset=".28" stop-color="#727272"/><stop offset=".285" stop-color="#6a6a6a"/><stop offset=".29" stop-color="#656565"/><stop offset=".295" stop-color="#717171"/><stop offset=".3" stop-color="#8a8a8a"/><stop offset=".305" stop-color="#9e9e9e"/><stop offset=".31" stop-color="#aeaeae"/><stop offset=".315" stop-color="#bcbcbc"/><stop offset=".32" stop-color="#c6c6c6"/><stop offset=".325" stop-color="#cbcbcb"/><stop offset=".33" stop-color="#cbcbcb"/><stop offset=".335" stop-color="#c6c6c6"/><stop offset=".34" stop-color="#c0c0c0"/><stop offset=".345" stop-color="#bababa"/><stop offset=".35" stop-color="#b5b5b5"/><stop offset=".355" stop-color="#b4b4b4"/><stop offset=".36" stop-color="#b8b8b8"/><stop offset=".365" stop-color="#bdbdbd"/><stop offset=".37" stop-color="#bfbfbf"/><stop offset=".375" stop-color="#bebebe"/><stop offset=".38" stop-color="#bdbdbd"/><stop offset=".385" stop-color="#bdbdbd"/><stop offset=".39" stop-color="#bebebe"/><stop offset=".395" stop-color="#c0c0c0"/><stop offset=".4" stop-color="#c2c2c2"/><stop offset=".405" stop-color="#c4c4c4"/><stop offset=".41" stop-color="#c5c5c5"/><stop offset=".415" stop-color="#c4c4c4"/><stop offset=".42" stop-color="#c2c2c2"/><stop offset=".425" stop-color="#bebebe"/><stop offset=".43" stop-color="#b9b9b9"/><stop offset=".435" stop-color="#b5b5b5"/><stop offset=".44" stop-color="#b0b0b0"/><stop offset=".445" stop-color="#adadad"/><stop offset=".45" stop-color="#a9a9a9"/><stop offset=".455" stop-color="#a7a7a7"/><stop offset=".46" stop-color="#a4a4a4"/><stop offset=".465" stop-color="#a0a0a0"/><stop offset=".47" stop-color="#9c9c9c"/><stop offset=".475" stop-color="#979797"/><stop offset=".48" stop-color="#939393"/><stop offset=".485" stop-color="#8e8e8e"/><stop offset=".49" stop-color="#898989"/><stop offset=".495" stop-color="#848484"/><stop offset=".5" stop-color="#808080"/><stop offset=".52" stop-color="#757575"/><stop offset=".54" stop-color="#737373"/><stop offset=".56" stop-color="#787878"/><stop offset=".58" stop-color="#7b7b7b"/><stop offset=".6" stop-color="#7c7c7c"/><stop offset=".62" stop-color="#7c7c7c"/><stop offset=".64" stop-color="#7e7e7e"/><stop offset=".66" stop-color="#828282"/><stop offset=".68" stop-color="#848484"/><stop offset=".7" stop-color="#838383"/><stop offset=".72" stop-color="#848484"/><stop offset=".74" stop-color="#838383"/><stop offset=".76" stop-color="#808080"/><stop offset=".78" stop-color="#7f7f7f"/><stop offset=".8" stop-color="#818181"/><stop offset=".82" stop-color="#818181"/><stop offset=".84" stop-color="#838383"/><stop offset=".86" stop-color="#858585"/><stop offset=".88" stop-color="#858585"/><stop offset=".9" stop-color="#848484"/><stop offset=".92" stop-color="#828282"/><stop offset=".94" stop-color="#828282"/><stop offset=".96" stop-color="#858585"/><stop offset=".98" stop-color="#868686"/><stop offset="1" stop-color="#868686"/></linearGradient><linearGradient id="c28" gradientUnits="userSpaceOnUse" x1="46.4" x2="209.5" y1="0" y2="0"><stop offset="0" stop-color="#888888"/><stop offset=".02" stop-color="#888888"/><stop offset=".04" stop-color="#898989"/><stop offset=".06" stop-color="#898989"/><stop offset=".08" stop-color="#898989"/><stop offset=".1" stop-color="#8a8a8a"/><stop offset=".12" stop-color="#8b8b8b"/><stop offset=".14" stop-color="#8b8b8b"/><stop offset=".16" stop-color="#8a8a8a"/><stop offset=".18" stop-color="#888888"/><stop offset=".2" stop-color="#898989"/><stop offset=".22" stop-color="#898989"/><stop offset=".24" stop-color="#7d7d7d"/><stop offset=".245" stop-color="#737373"/><stop offset=".25" stop-color="#686868"/><stop offset=".255" stop-color="#5f5f5f"/><stop offset=".26" stop-color="#5d5d5d"/><stop offset=".265" stop-color="#616161"/><stop offset=".27" stop-color="#6b6b6b"/><stop offset=".275" stop-color="#737373"/><stop offset=".28" stop-color="#747474"/><stop offset=".285" stop-color="#6b6b6b"/><stop offset=".29" stop-color="#656565"/><stop offset=".295" stop-color="#717171"/><stop offset=".3" stop-color="#8a8a8a"/><stop offset=".305" stop-color="#9e9e9e"/><stop offset=".31" stop-color="#aeaeae"/><stop offset=".315" stop-color="#bcbcbc"/><stop offset=".32" stop-color="#c7c7c7"/><stop offset=".325" stop-color="#cccccc"/><stop offset=".33" stop-color="#cbcbcb"/><stop offset=".335" stop-color="#c7c7c7"/><stop offset=".34" stop-color="#c1c1c1"/><stop offset=".345" stop-color="#bbbbbb"/><stop offset=".35" stop-color="#b6b6b6"/><stop offset=".355" stop-color="#b4b4b4"/><stop offset=".36" stop-color="#b7b7b7"/><stop offset=".365" stop-color="#bbbbbb"/><stop offset=".37" stop-color="#bdbdbd"/><stop offset=".375" stop-color="#bcbcbc"/><stop offset=".38" stop-color="#bababa"/><stop offset=".385" stop-color="#b9b9b9"/><stop offset=".39" stop-color="#bababa"/><stop offset=".395" stop-color="#bcbcbc"/><stop offset=".4" stop-color="#bfbfbf"/><stop offset=".405" stop-color="#c2c2c2"/><stop offset=".41" stop-color="#c4c4c4"/><stop offset=".415" stop-color="#c4c4c4"/><stop offset=".42" stop-color="#c3c3c3"/><stop offset=".425" stop-color="#c0c0c0"/><stop offset=".43" stop-color="#bdbdbd"/><stop offset=".435" stop-color="#b9b9b9"/><stop offset=".44" stop-color="#b5b5b5"/><stop offset=".445" stop-color="#b1b1b1"/><stop offset=".45" stop-color="#afafaf"/><stop offset=".455" stop-color="#acacac"/><stop offset=".46" stop-color="#a9a9a9"/><stop offset=".465" stop-color="#a6a6a6"/><stop offset=".47" stop-color="#a2a2a2"/><stop offset=".475" stop-color="#9d9d9d"/><stop offset=".48" stop-color="#989898"/><stop offset=".485" stop-color="#939393"/><stop offset=".49" stop-color="#8d8d8d"/><stop offset=".495" stop-color="#898989"/><stop offset=".5" stop-color="#848484"/><stop offset=".52" stop-color="#797979"/><stop offset=".54" stop-color="#787878"/><stop offset=".56" stop-color="#7b7b7b"/><stop offset=".58" stop-color="#7a7a7a"/><stop offset=".6" stop-color="#777777"/><stop offset=".62" stop-color="#767676"/><stop offset=".64" stop-color="#797979"/><stop offset=".66" stop-color="#7e7e7e"/><stop offset=".68" stop-color="#828282"/><stop offset=".7" stop-color="#838383"/><stop offset=".72" stop-color="#818181"/><stop offset=".74" stop-color="#818181"/><stop offset=".76" stop-color="#838383"/><stop offset=".78" stop-color="#848484"/><stop offset=".8" stop-color="#848484"/><stop offset=".82" stop-color="#848484"/><stop offset=".84" stop-color="#838383"/><stop offset=".86" stop-color="#848484"/><stop offset=".88" stop-color="#858585"/><stop offset=".9" stop-color="#868686"/><stop offset=".92" stop-color="#858585"/><stop offset=".94" stop-color="#858585"/><stop offset=".96" stop-color="#878787"/><stop offset=".98" stop-color="#878787"/><stop offset="1" stop-color="#868686"/></linearGradient><linearGradient id="c29" gradientUnits="userSpaceOnUse" x1="46.4" x2="209.5" y1="0" y2="0"><stop offset="0" stop-color="#868686"/><stop offset=".02" stop-color="#888888"/><stop offset=".04" stop-color="#888888"/><stop offset=".06" stop-color="#858585"/><stop offset=".08" stop-color="#838383"/><stop offset=".1" stop-color="#858585"/><stop offset=".12" stop-color="#868686"/><stop offset=".14" stop-color="#848484"/><stop offset=".16" stop-color="#878787"/><stop offset=".18" stop-color="#868686"/><stop offset=".2" stop-color="#848484"/><stop offset=".22" stop-color="#868686"/><stop offset=".24" stop-color="#7a7a7a"/><stop offset=".245" stop-color="#717171"/><stop offset=".25" stop-color="#666666"/><stop offset=".255" stop-color="#5e5e5e"/><stop offset=".26" stop-color="#5d5d5d"/><stop offset=".265" stop-color="#636363"/><stop offset=".27" stop-color="#6d6d6d"/><stop offset=".275" stop-color="#767676"/><stop offset=".28" stop-color="#757575"/><stop offset=".285" stop-color="#6c6c6c"/><stop offset=".29" stop-color="#646464"/><stop offset=".295" stop-color="#6f6f6f"/><stop offset=".3" stop-color="#878787"/><stop offset=".305" stop-color="#9a9a9a"/><stop offset=".31" stop-color="#aaaaaa"/><stop offset=".315" stop-color="#b9b9b9"/><stop offset=".32" stop-color="#c4c4c4"/><stop offset=".325" stop-color="#cacaca"/><stop offset=".33" stop-color="#cacaca"/><stop offset=".335" stop-color="#c6c6c6"/><stop offset=".34" stop-color="#c1c1c1"/><stop offset=".345" stop-color="#bbbbbb"/><stop offset=".35" stop-color="#b6b6b6"/><stop offset=".355" stop-color="#b3b3b3"/><stop offset=".36" stop-color="#b4b4b4"/><stop offset=".365" stop-color="#b7b7b7"/><stop offset=".37" stop-color="#b9b9b9"/><stop offset=".375" stop-color="#b7b7b7"/><stop offset=".38" stop-color="#b5b5b5"/><stop offset=".385" stop-color="#b4b4b4"/><stop offset=".39" stop-color="#b5b5b5"/><stop offset=".395" stop-color="#b8b8b8"/><stop offset=".4" stop-color="#bcbcbc"/><stop offset=".405" stop-color="#c0c0c0"/><stop offset=".41" stop-color="#c2c2c2"/><stop offset=".415" stop-color="#c3c3c3"/><stop offset=".42" stop-color="#c2c2c2"/><stop offset=".425" stop-color="#bfbfbf"/><stop offset=".43" stop-color="#bbbbbb"/><stop offset=".435" stop-color="#b7b7b7"/><stop offset=".44" stop-color="#b3b3b3"/><stop offset=".445" stop-color="#afafaf"/><stop offset=".45" stop-color="#acacac"/><stop offset=".455" stop-color="#a9a9a9"/><stop offset=".46" stop-color="#a6a6a6"/><stop offset=".465" stop-color="#a2a2a2"/><stop offset=".47" stop-color="#9e9e9e"/><stop offset=".475" stop-color="#9a9a9a"/><stop offset=".48" stop-color="#959595"/><stop offset=".485" stop-color="#909090"/><stop offset=".49" stop-color="#8c8c8c"/><stop offset=".495" stop-color="#878787"/><stop offset=".5" stop-color="#828282"/><stop offset=".52" stop-color="#777777"/><stop offset=".54" stop-color="#757575"/><stop offset=".56" stop-color="#777777"/><stop offset=".58" stop-color="#767676"/><stop offset=".6" stop-color="#777777"/><stop offset=".62" stop-color="#7a7a7a"/><stop offset=".64" stop-color="#7a7a7a"/><stop offset=".66" stop-color="#7b7b7b"/><stop offset=".68" stop-color="#7f7f7f"/><stop offset=".7" stop-color="#838383"/><stop offset=".72" stop-color="#848484"/><stop offset=".74" stop-color="#808080"/><stop offset=".76" stop-color="#818181"/><stop offset=".78" stop-color="#848484"/><stop offset=".8" stop-color="#818181"/><stop offset=".82" stop-color="#818181"/><stop offset=".84" stop-color="#828282"/><stop offset=".86" stop-color="#818181"/><stop offset=".88" stop-color="#818181"/><stop offset=".9" stop-color="#808080"/><stop offset=".92" stop-color="#828282"/><stop offset=".94" stop-color="#838383"/><stop offset=".96" stop-color="#828282"/><stop offset=".98" stop-color="#818181"/><stop offset="1" stop-color="#828282"/></linearGradient></defs><clipPath id="kc"><rect x="45.5" y="235.2" width="164" height="160.6"/></clipPath><g clip-path="url(#kc)"><rect x="45.5" y="390" width="164" height="6" fill="url(#c1)"/><rect x="45.5" y="385" width="164" height="5" fill="url(#c2)"/><rect x="45.5" y="379" width="164" height="6" fill="url(#c3)"/><rect x="45.5" y="374" width="164" height="5" fill="url(#c4)"/><rect x="45.5" y="368" width="164" height="6" fill="url(#c5)"/><rect x="45.5" y="363" width="164" height="5" fill="url(#c6)"/><rect x="45.5" y="357" width="164" height="6" fill="url(#c7)"/><rect x="45.5" y="351" width="164" height="6" fill="url(#c8)"/><rect x="45.5" y="346" width="164" height="5" fill="url(#c9)"/><rect x="45.5" y="340" width="164" height="6" fill="url(#c10)"/><rect x="45.5" y="335" width="164" height="5" fill="url(#c11)"/><rect x="45.5" y="329" width="164" height="6" fill="url(#c12)"/><rect x="45.5" y="324" width="164" height="5" fill="url(#c13)"/><rect x="45.5" y="318" width="164" height="6" fill="url(#c14)"/><rect x="45.5" y="313" width="164" height="5" fill="url(#c15)"/><rect x="45.5" y="307" width="164" height="6" fill="url(#c16)"/><rect x="45.5" y="302" width="164" height="5" fill="url(#c17)"/><rect x="45.5" y="296" width="164" height="6" fill="url(#c18)"/><rect x="45.5" y="291" width="164" height="5" fill="url(#c19)"/><rect x="45.5" y="285" width="164" height="6" fill="url(#c20)"/><rect x="45.5" y="280" width="164" height="5" fill="url(#c21)"/><rect x="45.5" y="274" width="164" height="6" fill="url(#c22)"/><rect x="45.5" y="268" width="164" height="6" fill="url(#c23)"/><rect x="45.5" y="263" width="164" height="5" fill="url(#c24)"/><rect x="45.5" y="257" width="164" height="6" fill="url(#c25)"/><rect x="45.5" y="252" width="164" height="5" fill="url(#c26)"/><rect x="45.5" y="246" width="164" height="6" fill="url(#c27)"/><rect x="45.5" y="241" width="164" height="5" fill="url(#c28)"/><rect x="45.5" y="235" width="164" height="6" fill="url(#c29)"/></g>
<defs><linearGradient id="d1" gradientUnits="userSpaceOnUse" x1="293.4" x2="456.5" y1="0" y2="0"><stop offset="0" stop-color="#838383"/><stop offset=".02" stop-color="#858585"/><stop offset=".04" stop-color="#898989"/><stop offset=".06" stop-color="#898989"/><stop offset=".08" stop-color="#878787"/><stop offset=".1" stop-color="#848484"/><stop offset=".12" stop-color="#808080"/><stop offset=".14" stop-color="#7f7f7f"/><stop offset=".16" stop-color="#7d7d7d"/><stop offset=".18" stop-color="#7e7e7e"/><stop offset=".2" stop-color="#828282"/><stop offset=".22" stop-color="#848484"/><stop offset=".24" stop-color="#6f6f6f"/><stop offset=".245" stop-color="#606060"/><stop offset=".25" stop-color="#525252"/><stop offset=".255" stop-color="#4c4c4c"/><stop offset=".26" stop-color="#515151"/><stop offset=".265" stop-color="#5c5c5c"/><stop offset=".27" stop-color="#666666"/><stop offset=".275" stop-color="#656565"/><stop offset=".28" stop-color="#575757"/><stop offset=".285" stop-color="#484848"/><stop offset=".29" stop-color="#494949"/><stop offset=".295" stop-color="#5c5c5c"/><stop offset=".3" stop-color="#787878"/><stop offset=".305" stop-color="#8a8a8a"/><stop offset=".31" stop-color="#959595"/><stop offset=".315" stop-color="#9f9f9f"/><stop offset=".32" stop-color="#a8a8a8"/><stop offset=".325" stop-color="#b0b0b0"/><stop offset=".33" stop-color="#b5b5b5"/><stop offset=".335" stop-color="#b8b8b8"/><stop offset=".34" stop-color="#b6b6b6"/><stop offset=".345" stop-color="#b2b2b2"/><stop offset=".35" stop-color="#acacac"/><stop offset=".355" stop-color="#a7a7a7"/><stop offset=".36" stop-color="#a3a3a3"/><stop offset=".365" stop-color="#a1a1a1"/><stop offset=".37" stop-color="#a0a0a0"/><stop offset=".375" stop-color="#a2a2a2"/><stop offset=".38" stop-color="#a5a5a5"/><stop offset=".385" stop-color="#a7a7a7"/><stop offset=".39" stop-color="#a5a5a5"/><stop offset=".395" stop-color="#a0a0a0"/><stop offset=".4" stop-color="#9b9b9b"/><stop offset=".405" stop-color="#9b9b9b"/><stop offset=".41" stop-color="#9f9f9f"/><stop offset=".415" stop-color="#a4a4a4"/><stop offset=".42" stop-color="#a5a5a5"/><stop offset=".425" stop-color="#a0a0a0"/><stop offset=".43" stop-color="#979797"/><stop offset=".435" stop-color="#8c8c8c"/><stop offset=".44" stop-color="#858585"/><stop offset=".445" stop-color="#828282"/><stop offset=".45" stop-color="#848484"/><stop offset=".455" stop-color="#878787"/><stop offset=".46" stop-color="#878787"/><stop offset=".465" stop-color="#858585"/><stop offset=".47" stop-color="#7d7d7d"/><stop offset=".475" stop-color="#747474"/><stop offset=".48" stop-color="#707070"/><stop offset=".485" stop-color="#6f6f6f"/><stop offset=".49" stop-color="#6f6f6f"/><stop offset=".495" stop-color="#6e6e6e"/><stop offset=".5" stop-color="#6c6c6c"/><stop offset=".52" stop-color="#6f6f6f"/><stop offset=".54" stop-color="#7b7b7b"/><stop offset=".56" stop-color="#717171"/><stop offset=".58" stop-color="#696969"/><stop offset=".6" stop-color="#6a6a6a"/><stop offset=".62" stop-color="#6d6d6d"/><stop offset=".64" stop-color="#6f6f6f"/><stop offset=".66" stop-color="#6e6e6e"/><stop offset=".68" stop-color="#707070"/><stop offset=".7" stop-color="#6d6d6d"/><stop offset=".72" stop-color="#6e6e6e"/><stop offset=".74" stop-color="#767676"/><stop offset=".76" stop-color="#7a7a7a"/><stop offset=".78" stop-color="#767676"/><stop offset=".8" stop-color="#6c6c6c"/><stop offset=".82" stop-color="#6f6f6f"/><stop offset=".84" stop-color="#757575"/><stop offset=".86" stop-color="#7e7e7e"/><stop offset=".88" stop-color="#7f7f7f"/><stop offset=".9" stop-color="#777777"/><stop offset=".92" stop-color="#747474"/><stop offset=".94" stop-color="#737373"/><stop offset=".96" stop-color="#787878"/><stop offset=".98" stop-color="#787878"/><stop offset="1" stop-color="#757575"/></linearGradient><linearGradient id="d2" gradientUnits="userSpaceOnUse" x1="293.4" x2="456.5" y1="0" y2="0"><stop offset="0" stop-color="#7d7d7d"/><stop offset=".02" stop-color="#808080"/><stop offset=".04" stop-color="#7f7f7f"/><stop offset=".06" stop-color="#7f7f7f"/><stop offset=".08" stop-color="#808080"/><stop offset=".1" stop-color="#828282"/><stop offset=".12" stop-color="#838383"/><stop offset=".14" stop-color="#858585"/><stop offset=".16" stop-color="#878787"/><stop offset=".18" stop-color="#7c7c7c"/><stop offset=".2" stop-color="#777777"/><stop offset=".22" stop-color="#7b7b7b"/><stop offset=".24" stop-color="#666666"/><stop offset=".245" stop-color="#595959"/><stop offset=".25" stop-color="#4f4f4f"/><stop offset=".255" stop-color="#4f4f4f"/><stop offset=".26" stop-color="#585858"/><stop offset=".265" stop-color="#666666"/><stop offset=".27" stop-color="#6f6f6f"/><stop offset=".275" stop-color="#696969"/><stop offset=".28" stop-color="#565656"/><stop offset=".285" stop-color="#444444"/><stop offset=".29" stop-color="#454545"/><stop offset=".295" stop-color="#5c5c5c"/><stop offset=".3" stop-color="#7b7b7b"/><stop offset=".305" stop-color="#909090"/><stop offset=".31" stop-color="#9e9e9e"/><stop offset=".315" stop-color="#aaaaaa"/><stop offset=".32" stop-color="#b1b1b1"/><stop offset=".325" stop-color="#b4b4b4"/><stop offset=".33" stop-color="#b3b3b3"/><stop offset=".335" stop-color="#aeaeae"/><stop offset=".34" stop-color="#a8a8a8"/><stop offset=".345" stop-color="#a3a3a3"/><stop offset=".35" stop-color="#a1a1a1"/><stop offset=".355" stop-color="#a3a3a3"/><stop offset=".36" stop-color="#a7a7a7"/><stop offset=".365" stop-color="#aaaaaa"/><stop offset=".37" stop-color="#aaaaaa"/><stop offset=".375" stop-color="#a8a8a8"/><stop offset=".38" stop-color="#a6a6a6"/><stop offset=".385" stop-color="#a4a4a4"/><stop offset=".39" stop-color="#a4a4a4"/><stop offset=".395" stop-color="#a4a4a4"/><stop offset=".4" stop-color="#a5a5a5"/><stop offset=".405" stop-color="#a7a7a7"/><stop offset=".41" stop-color="#a7a7a7"/><stop offset=".415" stop-color="#a8a8a8"/><stop offset=".42" stop-color="#a9a9a9"/><stop offset=".425" stop-color="#aaaaaa"/><stop offset=".43" stop-color="#a8a8a8"/><stop offset=".435" stop-color="#a2a2a2"/><stop offset=".44" stop-color="#9d9d9d"/><stop offset=".445" stop-color="#9b9b9b"/><stop offset=".45" stop-color="#9a9a9a"/><stop offset=".455" stop-color="#999999"/><stop offset=".46" stop-color="#969696"/><stop offset=".465" stop-color="#929292"/><stop offset=".47" stop-color="#8e8e8e"/><stop offset=".475" stop-color="#8a8a8a"/><stop offset=".48" stop-color="#888888"/><stop offset=".485" stop-color="#868686"/><stop offset=".49" stop-color="#828282"/><stop offset=".495" stop-color="#7b7b7b"/><stop offset=".5" stop-color="#767676"/><stop offset=".52" stop-color="#6b6b6b"/><stop offset=".54" stop-color="#737373"/><stop offset=".56" stop-color="#767676"/><stop offset=".58" stop-color="#727272"/><stop offset=".6" stop-color="#757575"/><stop offset=".62" stop-color="#747474"/><stop offset=".64" stop-color="#737373"/><stop offset=".66" stop-color="#737373"/><stop offset=".68" stop-color="#707070"/><stop offset=".7" stop-color="#777777"/><stop offset=".72" stop-color="#848484"/><stop offset=".74" stop-color="#858585"/><stop offset=".76" stop-color="#828282"/><stop offset=".78" stop-color="#838383"/><stop offset=".8" stop-color="#848484"/><stop offset=".82" stop-color="#818181"/><stop offset=".84" stop-color="#7c7c7c"/><stop offset=".86" stop-color="#858585"/><stop offset=".88" stop-color="#888888"/><stop offset=".9" stop-color="#848484"/><stop offset=".92" stop-color="#808080"/><stop offset=".94" stop-color="#818181"/><stop offset=".96" stop-color="#838383"/><stop offset=".98" stop-color="#868686"/><stop offset="1" stop-color="#8a8a8a"/></linearGradient><linearGradient id="d3" gradientUnits="userSpaceOnUse" x1="293.4" x2="456.5" y1="0" y2="0"><stop offset="0" stop-color="#8c8c8c"/><stop offset=".02" stop-color="#8c8c8c"/><stop offset=".04" stop-color="#878787"/><stop offset=".06" stop-color="#848484"/><stop offset=".08" stop-color="#848484"/><stop offset=".1" stop-color="#7c7c7c"/><stop offset=".12" stop-color="#797979"/><stop offset=".14" stop-color="#7b7b7b"/><stop offset=".16" stop-color="#808080"/><stop offset=".18" stop-color="#868686"/><stop offset=".2" stop-color="#868686"/><stop offset=".22" stop-color="#858585"/><stop offset=".24" stop-color="#707070"/><stop offset=".245" stop-color="#626262"/><stop offset=".25" stop-color="#565656"/><stop offset=".255" stop-color="#535353"/><stop offset=".26" stop-color="#5a5a5a"/><stop offset=".265" stop-color="#676767"/><stop offset=".27" stop-color="#717171"/><stop offset=".275" stop-color="#6f6f6f"/><stop offset=".28" stop-color="#5f5f5f"/><stop offset=".285" stop-color="#4e4e4e"/><stop offset=".29" stop-color="#4d4d4d"/><stop offset=".295" stop-color="#626262"/><stop offset=".3" stop-color="#7f7f7f"/><stop offset=".305" stop-color="#919191"/><stop offset=".31" stop-color="#9e9e9e"/><stop offset=".315" stop-color="#ababab"/><stop offset=".32" stop-color="#b5b5b5"/><stop offset=".325" stop-color="#bcbcbc"/><stop offset=".33" stop-color="#bfbfbf"/><stop offset=".335" stop-color="#bebebe"/><stop offset=".34" stop-color="#b8b8b8"/><stop offset=".345" stop-color="#b0b0b0"/><stop offset=".35" stop-color="#a8a8a8"/><stop offset=".355" stop-color="#a2a2a2"/><stop offset=".36" stop-color="#9c9c9c"/><stop offset=".365" stop-color="#9a9a9a"/><stop offset=".37" stop-color="#9d9d9d"/><stop offset=".375" stop-color="#a3a3a3"/><stop offset=".38" stop-color="#a5a5a5"/><stop offset=".385" stop-color="#a3a3a3"/><stop offset=".39" stop-color="#9f9f9f"/><stop offset=".395" stop-color="#9c9c9c"/><stop offset=".4" stop-color="#9c9c9c"/><stop offset=".405" stop-color="#9e9e9e"/><stop offset=".41" stop-color="#a1a1a1"/><stop offset=".415" stop-color="#a3a3a3"/><stop offset=".42" stop-color="#a2a2a2"/><stop offset=".425" stop-color="#9d9d9d"/><stop offset=".43" stop-color="#979797"/><stop offset=".435" stop-color="#949494"/><stop offset=".44" stop-color="#939393"/><stop offset=".445" stop-color="#929292"/><stop offset=".45" stop-color="#929292"/><stop offset=".455" stop-color="#959595"/><stop offset=".46" stop-color="#999999"/><stop offset=".465" stop-color="#9b9b9b"/><stop offset=".47" stop-color="#979797"/><stop offset=".475" stop-color="#909090"/><stop offset=".48" stop-color="#888888"/><stop offset=".485" stop-color="#818181"/><stop offset=".49" stop-color="#7e7e7e"/><stop offset=".495" stop-color="#7f7f7f"/><stop offset=".5" stop-color="#838383"/><stop offset=".52" stop-color="#858585"/><stop offset=".54" stop-color="#858585"/><stop offset=".56" stop-color="#777777"/><stop offset=".58" stop-color="#717171"/><stop offset=".6" stop-color="#797979"/><stop offset=".62" stop-color="#7e7e7e"/><stop offset=".64" stop-color="#818181"/><stop offset=".66" stop-color="#858585"/><stop offset=".68" stop-color="#848484"/><stop offset=".7" stop-color="#818181"/><stop offset=".72" stop-color="#848484"/><stop offset=".74" stop-color="#878787"/><stop offset=".76" stop-color="#878787"/><stop offset=".78" stop-color="#818181"/><stop offset=".8" stop-color="#848484"/><stop offset=".82" stop-color="#8a8a8a"/><stop offset=".84" stop-color="#8b8b8b"/><stop offset=".86" stop-color="#888888"/><stop offset=".88" stop-color="#878787"/><stop offset=".9" stop-color="#898989"/><stop offset=".92" stop-color="#8b8b8b"/><stop offset=".94" stop-color="#868686"/><stop offset=".96" stop-color="#848484"/><stop offset=".98" stop-color="#848484"/><stop offset="1" stop-color="#838383"/></linearGradient><linearGradient id="d4" gradientUnits="userSpaceOnUse" x1="293.4" x2="456.5" y1="0" y2="0"><stop offset="0" stop-color="#808080"/><stop offset=".02" stop-color="#7f7f7f"/><stop offset=".04" stop-color="#858585"/><stop offset=".06" stop-color="#8b8b8b"/><stop offset=".08" stop-color="#8d8d8d"/><stop offset=".1" stop-color="#8d8d8d"/><stop offset=".12" stop-color="#888888"/><stop offset=".14" stop-color="#828282"/><stop offset=".16" stop-color="#7f7f7f"/><stop offset=".18" stop-color="#858585"/><stop offset=".2" stop-color="#858585"/><stop offset=".22" stop-color="#7f7f7f"/><stop offset=".24" stop-color="#6d6d6d"/><stop offset=".245" stop-color="#606060"/><stop offset=".25" stop-color="#545454"/><stop offset=".255" stop-color="#515151"/><stop offset=".26" stop-color="#565656"/><stop offset=".265" stop-color="#616161"/><stop offset=".27" stop-color="#686868"/><stop offset=".275" stop-color="#646464"/><stop offset=".28" stop-color="#565656"/><stop offset=".285" stop-color="#494949"/><stop offset=".29" stop-color="#4b4b4b"/><stop offset=".295" stop-color="#5f5f5f"/><stop offset=".3" stop-color="#7b7b7b"/><stop offset=".305" stop-color="#8f8f8f"/><stop offset=".31" stop-color="#9f9f9f"/><stop offset=".315" stop-color="#aeaeae"/><stop offset=".32" stop-color="#bbbbbb"/><stop offset=".325" stop-color="#c4c4c4"/><stop offset=".33" stop-color="#c9c9c9"/><stop offset=".335" stop-color="#c9c9c9"/><stop offset=".34" stop-color="#c5c5c5"/><stop offset=".345" stop-color="#bdbdbd"/><stop offset=".35" stop-color="#b7b7b7"/><stop offset=".355" stop-color="#b6b6b6"/><stop offset=".36" stop-color="#b9b9b9"/><stop offset=".365" stop-color="#bcbcbc"/><stop offset=".37" stop-color="#bcbcbc"/><stop offset=".375" stop-color="#b8b8b8"/><stop offset=".38" stop-color="#b3b3b3"/><stop offset=".385" stop-color="#b0b0b0"/><stop offset=".39" stop-color="#b0b0b0"/><stop offset=".395" stop-color="#b2b2b2"/><stop offset=".4" stop-color="#b3b3b3"/><stop offset=".405" stop-color="#b2b2b2"/><stop offset=".41" stop-color="#acacac"/><stop offset=".415" stop-color="#a4a4a4"/><stop offset=".42" stop-color="#9f9f9f"/><stop offset=".425" stop-color="#9d9d9d"/><stop offset=".43" stop-color="#9d9d9d"/><stop offset=".435" stop-color="#9b9b9b"/><stop offset=".44" stop-color="#9b9b9b"/><stop offset=".445" stop-color="#9b9b9b"/><stop offset=".45" stop-color="#9c9c9c"/><stop offset=".455" stop-color="#9c9c9c"/><stop offset=".46" stop-color="#9b9b9b"/><stop offset=".465" stop-color="#989898"/><stop offset=".47" stop-color="#929292"/><stop offset=".475" stop-color="#8b8b8b"/><stop offset=".48" stop-color="#868686"/><stop offset=".485" stop-color="#828282"/><stop offset=".49" stop-color="#808080"/><stop offset=".495" stop-color="#818181"/><stop offset=".5" stop-color="#828282"/><stop offset=".52" stop-color="#797979"/><stop offset=".54" stop-color="#808080"/><stop offset=".56" stop-color="#787878"/><stop offset=".58" stop-color="#777777"/><stop offset=".6" stop-color="#7a7a7a"/><stop offset=".62" stop-color="#777777"/><stop offset=".64" stop-color="#757575"/><stop offset=".66" stop-color="#787878"/><stop offset=".68" stop-color="#797979"/><stop offset=".7" stop-color="#7a7a7a"/><stop offset=".72" stop-color="#787878"/><stop offset=".74" stop-color="#737373"/><stop offset=".76" stop-color="#797979"/><stop offset=".78" stop-color="#838383"/><stop offset=".8" stop-color="#838383"/><stop offset=".82" stop-color="#797979"/><stop offset=".84" stop-color="#757575"/><stop offset=".86" stop-color="#7c7c7c"/><stop offset=".88" stop-color="#7d7d7d"/><stop offset=".9" stop-color="#7a7a7a"/><stop offset=".92" stop-color="#787878"/><stop offset=".94" stop-color="#828282"/><stop offset=".96" stop-color="#858585"/><stop offset=".98" stop-color="#7e7e7e"/><stop offset="1" stop-color="#7c7c7c"/></linearGradient><linearGradient id="d5" gradientUnits="userSpaceOnUse" x1="293.4" x2="456.5" y1="0" y2="0"><stop offset="0" stop-color="#868686"/><stop offset=".02" stop-color="#858585"/><stop offset=".04" stop-color="#838383"/><stop offset=".06" stop-color="#7e7e7e"/><stop offset=".08" stop-color="#7d7d7d"/><stop offset=".1" stop-color="#7f7f7f"/><stop offset=".12" stop-color="#828282"/><stop offset=".14" stop-color="#848484"/><stop offset=".16" stop-color="#7d7d7d"/><stop offset=".18" stop-color="#7a7a7a"/><stop offset=".2" stop-color="#7e7e7e"/><stop offset=".22" stop-color="#838383"/><stop offset=".24" stop-color="#717171"/><stop offset=".245" stop-color="#636363"/><stop offset=".25" stop-color="#565656"/><stop offset=".255" stop-color="#545454"/><stop offset=".26" stop-color="#5c5c5c"/><stop offset=".265" stop-color="#686868"/><stop offset=".27" stop-color="#6f6f6f"/><stop offset=".275" stop-color="#696969"/><stop offset=".28" stop-color="#575757"/><stop offset=".285" stop-color="#454545"/><stop offset=".29" stop-color="#454545"/><stop offset=".295" stop-color="#5c5c5c"/><stop offset=".3" stop-color="#7b7b7b"/><stop offset=".305" stop-color="#8f8f8f"/><stop offset=".31" stop-color="#9c9c9c"/><stop offset=".315" stop-color="#a9a9a9"/><stop offset=".32" stop-color="#b7b7b7"/><stop offset=".325" stop-color="#c2c2c2"/><stop offset=".33" stop-color="#c7c7c7"/><stop offset=".335" stop-color="#c5c5c5"/><stop offset=".34" stop-color="#c0c0c0"/><stop offset=".345" stop-color="#bbbbbb"/><stop offset=".35" stop-color="#b8b8b8"/><stop offset=".355" stop-color="#b7b7b7"/><stop offset=".36" stop-color="#b8b8b8"/><stop offset=".365" stop-color="#bababa"/><stop offset=".37" stop-color="#bbbbbb"/><stop offset=".375" stop-color="#bababa"/><stop offset=".38" stop-color="#b8b8b8"/><stop offset=".385" stop-color="#b5b5b5"/><stop offset=".39" stop-color="#b4b4b4"/><stop offset=".395" stop-color="#b3b3b3"/><stop offset=".4" stop-color="#b2b2b2"/><stop offset=".405" stop-color="#b4b4b4"/><stop offset=".41" stop-color="#b9b9b9"/><stop offset=".415" stop-color="#bbbbbb"/><stop offset=".42" stop-color="#b4b4b4"/><stop offset=".425" stop-color="#a5a5a5"/><stop offset=".43" stop-color="#949494"/><stop offset=".435" stop-color="#8c8c8c"/><stop offset=".44" stop-color="#8d8d8d"/><stop offset=".445" stop-color="#939393"/><stop offset=".45" stop-color="#9a9a9a"/><stop offset=".455" stop-color="#9f9f9f"/><stop offset=".46" stop-color="#a1a1a1"/><stop offset=".465" stop-color="#a1a1a1"/><stop offset=".47" stop-color="#9d9d9d"/><stop offset=".475" stop-color="#989898"/><stop offset=".48" stop-color="#949494"/><stop offset=".485" stop-color="#8f8f8f"/><stop offset=".49" stop-color="#8a8a8a"/><stop offset=".495" stop-color="#848484"/><stop offset=".5" stop-color="#7e7e7e"/><stop offset=".52" stop-color="#7c7c7c"/><stop offset=".54" stop-color="#757575"/><stop offset=".56" stop-color="#757575"/><stop offset=".58" stop-color="#757575"/><stop offset=".6" stop-color="#747474"/><stop offset=".62" stop-color="#767676"/><stop offset=".64" stop-color="#767676"/><stop offset=".66" stop-color="#777777"/><stop offset=".68" stop-color="#7a7a7a"/><stop offset=".7" stop-color="#747474"/><stop offset=".72" stop-color="#767676"/><stop offset=".74" stop-color="#808080"/><stop offset=".76" stop-color="#808080"/><stop offset=".78" stop-color="#7a7a7a"/><stop offset=".8" stop-color="#7e7e7e"/><stop offset=".82" stop-color="#838383"/><stop offset=".84" stop-color="#848484"/><stop offset=".86" stop-color="#808080"/><stop offset=".88" stop-color="#808080"/><stop offset=".9" stop-color="#808080"/><stop offset=".92" stop-color="#828282"/><stop offset=".94" stop-color="#888888"/><stop offset=".96" stop-color="#868686"/><stop offset=".98" stop-color="#8b8b8b"/><stop offset="1" stop-color="#939393"/></linearGradient><linearGradient id="d6" gradientUnits="userSpaceOnUse" x1="293.4" x2="456.5" y1="0" y2="0"><stop offset="0" stop-color="#757575"/><stop offset=".02" stop-color="#7a7a7a"/><stop offset=".04" stop-color="#7b7b7b"/><stop offset=".06" stop-color="#7c7c7c"/><stop offset=".08" stop-color="#828282"/><stop offset=".1" stop-color="#878787"/><stop offset=".12" stop-color="#878787"/><stop offset=".14" stop-color="#828282"/><stop offset=".16" stop-color="#848484"/><stop offset=".18" stop-color="#868686"/><stop offset=".2" stop-color="#888888"/><stop offset=".22" stop-color="#858585"/><stop offset=".24" stop-color="#676767"/><stop offset=".245" stop-color="#585858"/><stop offset=".25" stop-color="#4c4c4c"/><stop offset=".255" stop-color="#4b4b4b"/><stop offset=".26" stop-color="#555555"/><stop offset=".265" stop-color="#656565"/><stop offset=".27" stop-color="#707070"/><stop offset=".275" stop-color="#6d6d6d"/><stop offset=".28" stop-color="#5d5d5d"/><stop offset=".285" stop-color="#494949"/><stop offset=".29" stop-color="#353535"/><stop offset=".295" stop-color="#202020"/><stop offset=".3" stop-color="#3f3f3f"/><stop offset=".305" stop-color="#8d8d8d"/><stop offset=".31" stop-color="#b5b5b5"/><stop offset=".315" stop-color="#cfcfcf"/><stop offset=".32" stop-color="#e6e6e6"/><stop offset=".325" stop-color="#fbfbfb"/><stop offset=".33" stop-color="#ffffff"/><stop offset=".335" stop-color="#ffffff"/><stop offset=".34" stop-color="#ffffff"/><stop offset=".345" stop-color="#ffffff"/><stop offset=".35" stop-color="#ffffff"/><stop offset=".355" stop-color="#ededed"/><stop offset=".36" stop-color="#dedede"/><stop offset=".365" stop-color="#d6d6d6"/><stop offset=".37" stop-color="#d3d3d3"/><stop offset=".375" stop-color="#cfcfcf"/><stop offset=".38" stop-color="#c9c9c9"/><stop offset=".385" stop-color="#c3c3c3"/><stop offset=".39" stop-color="#bfbfbf"/><stop offset=".395" stop-color="#c0c0c0"/><stop offset=".4" stop-color="#c4c4c4"/><stop offset=".405" stop-color="#c7c7c7"/><stop offset=".41" stop-color="#c6c6c6"/><stop offset=".415" stop-color="#bfbfbf"/><stop offset=".42" stop-color="#b7b7b7"/><stop offset=".425" stop-color="#b1b1b1"/><stop offset=".43" stop-color="#ababab"/><stop offset=".435" stop-color="#a6a6a6"/><stop offset=".44" stop-color="#a1a1a1"/><stop offset=".445" stop-color="#9f9f9f"/><stop offset=".45" stop-color="#9d9d9d"/><stop offset=".455" stop-color="#9a9a9a"/><stop offset=".46" stop-color="#949494"/><stop offset=".465" stop-color="#8f8f8f"/><stop offset=".47" stop-color="#8b8b8b"/><stop offset=".475" stop-color="#888888"/><stop offset=".48" stop-color="#868686"/><stop offset=".485" stop-color="#838383"/><stop offset=".49" stop-color="#7e7e7e"/><stop offset=".495" stop-color="#777777"/><stop offset=".5" stop-color="#6f6f6f"/><stop offset=".52" stop-color="#595959"/><stop offset=".54" stop-color="#575757"/><stop offset=".56" stop-color="#5a5a5a"/><stop offset=".58" stop-color="#5d5d5d"/><stop offset=".6" stop-color="#5e5e5e"/><stop offset=".62" stop-color="#636363"/><stop offset=".64" stop-color="#6d6d6d"/><stop offset=".66" stop-color="#727272"/><stop offset=".68" stop-color="#737373"/><stop offset=".7" stop-color="#787878"/><stop offset=".72" stop-color="#7c7c7c"/><stop offset=".74" stop-color="#797979"/><stop offset=".76" stop-color="#838383"/><stop offset=".78" stop-color="#838383"/><stop offset=".8" stop-color="#818181"/><stop offset=".82" stop-color="#878787"/><stop offset=".84" stop-color="#898989"/><stop offset=".86" stop-color="#898989"/><stop offset=".88" stop-color="#8b8b8b"/><stop offset=".9" stop-color="#888888"/><stop offset=".92" stop-color="#838383"/><stop offset=".94" stop-color="#858585"/><stop offset=".96" stop-color="#8a8a8a"/><stop offset=".98" stop-color="#868686"/><stop offset="1" stop-color="#818181"/></linearGradient><linearGradient id="d7" gradientUnits="userSpaceOnUse" x1="293.4" x2="456.5" y1="0" y2="0"><stop offset="0" stop-color="#777777"/><stop offset=".02" stop-color="#7a7a7a"/><stop offset=".04" stop-color="#7c7c7c"/><stop offset=".06" stop-color="#808080"/><stop offset=".08" stop-color="#858585"/><stop offset=".1" stop-color="#8a8a8a"/><stop offset=".12" stop-color="#878787"/><stop offset=".14" stop-color="#848484"/><stop offset=".16" stop-color="#848484"/><stop offset=".18" stop-color="#828282"/><stop offset=".2" stop-color="#7f7f7f"/><stop offset=".22" stop-color="#818181"/><stop offset=".24" stop-color="#737373"/><stop offset=".245" stop-color="#656565"/><stop offset=".25" stop-color="#5a5a5a"/><stop offset=".255" stop-color="#575757"/><stop offset=".26" stop-color="#5e5e5e"/><stop offset=".265" stop-color="#696969"/><stop offset=".27" stop-color="#707070"/><stop offset=".275" stop-color="#6d6d6d"/><stop offset=".28" stop-color="#5c5c5c"/><stop offset=".285" stop-color="#494949"/><stop offset=".29" stop-color="#464646"/><stop offset=".295" stop-color="#585858"/><stop offset=".3" stop-color="#757575"/><stop offset=".305" stop-color="#8b8b8b"/><stop offset=".31" stop-color="#9a9a9a"/><stop offset=".315" stop-color="#a8a8a8"/><stop offset=".32" stop-color="#b6b6b6"/><stop offset=".325" stop-color="#c1c1c1"/><stop offset=".33" stop-color="#c7c7c7"/><stop offset=".335" stop-color="#c6c6c6"/><stop offset=".34" stop-color="#bfbfbf"/><stop offset=".345" stop-color="#b7b7b7"/><stop offset=".35" stop-color="#b2b2b2"/><stop offset=".355" stop-color="#b0b0b0"/><stop offset=".36" stop-color="#aeaeae"/><stop offset=".365" stop-color="#adadad"/><stop offset=".37" stop-color="#aeaeae"/><stop offset=".375" stop-color="#b2b2b2"/><stop offset=".38" stop-color="#b7b7b7"/><stop offset=".385" stop-color="#bbbbbb"/><stop offset=".39" stop-color="#bdbdbd"/><stop offset=".395" stop-color="#bcbcbc"/><stop offset=".4" stop-color="#b6b6b6"/><stop offset=".405" stop-color="#adadad"/><stop offset=".41" stop-color="#a3a3a3"/><stop offset=".415" stop-color="#9c9c9c"/><stop offset=".42" stop-color="#969696"/><stop offset=".425" stop-color="#909090"/><stop offset=".43" stop-color="#8d8d8d"/><stop offset=".435" stop-color="#8e8e8e"/><stop offset=".44" stop-color="#909090"/><stop offset=".445" stop-color="#919191"/><stop offset=".45" stop-color="#8f8f8f"/><stop offset=".455" stop-color="#8c8c8c"/><stop offset=".46" stop-color="#898989"/><stop offset=".465" stop-color="#8a8a8a"/><stop offset=".47" stop-color="#8d8d8d"/><stop offset=".475" stop-color="#8f8f8f"/><stop offset=".48" stop-color="#8e8e8e"/><stop offset=".485" stop-color="#8a8a8a"/><stop offset=".49" stop-color="#868686"/><stop offset=".495" stop-color="#838383"/><stop offset=".5" stop-color="#818181"/><stop offset=".52" stop-color="#777777"/><stop offset=".54" stop-color="#6d6d6d"/><stop offset=".56" stop-color="#6c6c6c"/><stop offset=".58" stop-color="#686868"/><stop offset=".6" stop-color="#6b6b6b"/><stop offset=".62" stop-color="#6f6f6f"/><stop offset=".64" stop-color="#6f6f6f"/><stop offset=".66" stop-color="#707070"/><stop offset=".68" stop-color="#717171"/><stop offset=".7" stop-color="#717171"/><stop offset=".72" stop-color="#6c6c6c"/><stop offset=".74" stop-color="#6e6e6e"/><stop offset=".76" stop-color="#7b7b7b"/><stop offset=".78" stop-color="#787878"/><stop offset=".8" stop-color="#717171"/><stop offset=".82" stop-color="#707070"/><stop offset=".84" stop-color="#777777"/><stop offset=".86" stop-color="#7f7f7f"/><stop offset=".88" stop-color="#848484"/><stop offset=".9" stop-color="#7e7e7e"/><stop offset=".92" stop-color="#7b7b7b"/><stop offset=".94" stop-color="#7e7e7e"/><stop offset=".96" stop-color="#7f7f7f"/><stop offset=".98" stop-color="#7e7e7e"/><stop offset="1" stop-color="#848484"/></linearGradient><linearGradient id="d8" gradientUnits="userSpaceOnUse" x1="293.4" x2="456.5" y1="0" y2="0"><stop offset="0" stop-color="#7c7c7c"/><stop offset=".02" stop-color="#7b7b7b"/><stop offset=".04" stop-color="#848484"/><stop offset=".06" stop-color="#848484"/><stop offset=".08" stop-color="#7e7e7e"/><stop offset=".1" stop-color="#848484"/><stop offset=".12" stop-color="#848484"/><stop offset=".14" stop-color="#7d7d7d"/><stop offset=".16" stop-color="#7c7c7c"/><stop offset=".18" stop-color="#888888"/><stop offset=".2" stop-color="#898989"/><stop offset=".22" stop-color="#838383"/><stop offset=".24" stop-color="#646464"/><stop offset=".245" stop-color="#555555"/><stop offset=".25" stop-color="#494949"/><stop offset=".255" stop-color="#474747"/><stop offset=".26" stop-color="#505050"/><stop offset=".265" stop-color="#5e5e5e"/><stop offset=".27" stop-color="#686868"/><stop offset=".275" stop-color="#666666"/><stop offset=".28" stop-color="#575757"/><stop offset=".285" stop-color="#464646"/><stop offset=".29" stop-color="#484848"/><stop offset=".295" stop-color="#606060"/><stop offset=".3" stop-color="#818181"/><stop offset=".305" stop-color="#959595"/><stop offset=".31" stop-color="#a4a4a4"/><stop offset=".315" stop-color="#b0b0b0"/><stop offset=".32" stop-color="#bbbbbb"/><stop offset=".325" stop-color="#c3c3c3"/><stop offset=".33" stop-color="#c7c7c7"/><stop offset=".335" stop-color="#c7c7c7"/><stop offset=".34" stop-color="#c2c2c2"/><stop offset=".345" stop-color="#bababa"/><stop offset=".35" stop-color="#b3b3b3"/><stop offset=".355" stop-color="#afafaf"/><stop offset=".36" stop-color="#adadad"/><stop offset=".365" stop-color="#aeaeae"/><stop offset=".37" stop-color="#afafaf"/><stop offset=".375" stop-color="#aeaeae"/><stop offset=".38" stop-color="#a9a9a9"/><stop offset=".385" stop-color="#a6a6a6"/><stop offset=".39" stop-color="#a4a4a4"/><stop offset=".395" stop-color="#a5a5a5"/><stop offset=".4" stop-color="#a8a8a8"/><stop offset=".405" stop-color="#aaaaaa"/><stop offset=".41" stop-color="#a9a9a9"/><stop offset=".415" stop-color="#a5a5a5"/><stop offset=".42" stop-color="#a1a1a1"/><stop offset=".425" stop-color="#9f9f9f"/><stop offset=".43" stop-color="#9c9c9c"/><stop offset=".435" stop-color="#979797"/><stop offset=".44" stop-color="#959595"/><stop offset=".445" stop-color="#969696"/><stop offset=".45" stop-color="#979797"/><stop offset=".455" stop-color="#989898"/><stop offset=".46" stop-color="#999999"/><stop offset=".465" stop-color="#989898"/><stop offset=".47" stop-color="#969696"/><stop offset=".475" stop-color="#949494"/><stop offset=".48" stop-color="#939393"/><stop offset=".485" stop-color="#939393"/><stop offset=".49" stop-color="#919191"/><stop offset=".495" stop-color="#8e8e8e"/><stop offset=".5" stop-color="#888888"/><stop offset=".52" stop-color="#6d6d6d"/><stop offset=".54" stop-color="#717171"/><stop offset=".56" stop-color="#747474"/><stop offset=".58" stop-color="#727272"/><stop offset=".6" stop-color="#737373"/><stop offset=".62" stop-color="#757575"/><stop offset=".64" stop-color="#777777"/><stop offset=".66" stop-color="#7a7a7a"/><stop offset=".68" stop-color="#7c7c7c"/><stop offset=".7" stop-color="#848484"/><stop offset=".72" stop-color="#858585"/><stop offset=".74" stop-color="#7d7d7d"/><stop offset=".76" stop-color="#7c7c7c"/><stop offset=".78" stop-color="#808080"/><stop offset=".8" stop-color="#7b7b7b"/><stop offset=".82" stop-color="#7c7c7c"/><stop offset=".84" stop-color="#7b7b7b"/><stop offset=".86" stop-color="#777777"/><stop offset=".88" stop-color="#838383"/><stop offset=".9" stop-color="#888888"/><stop offset=".92" stop-color="#828282"/><stop offset=".94" stop-color="#7e7e7e"/><stop offset=".96" stop-color="#838383"/><stop offset=".98" stop-color="#888888"/><stop offset="1" stop-color="#8b8b8b"/></linearGradient><linearGradient id="d9" gradientUnits="userSpaceOnUse" x1="293.4" x2="456.5" y1="0" y2="0"><stop offset="0" stop-color="#888888"/><stop offset=".02" stop-color="#868686"/><stop offset=".04" stop-color="#858585"/><stop offset=".06" stop-color="#888888"/><stop offset=".08" stop-color="#888888"/><stop offset=".1" stop-color="#818181"/><stop offset=".12" stop-color="#818181"/><stop offset=".14" stop-color="#838383"/><stop offset=".16" stop-color="#828282"/><stop offset=".18" stop-color="#868686"/><stop offset=".2" stop-color="#858585"/><stop offset=".22" stop-color="#858585"/><stop offset=".24" stop-color="#747474"/><stop offset=".245" stop-color="#636363"/><stop offset=".25" stop-color="#545454"/><stop offset=".255" stop-color="#4e4e4e"/><stop offset=".26" stop-color="#545454"/><stop offset=".265" stop-color="#626262"/><stop offset=".27" stop-color="#6f6f6f"/><stop offset=".275" stop-color="#707070"/><stop offset=".28" stop-color="#646464"/><stop offset=".285" stop-color="#545454"/><stop offset=".29" stop-color="#525252"/><stop offset=".295" stop-color="#636363"/><stop offset=".3" stop-color="#7c7c7c"/><stop offset=".305" stop-color="#8d8d8d"/><stop offset=".31" stop-color="#989898"/><stop offset=".315" stop-color="#a3a3a3"/><stop offset=".32" stop-color="#aeaeae"/><stop offset=".325" stop-color="#b8b8b8"/><stop offset=".33" stop-color="#c0c0c0"/><stop offset=".335" stop-color="#c3c3c3"/><stop offset=".34" stop-color="#c2c2c2"/><stop offset=".345" stop-color="#bcbcbc"/><stop offset=".35" stop-color="#b5b5b5"/><stop offset=".355" stop-color="#b0b0b0"/><stop offset=".36" stop-color="#aeaeae"/><stop offset=".365" stop-color="#adadad"/><stop offset=".37" stop-color="#adadad"/><stop offset=".375" stop-color="#aeaeae"/><stop offset=".38" stop-color="#afafaf"/><stop offset=".385" stop-color="#afafaf"/><stop offset=".39" stop-color="#adadad"/><stop offset=".395" stop-color="#aaaaaa"/><stop offset=".4" stop-color="#aaaaaa"/><stop offset=".405" stop-color="#aaaaaa"/><stop offset=".41" stop-color="#a9a9a9"/><stop offset=".415" stop-color="#a5a5a5"/><stop offset=".42" stop-color="#a1a1a1"/><stop offset=".425" stop-color="#9d9d9d"/><stop offset=".43" stop-color="#9b9b9b"/><stop offset=".435" stop-color="#989898"/><stop offset=".44" stop-color="#959595"/><stop offset=".445" stop-color="#929292"/><stop offset=".45" stop-color="#8e8e8e"/><stop offset=".455" stop-color="#8a8a8a"/><stop offset=".46" stop-color="#868686"/><stop offset=".465" stop-color="#838383"/><stop offset=".47" stop-color="#828282"/><stop offset=".475" stop-color="#848484"/><stop offset=".48" stop-color="#868686"/><stop offset=".485" stop-color="#878787"/><stop offset=".49" stop-color="#878787"/><stop offset=".495" stop-color="#848484"/><stop offset=".5" stop-color="#7d7d7d"/><stop offset=".52" stop-color="#707070"/><stop offset=".54" stop-color="#676767"/><stop offset=".56" stop-color="#6e6e6e"/><stop offset=".58" stop-color="#6b6b6b"/><stop offset=".6" stop-color="#636363"/><stop offset=".62" stop-color="#696969"/><stop offset=".64" stop-color="#727272"/><stop offset=".66" stop-color="#727272"/><stop offset=".68" stop-color="#767676"/><stop offset=".7" stop-color="#7c7c7c"/><stop offset=".72" stop-color="#7d7d7d"/><stop offset=".74" stop-color="#7f7f7f"/><stop offset=".76" stop-color="#7b7b7b"/><stop offset=".78" stop-color="#767676"/><stop offset=".8" stop-color="#717171"/><stop offset=".82" stop-color="#6f6f6f"/><stop offset=".84" stop-color="#797979"/><stop offset=".86" stop-color="#838383"/><stop offset=".88" stop-color="#7b7b7b"/><stop offset=".9" stop-color="#787878"/><stop offset=".92" stop-color="#767676"/><stop offset=".94" stop-color="#777777"/><stop offset=".96" stop-color="#7d7d7d"/><stop offset=".98" stop-color="#818181"/><stop offset="1" stop-color="#7e7e7e"/></linearGradient><linearGradient id="d10" gradientUnits="userSpaceOnUse" x1="293.4" x2="456.5" y1="0" y2="0"><stop offset="0" stop-color="#868686"/><stop offset=".02" stop-color="#838383"/><stop offset=".04" stop-color="#7c7c7c"/><stop offset=".06" stop-color="#767676"/><stop offset=".08" stop-color="#777777"/><stop offset=".1" stop-color="#787878"/><stop offset=".12" stop-color="#797979"/><stop offset=".14" stop-color="#797979"/><stop offset=".16" stop-color="#7b7b7b"/><stop offset=".18" stop-color="#838383"/><stop offset=".2" stop-color="#878787"/><stop offset=".22" stop-color="#878787"/><stop offset=".24" stop-color="#6b6b6b"/><stop offset=".245" stop-color="#5d5d5d"/><stop offset=".25" stop-color="#525252"/><stop offset=".255" stop-color="#515151"/><stop offset=".26" stop-color="#595959"/><stop offset=".265" stop-color="#666666"/><stop offset=".27" stop-color="#6f6f6f"/><stop offset=".275" stop-color="#6d6d6d"/><stop offset=".28" stop-color="#5e5e5e"/><stop offset=".285" stop-color="#505050"/><stop offset=".29" stop-color="#535353"/><stop offset=".295" stop-color="#696969"/><stop offset=".3" stop-color="#858585"/><stop offset=".305" stop-color="#949494"/><stop offset=".31" stop-color="#a0a0a0"/><stop offset=".315" stop-color="#aeaeae"/><stop offset=".32" stop-color="#bcbcbc"/><stop offset=".325" stop-color="#c3c3c3"/><stop offset=".33" stop-color="#c2c2c2"/><stop offset=".335" stop-color="#bbbbbb"/><stop offset=".34" stop-color="#b2b2b2"/><stop offset=".345" stop-color="#aeaeae"/><stop offset=".35" stop-color="#acacac"/><stop offset=".355" stop-color="#acacac"/><stop offset=".36" stop-color="#acacac"/><stop offset=".365" stop-color="#ababab"/><stop offset=".37" stop-color="#acacac"/><stop offset=".375" stop-color="#aeaeae"/><stop offset=".38" stop-color="#b1b1b1"/><stop offset=".385" stop-color="#b4b4b4"/><stop offset=".39" stop-color="#b6b6b6"/><stop offset=".395" stop-color="#b6b6b6"/><stop offset=".4" stop-color="#b2b2b2"/><stop offset=".405" stop-color="#afafaf"/><stop offset=".41" stop-color="#afafaf"/><stop offset=".415" stop-color="#b0b0b0"/><stop offset=".42" stop-color="#aeaeae"/><stop offset=".425" stop-color="#a6a6a6"/><stop offset=".43" stop-color="#9c9c9c"/><stop offset=".435" stop-color="#929292"/><stop offset=".44" stop-color="#8d8d8d"/><stop offset=".445" stop-color="#8c8c8c"/><stop offset=".45" stop-color="#8f8f8f"/><stop offset=".455" stop-color="#939393"/><stop offset=".46" stop-color="#979797"/><stop offset=".465" stop-color="#999999"/><stop offset=".47" stop-color="#9a9a9a"/><stop offset=".475" stop-color="#989898"/><stop offset=".48" stop-color="#949494"/><stop offset=".485" stop-color="#8f8f8f"/><stop offset=".49" stop-color="#8a8a8a"/><stop offset=".495" stop-color="#878787"/><stop offset=".5" stop-color="#848484"/><stop offset=".52" stop-color="#777777"/><stop offset=".54" stop-color="#707070"/><stop offset=".56" stop-color="#717171"/><stop offset=".58" stop-color="#707070"/><stop offset=".6" stop-color="#727272"/><stop offset=".62" stop-color="#737373"/><stop offset=".64" stop-color="#797979"/><stop offset=".66" stop-color="#797979"/><stop offset=".68" stop-color="#787878"/><stop offset=".7" stop-color="#7c7c7c"/><stop offset=".72" stop-color="#7e7e7e"/><stop offset=".74" stop-color="#838383"/><stop offset=".76" stop-color="#7f7f7f"/><stop offset=".78" stop-color="#7e7e7e"/><stop offset=".8" stop-color="#7d7d7d"/><stop offset=".82" stop-color="#7b7b7b"/><stop offset=".84" stop-color="#7e7e7e"/><stop offset=".86" stop-color="#7b7b7b"/><stop offset=".88" stop-color="#7e7e7e"/><stop offset=".9" stop-color="#828282"/><stop offset=".92" stop-color="#838383"/><stop offset=".94" stop-color="#838383"/><stop offset=".96" stop-color="#838383"/><stop offset=".98" stop-color="#7f7f7f"/><stop offset="1" stop-color="#7d7d7d"/></linearGradient><linearGradient id="d11" gradientUnits="userSpaceOnUse" x1="293.4" x2="456.5" y1="0" y2="0"><stop offset="0" stop-color="#888888"/><stop offset=".02" stop-color="#848484"/><stop offset=".04" stop-color="#818181"/><stop offset=".06" stop-color="#848484"/><stop offset=".08" stop-color="#878787"/><stop offset=".1" stop-color="#868686"/><stop offset=".12" stop-color="#868686"/><stop offset=".14" stop-color="#848484"/><stop offset=".16" stop-color="#828282"/><stop offset=".18" stop-color="#828282"/><stop offset=".2" stop-color="#828282"/><stop offset=".22" stop-color="#838383"/><stop offset=".24" stop-color="#737373"/><stop offset=".245" stop-color="#676767"/><stop offset=".25" stop-color="#5c5c5c"/><stop offset=".255" stop-color="#595959"/><stop offset=".26" stop-color="#5e5e5e"/><stop offset=".265" stop-color="#696969"/><stop offset=".27" stop-color="#717171"/><stop offset=".275" stop-color="#6f6f6f"/><stop offset=".28" stop-color="#5f5f5f"/><stop offset=".285" stop-color="#4c4c4c"/><stop offset=".29" stop-color="#4b4b4b"/><stop offset=".295" stop-color="#606060"/><stop offset=".3" stop-color="#808080"/><stop offset=".305" stop-color="#929292"/><stop offset=".31" stop-color="#9f9f9f"/><stop offset=".315" stop-color="#a9a9a9"/><stop offset=".32" stop-color="#b1b1b1"/><stop offset=".325" stop-color="#b8b8b8"/><stop offset=".33" stop-color="#bbbbbb"/><stop offset=".335" stop-color="#bababa"/><stop offset=".34" stop-color="#b7b7b7"/><stop offset=".345" stop-color="#b1b1b1"/><stop offset=".35" stop-color="#acacac"/><stop offset=".355" stop-color="#a7a7a7"/><stop offset=".36" stop-color="#a3a3a3"/><stop offset=".365" stop-color="#a1a1a1"/><stop offset=".37" stop-color="#a0a0a0"/><stop offset=".375" stop-color="#a1a1a1"/><stop offset=".38" stop-color="#a7a7a7"/><stop offset=".385" stop-color="#afafaf"/><stop offset=".39" stop-color="#b4b4b4"/><stop offset=".395" stop-color="#b3b3b3"/><stop offset=".4" stop-color="#acacac"/><stop offset=".405" stop-color="#a4a4a4"/><stop offset=".41" stop-color="#a1a1a1"/><stop offset=".415" stop-color="#a6a6a6"/><stop offset=".42" stop-color="#aeaeae"/><stop offset=".425" stop-color="#b3b3b3"/><stop offset=".43" stop-color="#b1b1b1"/><stop offset=".435" stop-color="#a9a9a9"/><stop offset=".44" stop-color="#a2a2a2"/><stop offset=".445" stop-color="#9d9d9d"/><stop offset=".45" stop-color="#9a9a9a"/><stop offset=".455" stop-color="#979797"/><stop offset=".46" stop-color="#939393"/><stop offset=".465" stop-color="#909090"/><stop offset=".47" stop-color="#8b8b8b"/><stop offset=".475" stop-color="#878787"/><stop offset=".48" stop-color="#838383"/><stop offset=".485" stop-color="#7e7e7e"/><stop offset=".49" stop-color="#797979"/><stop offset=".495" stop-color="#757575"/><stop offset=".5" stop-color="#727272"/><stop offset=".52" stop-color="#7c7c7c"/><stop offset=".54" stop-color="#707070"/><stop offset=".56" stop-color="#6d6d6d"/><stop offset=".58" stop-color="#696969"/><stop offset=".6" stop-color="#6c6c6c"/><stop offset=".62" stop-color="#727272"/><stop offset=".64" stop-color="#717171"/><stop offset=".66" stop-color="#6a6a6a"/><stop offset=".68" stop-color="#686868"/><stop offset=".7" stop-color="#6b6b6b"/><stop offset=".72" stop-color="#707070"/><stop offset=".74" stop-color="#727272"/><stop offset=".76" stop-color="#777777"/><stop offset=".78" stop-color="#7b7b7b"/><stop offset=".8" stop-color="#7e7e7e"/><stop offset=".82" stop-color="#7b7b7b"/><stop offset=".84" stop-color="#838383"/><stop offset=".86" stop-color="#898989"/><stop offset=".88" stop-color="#828282"/><stop offset=".9" stop-color="#818181"/><stop offset=".92" stop-color="#838383"/><stop offset=".94" stop-color="#7e7e7e"/><stop offset=".96" stop-color="#797979"/><stop offset=".98" stop-color="#7e7e7e"/><stop offset="1" stop-color="#818181"/></linearGradient><linearGradient id="d12" gradientUnits="userSpaceOnUse" x1="293.4" x2="456.5" y1="0" y2="0"><stop offset="0" stop-color="#787878"/><stop offset=".02" stop-color="#818181"/><stop offset=".04" stop-color="#878787"/><stop offset=".06" stop-color="#868686"/><stop offset=".08" stop-color="#868686"/><stop offset=".1" stop-color="#868686"/><stop offset=".12" stop-color="#808080"/><stop offset=".14" stop-color="#828282"/><stop offset=".16" stop-color="#838383"/><stop offset=".18" stop-color="#7e7e7e"/><stop offset=".2" stop-color="#808080"/><stop offset=".22" stop-color="#818181"/><stop offset=".24" stop-color="#6d6d6d"/><stop offset=".245" stop-color="#616161"/><stop offset=".25" stop-color="#565656"/><stop offset=".255" stop-color="#535353"/><stop offset=".26" stop-color="#5b5b5b"/><stop offset=".265" stop-color="#696969"/><stop offset=".27" stop-color="#727272"/><stop offset=".275" stop-color="#6f6f6f"/><stop offset=".28" stop-color="#616161"/><stop offset=".285" stop-color="#535353"/><stop offset=".29" stop-color="#565656"/><stop offset=".295" stop-color="#6c6c6c"/><stop offset=".3" stop-color="#868686"/><stop offset=".305" stop-color="#969696"/><stop offset=".31" stop-color="#a3a3a3"/><stop offset=".315" stop-color="#afafaf"/><stop offset=".32" stop-color="#bbbbbb"/><stop offset=".325" stop-color="#c3c3c3"/><stop offset=".33" stop-color="#c4c4c4"/><stop offset=".335" stop-color="#bfbfbf"/><stop offset=".34" stop-color="#b8b8b8"/><stop offset=".345" stop-color="#b4b4b4"/><stop offset=".35" stop-color="#b4b4b4"/><stop offset=".355" stop-color="#b6b6b6"/><stop offset=".36" stop-color="#b5b5b5"/><stop offset=".365" stop-color="#b2b2b2"/><stop offset=".37" stop-color="#b0b0b0"/><stop offset=".375" stop-color="#afafaf"/><stop offset=".38" stop-color="#b0b0b0"/><stop offset=".385" stop-color="#b1b1b1"/><stop offset=".39" stop-color="#b3b3b3"/><stop offset=".395" stop-color="#b3b3b3"/><stop offset=".4" stop-color="#b1b1b1"/><stop offset=".405" stop-color="#aeaeae"/><stop offset=".41" stop-color="#ababab"/><stop offset=".415" stop-color="#ababab"/><stop offset=".42" stop-color="#acacac"/><stop offset=".425" stop-color="#aaaaaa"/><stop offset=".43" stop-color="#a6a6a6"/><stop offset=".435" stop-color="#a0a0a0"/><stop offset=".44" stop-color="#9c9c9c"/><stop offset=".445" stop-color="#9a9a9a"/><stop offset=".45" stop-color="#9a9a9a"/><stop offset=".455" stop-color="#9b9b9b"/><stop offset=".46" stop-color="#9c9c9c"/><stop offset=".465" stop-color="#9b9b9b"/><stop offset=".47" stop-color="#969696"/><stop offset=".475" stop-color="#8f8f8f"/><stop offset=".48" stop-color="#878787"/><stop offset=".485" stop-color="#7e7e7e"/><stop offset=".49" stop-color="#777777"/><stop offset=".495" stop-color="#737373"/><stop offset=".5" stop-color="#717171"/><stop offset=".52" stop-color="#717171"/><stop offset=".54" stop-color="#7c7c7c"/><stop offset=".56" stop-color="#7f7f7f"/><stop offset=".58" stop-color="#787878"/><stop offset=".6" stop-color="#7a7a7a"/><stop offset=".62" stop-color="#7f7f7f"/><stop offset=".64" stop-color="#7b7b7b"/><stop offset=".66" stop-color="#7a7a7a"/><stop offset=".68" stop-color="#7c7c7c"/><stop offset=".7" stop-color="#7a7a7a"/><stop offset=".72" stop-color="#808080"/><stop offset=".74" stop-color="#7d7d7d"/><stop offset=".76" stop-color="#767676"/><stop offset=".78" stop-color="#767676"/><stop offset=".8" stop-color="#797979"/><stop offset=".82" stop-color="#787878"/><stop offset=".84" stop-color="#7a7a7a"/><stop offset=".86" stop-color="#808080"/><stop offset=".88" stop-color="#7d7d7d"/><stop offset=".9" stop-color="#838383"/><stop offset=".92" stop-color="#898989"/><stop offset=".94" stop-color="#878787"/><stop offset=".96" stop-color="#818181"/><stop offset=".98" stop-color="#828282"/><stop offset="1" stop-color="#808080"/></linearGradient><linearGradient id="d13" gradientUnits="userSpaceOnUse" x1="293.4" x2="456.5" y1="0" y2="0"><stop offset="0" stop-color="#868686"/><stop offset=".02" stop-color="#868686"/><stop offset=".04" stop-color="#828282"/><stop offset=".06" stop-color="#818181"/><stop offset=".08" stop-color="#838383"/><stop offset=".1" stop-color="#838383"/><stop offset=".12" stop-color="#7f7f7f"/><stop offset=".14" stop-color="#7f7f7f"/><stop offset=".16" stop-color="#828282"/><stop offset=".18" stop-color="#797979"/><stop offset=".2" stop-color="#747474"/><stop offset=".22" stop-color="#787878"/><stop offset=".24" stop-color="#6b6b6b"/><stop offset=".245" stop-color="#5f5f5f"/><stop offset=".25" stop-color="#555555"/><stop offset=".255" stop-color="#535353"/><stop offset=".26" stop-color="#5b5b5b"/><stop offset=".265" stop-color="#676767"/><stop offset=".27" stop-color="#707070"/><stop offset=".275" stop-color="#6e6e6e"/><stop offset=".28" stop-color="#5e5e5e"/><stop offset=".285" stop-color="#4e4e4e"/><stop offset=".29" stop-color="#4c4c4c"/><stop offset=".295" stop-color="#606060"/><stop offset=".3" stop-color="#7e7e7e"/><stop offset=".305" stop-color="#929292"/><stop offset=".31" stop-color="#a3a3a3"/><stop offset=".315" stop-color="#b3b3b3"/><stop offset=".32" stop-color="#bebebe"/><stop offset=".325" stop-color="#c3c3c3"/><stop offset=".33" stop-color="#c2c2c2"/><stop offset=".335" stop-color="#bebebe"/><stop offset=".34" stop-color="#b9b9b9"/><stop offset=".345" stop-color="#b4b4b4"/><stop offset=".35" stop-color="#b0b0b0"/><stop offset=".355" stop-color="#acacac"/><stop offset=".36" stop-color="#a7a7a7"/><stop offset=".365" stop-color="#a2a2a2"/><stop offset=".37" stop-color="#9e9e9e"/><stop offset=".375" stop-color="#9d9d9d"/><stop offset=".38" stop-color="#9e9e9e"/><stop offset=".385" stop-color="#a0a0a0"/><stop offset=".39" stop-color="#a1a1a1"/><stop offset=".395" stop-color="#a1a1a1"/><stop offset=".4" stop-color="#a1a1a1"/><stop offset=".405" stop-color="#a4a4a4"/><stop offset=".41" stop-color="#a7a7a7"/><stop offset=".415" stop-color="#a9a9a9"/><stop offset=".42" stop-color="#a7a7a7"/><stop offset=".425" stop-color="#a2a2a2"/><stop offset=".43" stop-color="#9d9d9d"/><stop offset=".435" stop-color="#989898"/><stop offset=".44" stop-color="#969696"/><stop offset=".445" stop-color="#939393"/><stop offset=".45" stop-color="#8f8f8f"/><stop offset=".455" stop-color="#8b8b8b"/><stop offset=".46" stop-color="#8a8a8a"/><stop offset=".465" stop-color="#8a8a8a"/><stop offset=".47" stop-color="#8b8b8b"/><stop offset=".475" stop-color="#8d8d8d"/><stop offset=".48" stop-color="#8d8d8d"/><stop offset=".485" stop-color="#8a8a8a"/><stop offset=".49" stop-color="#868686"/><stop offset=".495" stop-color="#848484"/><stop offset=".5" stop-color="#828282"/><stop offset=".52" stop-color="#7a7a7a"/><stop offset=".54" stop-color="#737373"/><stop offset=".56" stop-color="#6a6a6a"/><stop offset=".58" stop-color="#666666"/><stop offset=".6" stop-color="#6d6d6d"/><stop offset=".62" stop-color="#6f6f6f"/><stop offset=".64" stop-color="#707070"/><stop offset=".66" stop-color="#727272"/><stop offset=".68" stop-color="#787878"/><stop offset=".7" stop-color="#7b7b7b"/><stop offset=".72" stop-color="#797979"/><stop offset=".74" stop-color="#7c7c7c"/><stop offset=".76" stop-color="#7f7f7f"/><stop offset=".78" stop-color="#7d7d7d"/><stop offset=".8" stop-color="#777777"/><stop offset=".82" stop-color="#7d7d7d"/><stop offset=".84" stop-color="#858585"/><stop offset=".86" stop-color="#848484"/><stop offset=".88" stop-color="#7f7f7f"/><stop offset=".9" stop-color="#797979"/><stop offset=".92" stop-color="#7a7a7a"/><stop offset=".94" stop-color="#7a7a7a"/><stop offset=".96" stop-color="#747474"/><stop offset=".98" stop-color="#767676"/><stop offset="1" stop-color="#7a7a7a"/></linearGradient><linearGradient id="d14" gradientUnits="userSpaceOnUse" x1="293.4" x2="456.5" y1="0" y2="0"><stop offset="0" stop-color="#838383"/><stop offset=".02" stop-color="#838383"/><stop offset=".04" stop-color="#818181"/><stop offset=".06" stop-color="#808080"/><stop offset=".08" stop-color="#818181"/><stop offset=".1" stop-color="#828282"/><stop offset=".12" stop-color="#828282"/><stop offset=".14" stop-color="#818181"/><stop offset=".16" stop-color="#838383"/><stop offset=".18" stop-color="#848484"/><stop offset=".2" stop-color="#838383"/><stop offset=".22" stop-color="#828282"/><stop offset=".24" stop-color="#6b6b6b"/><stop offset=".245" stop-color="#5d5d5d"/><stop offset=".25" stop-color="#525252"/><stop offset=".255" stop-color="#4f4f4f"/><stop offset=".26" stop-color="#575757"/><stop offset=".265" stop-color="#646464"/><stop offset=".27" stop-color="#6e6e6e"/><stop offset=".275" stop-color="#6d6d6d"/><stop offset=".28" stop-color="#606060"/><stop offset=".285" stop-color="#525252"/><stop offset=".29" stop-color="#525252"/><stop offset=".295" stop-color="#656565"/><stop offset=".3" stop-color="#7f7f7f"/><stop offset=".305" stop-color="#8f8f8f"/><stop offset=".31" stop-color="#9b9b9b"/><stop offset=".315" stop-color="#a5a5a5"/><stop offset=".32" stop-color="#aeaeae"/><stop offset=".325" stop-color="#b4b4b4"/><stop offset=".33" stop-color="#b6b6b6"/><stop offset=".335" stop-color="#b3b3b3"/><stop offset=".34" stop-color="#adadad"/><stop offset=".345" stop-color="#a7a7a7"/><stop offset=".35" stop-color="#a2a2a2"/><stop offset=".355" stop-color="#a0a0a0"/><stop offset=".36" stop-color="#a0a0a0"/><stop offset=".365" stop-color="#a1a1a1"/><stop offset=".37" stop-color="#a2a2a2"/><stop offset=".375" stop-color="#a3a3a3"/><stop offset=".38" stop-color="#a4a4a4"/><stop offset=".385" stop-color="#a5a5a5"/><stop offset=".39" stop-color="#a6a6a6"/><stop offset=".395" stop-color="#a7a7a7"/><stop offset=".4" stop-color="#a8a8a8"/><stop offset=".405" stop-color="#a7a7a7"/><stop offset=".41" stop-color="#a5a5a5"/><stop offset=".415" stop-color="#a2a2a2"/><stop offset=".42" stop-color="#9e9e9e"/><stop offset=".425" stop-color="#9b9b9b"/><stop offset=".43" stop-color="#989898"/><stop offset=".435" stop-color="#969696"/><stop offset=".44" stop-color="#969696"/><stop offset=".445" stop-color="#969696"/><stop offset=".45" stop-color="#969696"/><stop offset=".455" stop-color="#959595"/><stop offset=".46" stop-color="#939393"/><stop offset=".465" stop-color="#909090"/><stop offset=".47" stop-color="#8c8c8c"/><stop offset=".475" stop-color="#878787"/><stop offset=".48" stop-color="#848484"/><stop offset=".485" stop-color="#808080"/><stop offset=".49" stop-color="#7d7d7d"/><stop offset=".495" stop-color="#7b7b7b"/><stop offset=".5" stop-color="#7a7a7a"/><stop offset=".52" stop-color="#7a7a7a"/><stop offset=".54" stop-color="#797979"/><stop offset=".56" stop-color="#747474"/><stop offset=".58" stop-color="#707070"/><stop offset=".6" stop-color="#6e6e6e"/><stop offset=".62" stop-color="#6d6d6d"/><stop offset=".64" stop-color="#6e6e6e"/><stop offset=".66" stop-color="#707070"/><stop offset=".68" stop-color="#737373"/><stop offset=".7" stop-color="#757575"/><stop offset=".72" stop-color="#767676"/><stop offset=".74" stop-color="#797979"/><stop offset=".76" stop-color="#7b7b7b"/><stop offset=".78" stop-color="#7b7b7b"/><stop offset=".8" stop-color="#7a7a7a"/><stop offset=".82" stop-color="#787878"/><stop offset=".84" stop-color="#7b7b7b"/><stop offset=".86" stop-color="#7d7d7d"/><stop offset=".88" stop-color="#7c7c7c"/><stop offset=".9" stop-color="#7b7b7b"/><stop offset=".92" stop-color="#7d7d7d"/><stop offset=".94" stop-color="#7e7e7e"/><stop offset=".96" stop-color="#7c7c7c"/><stop offset=".98" stop-color="#7b7b7b"/><stop offset="1" stop-color="#7a7a7a"/></linearGradient><linearGradient id="d15" gradientUnits="userSpaceOnUse" x1="293.4" x2="456.5" y1="0" y2="0"><stop offset="0" stop-color="#818181"/><stop offset=".02" stop-color="#818181"/><stop offset=".04" stop-color="#808080"/><stop offset=".06" stop-color="#828282"/><stop offset=".08" stop-color="#848484"/><stop offset=".1" stop-color="#858585"/><stop offset=".12" stop-color="#848484"/><stop offset=".14" stop-color="#838383"/><stop offset=".16" stop-color="#818181"/><stop offset=".18" stop-color="#808080"/><stop offset=".2" stop-color="#838383"/><stop offset=".22" stop-color="#848484"/><stop offset=".24" stop-color="#6d6d6d"/><stop offset=".245" stop-color="#5e5e5e"/><stop offset=".25" stop-color="#535353"/><stop offset=".255" stop-color="#4f4f4f"/><stop offset=".26" stop-color="#555555"/><stop offset=".265" stop-color="#616161"/><stop offset=".27" stop-color="#6a6a6a"/><stop offset=".275" stop-color="#686868"/><stop offset=".28" stop-color="#5a5a5a"/><stop offset=".285" stop-color="#4c4c4c"/><stop offset=".29" stop-color="#4d4d4d"/><stop offset=".295" stop-color="#5f5f5f"/><stop offset=".3" stop-color="#797979"/><stop offset=".305" stop-color="#8c8c8c"/><stop offset=".31" stop-color="#989898"/><stop offset=".315" stop-color="#a4a4a4"/><stop offset=".32" stop-color="#aeaeae"/><stop offset=".325" stop-color="#b5b5b5"/><stop offset=".33" stop-color="#b7b7b7"/><stop offset=".335" stop-color="#b5b5b5"/><stop offset=".34" stop-color="#afafaf"/><stop offset=".345" stop-color="#aaaaaa"/><stop offset=".35" stop-color="#a5a5a5"/><stop offset=".355" stop-color="#a2a2a2"/><stop offset=".36" stop-color="#a2a2a2"/><stop offset=".365" stop-color="#a2a2a2"/><stop offset=".37" stop-color="#a2a2a2"/><stop offset=".375" stop-color="#a3a3a3"/><stop offset=".38" stop-color="#a3a3a3"/><stop offset=".385" stop-color="#a3a3a3"/><stop offset=".39" stop-color="#a4a4a4"/><stop offset=".395" stop-color="#a5a5a5"/><stop offset=".4" stop-color="#a6a6a6"/><stop offset=".405" stop-color="#a5a5a5"/><stop offset=".41" stop-color="#a4a4a4"/><stop offset=".415" stop-color="#a1a1a1"/><stop offset=".42" stop-color="#9d9d9d"/><stop offset=".425" stop-color="#999999"/><stop offset=".43" stop-color="#979797"/><stop offset=".435" stop-color="#969696"/><stop offset=".44" stop-color="#959595"/><stop offset=".445" stop-color="#969696"/><stop offset=".45" stop-color="#969696"/><stop offset=".455" stop-color="#969696"/><stop offset=".46" stop-color="#949494"/><stop offset=".465" stop-color="#929292"/><stop offset=".47" stop-color="#8e8e8e"/><stop offset=".475" stop-color="#8b8b8b"/><stop offset=".48" stop-color="#888888"/><stop offset=".485" stop-color="#858585"/><stop offset=".49" stop-color="#828282"/><stop offset=".495" stop-color="#808080"/><stop offset=".5" stop-color="#7e7e7e"/><stop offset=".52" stop-color="#7a7a7a"/><stop offset=".54" stop-color="#787878"/><stop offset=".56" stop-color="#757575"/><stop offset=".58" stop-color="#727272"/><stop offset=".6" stop-color="#717171"/><stop offset=".62" stop-color="#717171"/><stop offset=".64" stop-color="#747474"/><stop offset=".66" stop-color="#767676"/><stop offset=".68" stop-color="#787878"/><stop offset=".7" stop-color="#7a7a7a"/><stop offset=".72" stop-color="#787878"/><stop offset=".74" stop-color="#767676"/><stop offset=".76" stop-color="#767676"/><stop offset=".78" stop-color="#787878"/><stop offset=".8" stop-color="#7b7b7b"/><stop offset=".82" stop-color="#7c7c7c"/><stop offset=".84" stop-color="#7c7c7c"/><stop offset=".86" stop-color="#7b7b7b"/><stop offset=".88" stop-color="#7a7a7a"/><stop offset=".9" stop-color="#7a7a7a"/><stop offset=".92" stop-color="#7b7b7b"/><stop offset=".94" stop-color="#7d7d7d"/><stop offset=".96" stop-color="#7d7d7d"/><stop offset=".98" stop-color="#7e7e7e"/><stop offset="1" stop-color="#7f7f7f"/></linearGradient><linearGradient id="d16" gradientUnits="userSpaceOnUse" x1="293.4" x2="456.5" y1="0" y2="0"><stop offset="0" stop-color="#838383"/><stop offset=".02" stop-color="#848484"/><stop offset=".04" stop-color="#848484"/><stop offset=".06" stop-color="#838383"/><stop offset=".08" stop-color="#838383"/><stop offset=".1" stop-color="#848484"/><stop offset=".12" stop-color="#858585"/><stop offset=".14" stop-color="#848484"/><stop offset=".16" stop-color="#818181"/><stop offset=".18" stop-color="#818181"/><stop offset=".2" stop-color="#838383"/><stop offset=".22" stop-color="#838383"/><stop offset=".24" stop-color="#6c6c6c"/><stop offset=".245" stop-color="#5e5e5e"/><stop offset=".25" stop-color="#525252"/><stop offset=".255" stop-color="#4f4f4f"/><stop offset=".26" stop-color="#555555"/><stop offset=".265" stop-color="#616161"/><stop offset=".27" stop-color="#6b6b6b"/><stop offset=".275" stop-color="#696969"/><stop offset=".28" stop-color="#5d5d5d"/><stop offset=".285" stop-color="#4f4f4f"/><stop offset=".29" stop-color="#505050"/><stop offset=".295" stop-color="#646464"/><stop offset=".3" stop-color="#7e7e7e"/><stop offset=".305" stop-color="#8f8f8f"/><stop offset=".31" stop-color="#9b9b9b"/><stop offset=".315" stop-color="#a7a7a7"/><stop offset=".32" stop-color="#b0b0b0"/><stop offset=".325" stop-color="#b6b6b6"/><stop offset=".33" stop-color="#b8b8b8"/><stop offset=".335" stop-color="#b5b5b5"/><stop offset=".34" stop-color="#afafaf"/><stop offset=".345" stop-color="#a8a8a8"/><stop offset=".35" stop-color="#a3a3a3"/><stop offset=".355" stop-color="#a1a1a1"/><stop offset=".36" stop-color="#a0a0a0"/><stop offset=".365" stop-color="#a1a1a1"/><stop offset=".37" stop-color="#a2a2a2"/><stop offset=".375" stop-color="#a3a3a3"/><stop offset=".38" stop-color="#a3a3a3"/><stop offset=".385" stop-color="#a4a4a4"/><stop offset=".39" stop-color="#a6a6a6"/><stop offset=".395" stop-color="#a7a7a7"/><stop offset=".4" stop-color="#a8a8a8"/><stop offset=".405" stop-color="#a8a8a8"/><stop offset=".41" stop-color="#a6a6a6"/><stop offset=".415" stop-color="#a3a3a3"/><stop offset=".42" stop-color="#9f9f9f"/><stop offset=".425" stop-color="#9c9c9c"/><stop offset=".43" stop-color="#999999"/><stop offset=".435" stop-color="#989898"/><stop offset=".44" stop-color="#989898"/><stop offset=".445" stop-color="#989898"/><stop offset=".45" stop-color="#999999"/><stop offset=".455" stop-color="#989898"/><stop offset=".46" stop-color="#969696"/><stop offset=".465" stop-color="#939393"/><stop offset=".47" stop-color="#8f8f8f"/><stop offset=".475" stop-color="#8a8a8a"/><stop offset=".48" stop-color="#868686"/><stop offset=".485" stop-color="#838383"/><stop offset=".49" stop-color="#7f7f7f"/><stop offset=".495" stop-color="#7c7c7c"/><stop offset=".5" stop-color="#797979"/><stop offset=".52" stop-color="#747474"/><stop offset=".54" stop-color="#727272"/><stop offset=".56" stop-color="#727272"/><stop offset=".58" stop-color="#727272"/><stop offset=".6" stop-color="#717171"/><stop offset=".62" stop-color="#717171"/><stop offset=".64" stop-color="#727272"/><stop offset=".66" stop-color="#757575"/><stop offset=".68" stop-color="#787878"/><stop offset=".7" stop-color="#797979"/><stop offset=".72" stop-color="#7c7c7c"/><stop offset=".74" stop-color="#7b7b7b"/><stop offset=".76" stop-color="#797979"/><stop offset=".78" stop-color="#787878"/><stop offset=".8" stop-color="#787878"/><stop offset=".82" stop-color="#777777"/><stop offset=".84" stop-color="#787878"/><stop offset=".86" stop-color="#777777"/><stop offset=".88" stop-color="#797979"/><stop offset=".9" stop-color="#7b7b7b"/><stop offset=".92" stop-color="#7c7c7c"/><stop offset=".94" stop-color="#7e7e7e"/><stop offset=".96" stop-color="#7f7f7f"/><stop offset=".98" stop-color="#7f7f7f"/><stop offset="1" stop-color="#7f7f7f"/></linearGradient><linearGradient id="d17" gradientUnits="userSpaceOnUse" x1="293.4" x2="456.5" y1="0" y2="0"><stop offset="0" stop-color="#858585"/><stop offset=".02" stop-color="#858585"/><stop offset=".04" stop-color="#858585"/><stop offset=".06" stop-color="#858585"/><stop offset=".08" stop-color="#838383"/><stop offset=".1" stop-color="#828282"/><stop offset=".12" stop-color="#838383"/><stop offset=".14" stop-color="#828282"/><stop offset=".16" stop-color="#828282"/><stop offset=".18" stop-color="#808080"/><stop offset=".2" stop-color="#808080"/><stop offset=".22" stop-color="#7e7e7e"/><stop offset=".24" stop-color="#6a6a6a"/><stop offset=".245" stop-color="#5c5c5c"/><stop offset=".25" stop-color="#515151"/><stop offset=".255" stop-color="#4e4e4e"/><stop offset=".26" stop-color="#555555"/><stop offset=".265" stop-color="#616161"/><stop offset=".27" stop-color="#6a6a6a"/><stop offset=".275" stop-color="#696969"/><stop offset=".28" stop-color="#5c5c5c"/><stop offset=".285" stop-color="#4e4e4e"/><stop offset=".29" stop-color="#4f4f4f"/><stop offset=".295" stop-color="#636363"/><stop offset=".3" stop-color="#7e7e7e"/><stop offset=".305" stop-color="#8f8f8f"/><stop offset=".31" stop-color="#9c9c9c"/><stop offset=".315" stop-color="#a8a8a8"/><stop offset=".32" stop-color="#b2b2b2"/><stop offset=".325" stop-color="#b9b9b9"/><stop offset=".33" stop-color="#bbbbbb"/><stop offset=".335" stop-color="#b8b8b8"/><stop offset=".34" stop-color="#b1b1b1"/><stop offset=".345" stop-color="#ababab"/><stop offset=".35" stop-color="#a5a5a5"/><stop offset=".355" stop-color="#a2a2a2"/><stop offset=".36" stop-color="#a1a1a1"/><stop offset=".365" stop-color="#a2a2a2"/><stop offset=".37" stop-color="#a3a3a3"/><stop offset=".375" stop-color="#a4a4a4"/><stop offset=".38" stop-color="#a4a4a4"/><stop offset=".385" stop-color="#a5a5a5"/><stop offset=".39" stop-color="#a7a7a7"/><stop offset=".395" stop-color="#a8a8a8"/><stop offset=".4" stop-color="#a8a8a8"/><stop offset=".405" stop-color="#a8a8a8"/><stop offset=".41" stop-color="#a6a6a6"/><stop offset=".415" stop-color="#a2a2a2"/><stop offset=".42" stop-color="#9e9e9e"/><stop offset=".425" stop-color="#9b9b9b"/><stop offset=".43" stop-color="#989898"/><stop offset=".435" stop-color="#979797"/><stop offset=".44" stop-color="#989898"/><stop offset=".445" stop-color="#999999"/><stop offset=".45" stop-color="#9a9a9a"/><stop offset=".455" stop-color="#999999"/><stop offset=".46" stop-color="#989898"/><stop offset=".465" stop-color="#949494"/><stop offset=".47" stop-color="#909090"/><stop offset=".475" stop-color="#8c8c8c"/><stop offset=".48" stop-color="#888888"/><stop offset=".485" stop-color="#858585"/><stop offset=".49" stop-color="#828282"/><stop offset=".495" stop-color="#7e7e7e"/><stop offset=".5" stop-color="#7c7c7c"/><stop offset=".52" stop-color="#777777"/><stop offset=".54" stop-color="#777777"/><stop offset=".56" stop-color="#757575"/><stop offset=".58" stop-color="#737373"/><stop offset=".6" stop-color="#717171"/><stop offset=".62" stop-color="#717171"/><stop offset=".64" stop-color="#727272"/><stop offset=".66" stop-color="#737373"/><stop offset=".68" stop-color="#747474"/><stop offset=".7" stop-color="#757575"/><stop offset=".72" stop-color="#777777"/><stop offset=".74" stop-color="#7a7a7a"/><stop offset=".76" stop-color="#7b7b7b"/><stop offset=".78" stop-color="#7c7c7c"/><stop offset=".8" stop-color="#7c7c7c"/><stop offset=".82" stop-color="#797979"/><stop offset=".84" stop-color="#777777"/><stop offset=".86" stop-color="#797979"/><stop offset=".88" stop-color="#7a7a7a"/><stop offset=".9" stop-color="#797979"/><stop offset=".92" stop-color="#787878"/><stop offset=".94" stop-color="#7b7b7b"/><stop offset=".96" stop-color="#7c7c7c"/><stop offset=".98" stop-color="#7c7c7c"/><stop offset="1" stop-color="#7b7b7b"/></linearGradient><linearGradient id="d18" gradientUnits="userSpaceOnUse" x1="293.4" x2="456.5" y1="0" y2="0"><stop offset="0" stop-color="#848484"/><stop offset=".02" stop-color="#848484"/><stop offset=".04" stop-color="#838383"/><stop offset=".06" stop-color="#808080"/><stop offset=".08" stop-color="#818181"/><stop offset=".1" stop-color="#848484"/><stop offset=".12" stop-color="#838383"/><stop offset=".14" stop-color="#7f7f7f"/><stop offset=".16" stop-color="#7f7f7f"/><stop offset=".18" stop-color="#838383"/><stop offset=".2" stop-color="#848484"/><stop offset=".22" stop-color="#838383"/><stop offset=".24" stop-color="#6d6d6d"/><stop offset=".245" stop-color="#5f5f5f"/><stop offset=".25" stop-color="#545454"/><stop offset=".255" stop-color="#515151"/><stop offset=".26" stop-color="#585858"/><stop offset=".265" stop-color="#656565"/><stop offset=".27" stop-color="#6e6e6e"/><stop offset=".275" stop-color="#6d6d6d"/><stop offset=".28" stop-color="#606060"/><stop offset=".285" stop-color="#515151"/><stop offset=".29" stop-color="#525252"/><stop offset=".295" stop-color="#646464"/><stop offset=".3" stop-color="#7d7d7d"/><stop offset=".305" stop-color="#8e8e8e"/><stop offset=".31" stop-color="#9a9a9a"/><stop offset=".315" stop-color="#a5a5a5"/><stop offset=".32" stop-color="#afafaf"/><stop offset=".325" stop-color="#b5b5b5"/><stop offset=".33" stop-color="#b7b7b7"/><stop offset=".335" stop-color="#b5b5b5"/><stop offset=".34" stop-color="#afafaf"/><stop offset=".345" stop-color="#a9a9a9"/><stop offset=".35" stop-color="#a4a4a4"/><stop offset=".355" stop-color="#a1a1a1"/><stop offset=".36" stop-color="#a1a1a1"/><stop offset=".365" stop-color="#a1a1a1"/><stop offset=".37" stop-color="#a2a2a2"/><stop offset=".375" stop-color="#a3a3a3"/><stop offset=".38" stop-color="#a4a4a4"/><stop offset=".385" stop-color="#a4a4a4"/><stop offset=".39" stop-color="#a5a5a5"/><stop offset=".395" stop-color="#a7a7a7"/><stop offset=".4" stop-color="#a8a8a8"/><stop offset=".405" stop-color="#a8a8a8"/><stop offset=".41" stop-color="#a6a6a6"/><stop offset=".415" stop-color="#a4a4a4"/><stop offset=".42" stop-color="#a0a0a0"/><stop offset=".425" stop-color="#9d9d9d"/><stop offset=".43" stop-color="#9b9b9b"/><stop offset=".435" stop-color="#9a9a9a"/><stop offset=".44" stop-color="#999999"/><stop offset=".445" stop-color="#9a9a9a"/><stop offset=".45" stop-color="#9a9a9a"/><stop offset=".455" stop-color="#999999"/><stop offset=".46" stop-color="#979797"/><stop offset=".465" stop-color="#939393"/><stop offset=".47" stop-color="#8f8f8f"/><stop offset=".475" stop-color="#8b8b8b"/><stop offset=".48" stop-color="#878787"/><stop offset=".485" stop-color="#838383"/><stop offset=".49" stop-color="#7f7f7f"/><stop offset=".495" stop-color="#7d7d7d"/><stop offset=".5" stop-color="#7a7a7a"/><stop offset=".52" stop-color="#767676"/><stop offset=".54" stop-color="#757575"/><stop offset=".56" stop-color="#757575"/><stop offset=".58" stop-color="#737373"/><stop offset=".6" stop-color="#737373"/><stop offset=".62" stop-color="#737373"/><stop offset=".64" stop-color="#757575"/><stop offset=".66" stop-color="#767676"/><stop offset=".68" stop-color="#777777"/><stop offset=".7" stop-color="#797979"/><stop offset=".72" stop-color="#797979"/><stop offset=".74" stop-color="#7a7a7a"/><stop offset=".76" stop-color="#7b7b7b"/><stop offset=".78" stop-color="#7b7b7b"/><stop offset=".8" stop-color="#7b7b7b"/><stop offset=".82" stop-color="#7a7a7a"/><stop offset=".84" stop-color="#7a7a7a"/><stop offset=".86" stop-color="#7d7d7d"/><stop offset=".88" stop-color="#7f7f7f"/><stop offset=".9" stop-color="#7a7a7a"/><stop offset=".92" stop-color="#797979"/><stop offset=".94" stop-color="#7d7d7d"/><stop offset=".96" stop-color="#7f7f7f"/><stop offset=".98" stop-color="#7d7d7d"/><stop offset="1" stop-color="#7c7c7c"/></linearGradient><linearGradient id="d19" gradientUnits="userSpaceOnUse" x1="293.4" x2="456.5" y1="0" y2="0"><stop offset="0" stop-color="#848484"/><stop offset=".02" stop-color="#838383"/><stop offset=".04" stop-color="#838383"/><stop offset=".06" stop-color="#848484"/><stop offset=".08" stop-color="#838383"/><stop offset=".1" stop-color="#838383"/><stop offset=".12" stop-color="#848484"/><stop offset=".14" stop-color="#858585"/><stop offset=".16" stop-color="#868686"/><stop offset=".18" stop-color="#848484"/><stop offset=".2" stop-color="#848484"/><stop offset=".22" stop-color="#838383"/><stop offset=".24" stop-color="#6b6b6b"/><stop offset=".245" stop-color="#5d5d5d"/><stop offset=".25" stop-color="#515151"/><stop offset=".255" stop-color="#4e4e4e"/><stop offset=".26" stop-color="#555555"/><stop offset=".265" stop-color="#616161"/><stop offset=".27" stop-color="#6a6a6a"/><stop offset=".275" stop-color="#696969"/><stop offset=".28" stop-color="#5c5c5c"/><stop offset=".285" stop-color="#4e4e4e"/><stop offset=".29" stop-color="#4e4e4e"/><stop offset=".295" stop-color="#626262"/><stop offset=".3" stop-color="#7d7d7d"/><stop offset=".305" stop-color="#8f8f8f"/><stop offset=".31" stop-color="#9c9c9c"/><stop offset=".315" stop-color="#a8a8a8"/><stop offset=".32" stop-color="#b2b2b2"/><stop offset=".325" stop-color="#b8b8b8"/><stop offset=".33" stop-color="#bababa"/><stop offset=".335" stop-color="#b7b7b7"/><stop offset=".34" stop-color="#b1b1b1"/><stop offset=".345" stop-color="#aaaaaa"/><stop offset=".35" stop-color="#a5a5a5"/><stop offset=".355" stop-color="#a2a2a2"/><stop offset=".36" stop-color="#a1a1a1"/><stop offset=".365" stop-color="#a2a2a2"/><stop offset=".37" stop-color="#a2a2a2"/><stop offset=".375" stop-color="#a3a3a3"/><stop offset=".38" stop-color="#a3a3a3"/><stop offset=".385" stop-color="#a4a4a4"/><stop offset=".39" stop-color="#a5a5a5"/><stop offset=".395" stop-color="#a6a6a6"/><stop offset=".4" stop-color="#a6a6a6"/><stop offset=".405" stop-color="#a6a6a6"/><stop offset=".41" stop-color="#a5a5a5"/><stop offset=".415" stop-color="#a2a2a2"/><stop offset=".42" stop-color="#9e9e9e"/><stop offset=".425" stop-color="#9b9b9b"/><stop offset=".43" stop-color="#999999"/><stop offset=".435" stop-color="#989898"/><stop offset=".44" stop-color="#989898"/><stop offset=".445" stop-color="#999999"/><stop offset=".45" stop-color="#9a9a9a"/><stop offset=".455" stop-color="#999999"/><stop offset=".46" stop-color="#989898"/><stop offset=".465" stop-color="#959595"/><stop offset=".47" stop-color="#919191"/><stop offset=".475" stop-color="#8c8c8c"/><stop offset=".48" stop-color="#888888"/><stop offset=".485" stop-color="#848484"/><stop offset=".49" stop-color="#7f7f7f"/><stop offset=".495" stop-color="#7a7a7a"/><stop offset=".5" stop-color="#777777"/><stop offset=".52" stop-color="#6b6b6b"/><stop offset=".54" stop-color="#656565"/><stop offset=".56" stop-color="#666666"/><stop offset=".58" stop-color="#696969"/><stop offset=".6" stop-color="#6d6d6d"/><stop offset=".62" stop-color="#6f6f6f"/><stop offset=".64" stop-color="#6f6f6f"/><stop offset=".66" stop-color="#727272"/><stop offset=".68" stop-color="#787878"/><stop offset=".7" stop-color="#7a7a7a"/><stop offset=".72" stop-color="#7a7a7a"/><stop offset=".74" stop-color="#787878"/><stop offset=".76" stop-color="#787878"/><stop offset=".78" stop-color="#777777"/><stop offset=".8" stop-color="#777777"/><stop offset=".82" stop-color="#7a7a7a"/><stop offset=".84" stop-color="#7c7c7c"/><stop offset=".86" stop-color="#7b7b7b"/><stop offset=".88" stop-color="#797979"/><stop offset=".9" stop-color="#797979"/><stop offset=".92" stop-color="#7b7b7b"/><stop offset=".94" stop-color="#7c7c7c"/><stop offset=".96" stop-color="#7d7d7d"/><stop offset=".98" stop-color="#7e7e7e"/><stop offset="1" stop-color="#7b7b7b"/></linearGradient><linearGradient id="d20" gradientUnits="userSpaceOnUse" x1="293.4" x2="456.5" y1="0" y2="0"><stop offset="0" stop-color="#808080"/><stop offset=".02" stop-color="#818181"/><stop offset=".04" stop-color="#7f7f7f"/><stop offset=".06" stop-color="#7d7d7d"/><stop offset=".08" stop-color="#818181"/><stop offset=".1" stop-color="#838383"/><stop offset=".12" stop-color="#848484"/><stop offset=".14" stop-color="#858585"/><stop offset=".16" stop-color="#848484"/><stop offset=".18" stop-color="#838383"/><stop offset=".2" stop-color="#838383"/><stop offset=".22" stop-color="#838383"/><stop offset=".24" stop-color="#6c6c6c"/><stop offset=".245" stop-color="#5e5e5e"/><stop offset=".25" stop-color="#535353"/><stop offset=".255" stop-color="#505050"/><stop offset=".26" stop-color="#585858"/><stop offset=".265" stop-color="#656565"/><stop offset=".27" stop-color="#6e6e6e"/><stop offset=".275" stop-color="#6d6d6d"/><stop offset=".28" stop-color="#5f5f5f"/><stop offset=".285" stop-color="#515151"/><stop offset=".29" stop-color="#525252"/><stop offset=".295" stop-color="#656565"/><stop offset=".3" stop-color="#7f7f7f"/><stop offset=".305" stop-color="#909090"/><stop offset=".31" stop-color="#9d9d9d"/><stop offset=".315" stop-color="#a8a8a8"/><stop offset=".32" stop-color="#b2b2b2"/><stop offset=".325" stop-color="#b8b8b8"/><stop offset=".33" stop-color="#bababa"/><stop offset=".335" stop-color="#b7b7b7"/><stop offset=".34" stop-color="#b1b1b1"/><stop offset=".345" stop-color="#ababab"/><stop offset=".35" stop-color="#a6a6a6"/><stop offset=".355" stop-color="#a3a3a3"/><stop offset=".36" stop-color="#a2a2a2"/><stop offset=".365" stop-color="#a2a2a2"/><stop offset=".37" stop-color="#a3a3a3"/><stop offset=".375" stop-color="#a3a3a3"/><stop offset=".38" stop-color="#a3a3a3"/><stop offset=".385" stop-color="#a4a4a4"/><stop offset=".39" stop-color="#a5a5a5"/><stop offset=".395" stop-color="#a7a7a7"/><stop offset=".4" stop-color="#a8a8a8"/><stop offset=".405" stop-color="#a8a8a8"/><stop offset=".41" stop-color="#a7a7a7"/><stop offset=".415" stop-color="#a4a4a4"/><stop offset=".42" stop-color="#a0a0a0"/><stop offset=".425" stop-color="#9d9d9d"/><stop offset=".43" stop-color="#9b9b9b"/><stop offset=".435" stop-color="#9a9a9a"/><stop offset=".44" stop-color="#9a9a9a"/><stop offset=".445" stop-color="#9b9b9b"/><stop offset=".45" stop-color="#9b9b9b"/><stop offset=".455" stop-color="#9b9b9b"/><stop offset=".46" stop-color="#989898"/><stop offset=".465" stop-color="#959595"/><stop offset=".47" stop-color="#909090"/><stop offset=".475" stop-color="#8b8b8b"/><stop offset=".48" stop-color="#868686"/><stop offset=".485" stop-color="#818181"/><stop offset=".49" stop-color="#7b7b7b"/><stop offset=".495" stop-color="#777777"/><stop offset=".5" stop-color="#737373"/><stop offset=".52" stop-color="#6b6b6b"/><stop offset=".54" stop-color="#6b6b6b"/><stop offset=".56" stop-color="#6d6d6d"/><stop offset=".58" stop-color="#6e6e6e"/><stop offset=".6" stop-color="#6f6f6f"/><stop offset=".62" stop-color="#737373"/><stop offset=".64" stop-color="#757575"/><stop offset=".66" stop-color="#737373"/><stop offset=".68" stop-color="#747474"/><stop offset=".7" stop-color="#787878"/><stop offset=".72" stop-color="#7b7b7b"/><stop offset=".74" stop-color="#7a7a7a"/><stop offset=".76" stop-color="#797979"/><stop offset=".78" stop-color="#797979"/><stop offset=".8" stop-color="#797979"/><stop offset=".82" stop-color="#777777"/><stop offset=".84" stop-color="#787878"/><stop offset=".86" stop-color="#7c7c7c"/><stop offset=".88" stop-color="#7e7e7e"/><stop offset=".9" stop-color="#7d7d7d"/><stop offset=".92" stop-color="#7b7b7b"/><stop offset=".94" stop-color="#7c7c7c"/><stop offset=".96" stop-color="#7d7d7d"/><stop offset=".98" stop-color="#7c7c7c"/><stop offset="1" stop-color="#7c7c7c"/></linearGradient><linearGradient id="d21" gradientUnits="userSpaceOnUse" x1="293.4" x2="456.5" y1="0" y2="0"><stop offset="0" stop-color="#828282"/><stop offset=".02" stop-color="#828282"/><stop offset=".04" stop-color="#838383"/><stop offset=".06" stop-color="#838383"/><stop offset=".08" stop-color="#838383"/><stop offset=".1" stop-color="#848484"/><stop offset=".12" stop-color="#848484"/><stop offset=".14" stop-color="#838383"/><stop offset=".16" stop-color="#838383"/><stop offset=".18" stop-color="#828282"/><stop offset=".2" stop-color="#828282"/><stop offset=".22" stop-color="#828282"/><stop offset=".24" stop-color="#6b6b6b"/><stop offset=".245" stop-color="#5d5d5d"/><stop offset=".25" stop-color="#515151"/><stop offset=".255" stop-color="#4d4d4d"/><stop offset=".26" stop-color="#545454"/><stop offset=".265" stop-color="#606060"/><stop offset=".27" stop-color="#6a6a6a"/><stop offset=".275" stop-color="#696969"/><stop offset=".28" stop-color="#5d5d5d"/><stop offset=".285" stop-color="#4f4f4f"/><stop offset=".29" stop-color="#515151"/><stop offset=".295" stop-color="#646464"/><stop offset=".3" stop-color="#7f7f7f"/><stop offset=".305" stop-color="#8f8f8f"/><stop offset=".31" stop-color="#9c9c9c"/><stop offset=".315" stop-color="#a8a8a8"/><stop offset=".32" stop-color="#b2b2b2"/><stop offset=".325" stop-color="#b8b8b8"/><stop offset=".33" stop-color="#bababa"/><stop offset=".335" stop-color="#b7b7b7"/><stop offset=".34" stop-color="#b1b1b1"/><stop offset=".345" stop-color="#aaaaaa"/><stop offset=".35" stop-color="#a5a5a5"/><stop offset=".355" stop-color="#a2a2a2"/><stop offset=".36" stop-color="#a2a2a2"/><stop offset=".365" stop-color="#a3a3a3"/><stop offset=".37" stop-color="#a4a4a4"/><stop offset=".375" stop-color="#a5a5a5"/><stop offset=".38" stop-color="#a6a6a6"/><stop offset=".385" stop-color="#a7a7a7"/><stop offset=".39" stop-color="#a8a8a8"/><stop offset=".395" stop-color="#a9a9a9"/><stop offset=".4" stop-color="#a9a9a9"/><stop offset=".405" stop-color="#a9a9a9"/><stop offset=".41" stop-color="#a7a7a7"/><stop offset=".415" stop-color="#a4a4a4"/><stop offset=".42" stop-color="#a1a1a1"/><stop offset=".425" stop-color="#9e9e9e"/><stop offset=".43" stop-color="#9b9b9b"/><stop offset=".435" stop-color="#9a9a9a"/><stop offset=".44" stop-color="#9b9b9b"/><stop offset=".445" stop-color="#9b9b9b"/><stop offset=".45" stop-color="#9c9c9c"/><stop offset=".455" stop-color="#9c9c9c"/><stop offset=".46" stop-color="#9a9a9a"/><stop offset=".465" stop-color="#979797"/><stop offset=".47" stop-color="#939393"/><stop offset=".475" stop-color="#8f8f8f"/><stop offset=".48" stop-color="#8b8b8b"/><stop offset=".485" stop-color="#888888"/><stop offset=".49" stop-color="#858585"/><stop offset=".495" stop-color="#828282"/><stop offset=".5" stop-color="#7f7f7f"/><stop offset=".52" stop-color="#797979"/><stop offset=".54" stop-color="#767676"/><stop offset=".56" stop-color="#757575"/><stop offset=".58" stop-color="#727272"/><stop offset=".6" stop-color="#747474"/><stop offset=".62" stop-color="#767676"/><stop offset=".64" stop-color="#757575"/><stop offset=".66" stop-color="#757575"/><stop offset=".68" stop-color="#777777"/><stop offset=".7" stop-color="#787878"/><stop offset=".72" stop-color="#787878"/><stop offset=".74" stop-color="#7a7a7a"/><stop offset=".76" stop-color="#7b7b7b"/><stop offset=".78" stop-color="#7b7b7b"/><stop offset=".8" stop-color="#7c7c7c"/><stop offset=".82" stop-color="#7c7c7c"/><stop offset=".84" stop-color="#7b7b7b"/><stop offset=".86" stop-color="#7b7b7b"/><stop offset=".88" stop-color="#7d7d7d"/><stop offset=".9" stop-color="#7d7d7d"/><stop offset=".92" stop-color="#7a7a7a"/><stop offset=".94" stop-color="#7a7a7a"/><stop offset=".96" stop-color="#797979"/><stop offset=".98" stop-color="#787878"/><stop offset="1" stop-color="#787878"/></linearGradient><linearGradient id="d22" gradientUnits="userSpaceOnUse" x1="293.4" x2="456.5" y1="0" y2="0"><stop offset="0" stop-color="#858585"/><stop offset=".02" stop-color="#848484"/><stop offset=".04" stop-color="#828282"/><stop offset=".06" stop-color="#838383"/><stop offset=".08" stop-color="#838383"/><stop offset=".1" stop-color="#828282"/><stop offset=".12" stop-color="#818181"/><stop offset=".14" stop-color="#838383"/><stop offset=".16" stop-color="#848484"/><stop offset=".18" stop-color="#848484"/><stop offset=".2" stop-color="#828282"/><stop offset=".22" stop-color="#818181"/><stop offset=".24" stop-color="#6b6b6b"/><stop offset=".245" stop-color="#5c5c5c"/><stop offset=".25" stop-color="#505050"/><stop offset=".255" stop-color="#4d4d4d"/><stop offset=".26" stop-color="#545454"/><stop offset=".265" stop-color="#616161"/><stop offset=".27" stop-color="#6b6b6b"/><stop offset=".275" stop-color="#6a6a6a"/><stop offset=".28" stop-color="#5e5e5e"/><stop offset=".285" stop-color="#515151"/><stop offset=".29" stop-color="#535353"/><stop offset=".295" stop-color="#666666"/><stop offset=".3" stop-color="#818181"/><stop offset=".305" stop-color="#919191"/><stop offset=".31" stop-color="#9e9e9e"/><stop offset=".315" stop-color="#a9a9a9"/><stop offset=".32" stop-color="#b3b3b3"/><stop offset=".325" stop-color="#bababa"/><stop offset=".33" stop-color="#bbbbbb"/><stop offset=".335" stop-color="#b8b8b8"/><stop offset=".34" stop-color="#b1b1b1"/><stop offset=".345" stop-color="#aaaaaa"/><stop offset=".35" stop-color="#a5a5a5"/><stop offset=".355" stop-color="#a2a2a2"/><stop offset=".36" stop-color="#a1a1a1"/><stop offset=".365" stop-color="#a1a1a1"/><stop offset=".37" stop-color="#a2a2a2"/><stop offset=".375" stop-color="#a3a3a3"/><stop offset=".38" stop-color="#a3a3a3"/><stop offset=".385" stop-color="#a4a4a4"/><stop offset=".39" stop-color="#a6a6a6"/><stop offset=".395" stop-color="#a7a7a7"/><stop offset=".4" stop-color="#a8a8a8"/><stop offset=".405" stop-color="#a9a9a9"/><stop offset=".41" stop-color="#a7a7a7"/><stop offset=".415" stop-color="#a4a4a4"/><stop offset=".42" stop-color="#a1a1a1"/><stop offset=".425" stop-color="#9e9e9e"/><stop offset=".43" stop-color="#9b9b9b"/><stop offset=".435" stop-color="#9a9a9a"/><stop offset=".44" stop-color="#9b9b9b"/><stop offset=".445" stop-color="#9b9b9b"/><stop offset=".45" stop-color="#9c9c9c"/><stop offset=".455" stop-color="#9b9b9b"/><stop offset=".46" stop-color="#999999"/><stop offset=".465" stop-color="#959595"/><stop offset=".47" stop-color="#919191"/><stop offset=".475" stop-color="#8d8d8d"/><stop offset=".48" stop-color="#898989"/><stop offset=".485" stop-color="#858585"/><stop offset=".49" stop-color="#828282"/><stop offset=".495" stop-color="#7f7f7f"/><stop offset=".5" stop-color="#7d7d7d"/><stop offset=".52" stop-color="#787878"/><stop offset=".54" stop-color="#757575"/><stop offset=".56" stop-color="#747474"/><stop offset=".58" stop-color="#747474"/><stop offset=".6" stop-color="#717171"/><stop offset=".62" stop-color="#707070"/><stop offset=".64" stop-color="#717171"/><stop offset=".66" stop-color="#757575"/><stop offset=".68" stop-color="#7a7a7a"/><stop offset=".7" stop-color="#7b7b7b"/><stop offset=".72" stop-color="#787878"/><stop offset=".74" stop-color="#787878"/><stop offset=".76" stop-color="#787878"/><stop offset=".78" stop-color="#767676"/><stop offset=".8" stop-color="#777777"/><stop offset=".82" stop-color="#7a7a7a"/><stop offset=".84" stop-color="#7a7a7a"/><stop offset=".86" stop-color="#797979"/><stop offset=".88" stop-color="#777777"/><stop offset=".9" stop-color="#787878"/><stop offset=".92" stop-color="#797979"/><stop offset=".94" stop-color="#7d7d7d"/><stop offset=".96" stop-color="#7e7e7e"/><stop offset=".98" stop-color="#808080"/><stop offset="1" stop-color="#838383"/></linearGradient><linearGradient id="d23" gradientUnits="userSpaceOnUse" x1="293.4" x2="456.5" y1="0" y2="0"><stop offset="0" stop-color="#848484"/><stop offset=".02" stop-color="#838383"/><stop offset=".04" stop-color="#808080"/><stop offset=".06" stop-color="#808080"/><stop offset=".08" stop-color="#838383"/><stop offset=".1" stop-color="#818181"/><stop offset=".12" stop-color="#808080"/><stop offset=".14" stop-color="#7f7f7f"/><stop offset=".16" stop-color="#818181"/><stop offset=".18" stop-color="#838383"/><stop offset=".2" stop-color="#848484"/><stop offset=".22" stop-color="#838383"/><stop offset=".24" stop-color="#6c6c6c"/><stop offset=".245" stop-color="#5d5d5d"/><stop offset=".25" stop-color="#515151"/><stop offset=".255" stop-color="#4e4e4e"/><stop offset=".26" stop-color="#555555"/><stop offset=".265" stop-color="#616161"/><stop offset=".27" stop-color="#6a6a6a"/><stop offset=".275" stop-color="#686868"/><stop offset=".28" stop-color="#5a5a5a"/><stop offset=".285" stop-color="#4c4c4c"/><stop offset=".29" stop-color="#4d4d4d"/><stop offset=".295" stop-color="#606060"/><stop offset=".3" stop-color="#7b7b7b"/><stop offset=".305" stop-color="#8e8e8e"/><stop offset=".31" stop-color="#9b9b9b"/><stop offset=".315" stop-color="#a8a8a8"/><stop offset=".32" stop-color="#b2b2b2"/><stop offset=".325" stop-color="#b9b9b9"/><stop offset=".33" stop-color="#bbbbbb"/><stop offset=".335" stop-color="#b8b8b8"/><stop offset=".34" stop-color="#b1b1b1"/><stop offset=".345" stop-color="#aaaaaa"/><stop offset=".35" stop-color="#a4a4a4"/><stop offset=".355" stop-color="#a1a1a1"/><stop offset=".36" stop-color="#a0a0a0"/><stop offset=".365" stop-color="#a1a1a1"/><stop offset=".37" stop-color="#a2a2a2"/><stop offset=".375" stop-color="#a3a3a3"/><stop offset=".38" stop-color="#a4a4a4"/><stop offset=".385" stop-color="#a5a5a5"/><stop offset=".39" stop-color="#a6a6a6"/><stop offset=".395" stop-color="#a7a7a7"/><stop offset=".4" stop-color="#a7a7a7"/><stop offset=".405" stop-color="#a7a7a7"/><stop offset=".41" stop-color="#a5a5a5"/><stop offset=".415" stop-color="#a2a2a2"/><stop offset=".42" stop-color="#9e9e9e"/><stop offset=".425" stop-color="#9b9b9b"/><stop offset=".43" stop-color="#9a9a9a"/><stop offset=".435" stop-color="#999999"/><stop offset=".44" stop-color="#9b9b9b"/><stop offset=".445" stop-color="#9c9c9c"/><stop offset=".45" stop-color="#9d9d9d"/><stop offset=".455" stop-color="#9c9c9c"/><stop offset=".46" stop-color="#9a9a9a"/><stop offset=".465" stop-color="#979797"/><stop offset=".47" stop-color="#929292"/><stop offset=".475" stop-color="#8d8d8d"/><stop offset=".48" stop-color="#898989"/><stop offset=".485" stop-color="#858585"/><stop offset=".49" stop-color="#818181"/><stop offset=".495" stop-color="#7e7e7e"/><stop offset=".5" stop-color="#7c7c7c"/><stop offset=".52" stop-color="#797979"/><stop offset=".54" stop-color="#787878"/><stop offset=".56" stop-color="#757575"/><stop offset=".58" stop-color="#737373"/><stop offset=".6" stop-color="#717171"/><stop offset=".62" stop-color="#6e6e6e"/><stop offset=".64" stop-color="#6e6e6e"/><stop offset=".66" stop-color="#737373"/><stop offset=".68" stop-color="#777777"/><stop offset=".7" stop-color="#787878"/><stop offset=".72" stop-color="#7a7a7a"/><stop offset=".74" stop-color="#7e7e7e"/><stop offset=".76" stop-color="#7e7e7e"/><stop offset=".78" stop-color="#7b7b7b"/><stop offset=".8" stop-color="#7a7a7a"/><stop offset=".82" stop-color="#787878"/><stop offset=".84" stop-color="#797979"/><stop offset=".86" stop-color="#7b7b7b"/><stop offset=".88" stop-color="#7b7b7b"/><stop offset=".9" stop-color="#7b7b7b"/><stop offset=".92" stop-color="#7d7d7d"/><stop offset=".94" stop-color="#7e7e7e"/><stop offset=".96" stop-color="#7f7f7f"/><stop offset=".98" stop-color="#808080"/><stop offset="1" stop-color="#808080"/></linearGradient><linearGradient id="d24" gradientUnits="userSpaceOnUse" x1="293.4" x2="456.5" y1="0" y2="0"><stop offset="0" stop-color="#7e7e7e"/><stop offset=".02" stop-color="#808080"/><stop offset=".04" stop-color="#828282"/><stop offset=".06" stop-color="#838383"/><stop offset=".08" stop-color="#838383"/><stop offset=".1" stop-color="#828282"/><stop offset=".12" stop-color="#828282"/><stop offset=".14" stop-color="#848484"/><stop offset=".16" stop-color="#848484"/><stop offset=".18" stop-color="#848484"/><stop offset=".2" stop-color="#838383"/><stop offset=".22" stop-color="#838383"/><stop offset=".24" stop-color="#6c6c6c"/><stop offset=".245" stop-color="#5e5e5e"/><stop offset=".25" stop-color="#525252"/><stop offset=".255" stop-color="#4f4f4f"/><stop offset=".26" stop-color="#565656"/><stop offset=".265" stop-color="#626262"/><stop offset=".27" stop-color="#6c6c6c"/><stop offset=".275" stop-color="#6b6b6b"/><stop offset=".28" stop-color="#5e5e5e"/><stop offset=".285" stop-color="#505050"/><stop offset=".29" stop-color="#515151"/><stop offset=".295" stop-color="#646464"/><stop offset=".3" stop-color="#7f7f7f"/><stop offset=".305" stop-color="#909090"/><stop offset=".31" stop-color="#9e9e9e"/><stop offset=".315" stop-color="#ababab"/><stop offset=".32" stop-color="#b6b6b6"/><stop offset=".325" stop-color="#bebebe"/><stop offset=".33" stop-color="#c0c0c0"/><stop offset=".335" stop-color="#bdbdbd"/><stop offset=".34" stop-color="#b6b6b6"/><stop offset=".345" stop-color="#afafaf"/><stop offset=".35" stop-color="#a9a9a9"/><stop offset=".355" stop-color="#a6a6a6"/><stop offset=".36" stop-color="#a4a4a4"/><stop offset=".365" stop-color="#a5a5a5"/><stop offset=".37" stop-color="#a5a5a5"/><stop offset=".375" stop-color="#a6a6a6"/><stop offset=".38" stop-color="#a7a7a7"/><stop offset=".385" stop-color="#a7a7a7"/><stop offset=".39" stop-color="#a8a8a8"/><stop offset=".395" stop-color="#a9a9a9"/><stop offset=".4" stop-color="#a9a9a9"/><stop offset=".405" stop-color="#a9a9a9"/><stop offset=".41" stop-color="#a7a7a7"/><stop offset=".415" stop-color="#a3a3a3"/><stop offset=".42" stop-color="#a0a0a0"/><stop offset=".425" stop-color="#9c9c9c"/><stop offset=".43" stop-color="#9a9a9a"/><stop offset=".435" stop-color="#9a9a9a"/><stop offset=".44" stop-color="#9a9a9a"/><stop offset=".445" stop-color="#9c9c9c"/><stop offset=".45" stop-color="#9c9c9c"/><stop offset=".455" stop-color="#9c9c9c"/><stop offset=".46" stop-color="#9a9a9a"/><stop offset=".465" stop-color="#969696"/><stop offset=".47" stop-color="#929292"/><stop offset=".475" stop-color="#8e8e8e"/><stop offset=".48" stop-color="#8a8a8a"/><stop offset=".485" stop-color="#868686"/><stop offset=".49" stop-color="#838383"/><stop offset=".495" stop-color="#808080"/><stop offset=".5" stop-color="#7e7e7e"/><stop offset=".52" stop-color="#787878"/><stop offset=".54" stop-color="#757575"/><stop offset=".56" stop-color="#717171"/><stop offset=".58" stop-color="#6f6f6f"/><stop offset=".6" stop-color="#6f6f6f"/><stop offset=".62" stop-color="#717171"/><stop offset=".64" stop-color="#717171"/><stop offset=".66" stop-color="#717171"/><stop offset=".68" stop-color="#737373"/><stop offset=".7" stop-color="#767676"/><stop offset=".72" stop-color="#767676"/><stop offset=".74" stop-color="#767676"/><stop offset=".76" stop-color="#787878"/><stop offset=".78" stop-color="#787878"/><stop offset=".8" stop-color="#777777"/><stop offset=".82" stop-color="#787878"/><stop offset=".84" stop-color="#7c7c7c"/><stop offset=".86" stop-color="#7c7c7c"/><stop offset=".88" stop-color="#7c7c7c"/><stop offset=".9" stop-color="#7e7e7e"/><stop offset=".92" stop-color="#7e7e7e"/><stop offset=".94" stop-color="#7d7d7d"/><stop offset=".96" stop-color="#808080"/><stop offset=".98" stop-color="#818181"/><stop offset="1" stop-color="#818181"/></linearGradient><linearGradient id="d25" gradientUnits="userSpaceOnUse" x1="293.4" x2="456.5" y1="0" y2="0"><stop offset="0" stop-color="#828282"/><stop offset=".02" stop-color="#848484"/><stop offset=".04" stop-color="#848484"/><stop offset=".06" stop-color="#848484"/><stop offset=".08" stop-color="#828282"/><stop offset=".1" stop-color="#838383"/><stop offset=".12" stop-color="#848484"/><stop offset=".14" stop-color="#838383"/><stop offset=".16" stop-color="#848484"/><stop offset=".18" stop-color="#848484"/><stop offset=".2" stop-color="#818181"/><stop offset=".22" stop-color="#828282"/><stop offset=".24" stop-color="#6d6d6d"/><stop offset=".245" stop-color="#5e5e5e"/><stop offset=".25" stop-color="#525252"/><stop offset=".255" stop-color="#4f4f4f"/><stop offset=".26" stop-color="#565656"/><stop offset=".265" stop-color="#626262"/><stop offset=".27" stop-color="#6c6c6c"/><stop offset=".275" stop-color="#6a6a6a"/><stop offset=".28" stop-color="#5d5d5d"/><stop offset=".285" stop-color="#4f4f4f"/><stop offset=".29" stop-color="#505050"/><stop offset=".295" stop-color="#636363"/><stop offset=".3" stop-color="#7f7f7f"/><stop offset=".305" stop-color="#919191"/><stop offset=".31" stop-color="#a0a0a0"/><stop offset=".315" stop-color="#aeaeae"/><stop offset=".32" stop-color="#bbbbbb"/><stop offset=".325" stop-color="#c3c3c3"/><stop offset=".33" stop-color="#c5c5c5"/><stop offset=".335" stop-color="#c1c1c1"/><stop offset=".34" stop-color="#b8b8b8"/><stop offset=".345" stop-color="#afafaf"/><stop offset=".35" stop-color="#a8a8a8"/><stop offset=".355" stop-color="#a3a3a3"/><stop offset=".36" stop-color="#a1a1a1"/><stop offset=".365" stop-color="#a0a0a0"/><stop offset=".37" stop-color="#a1a1a1"/><stop offset=".375" stop-color="#a2a2a2"/><stop offset=".38" stop-color="#a3a3a3"/><stop offset=".385" stop-color="#a4a4a4"/><stop offset=".39" stop-color="#a5a5a5"/><stop offset=".395" stop-color="#a7a7a7"/><stop offset=".4" stop-color="#a8a8a8"/><stop offset=".405" stop-color="#a7a7a7"/><stop offset=".41" stop-color="#a5a5a5"/><stop offset=".415" stop-color="#a2a2a2"/><stop offset=".42" stop-color="#9e9e9e"/><stop offset=".425" stop-color="#9b9b9b"/><stop offset=".43" stop-color="#999999"/><stop offset=".435" stop-color="#999999"/><stop offset=".44" stop-color="#9b9b9b"/><stop offset=".445" stop-color="#9c9c9c"/><stop offset=".45" stop-color="#9d9d9d"/><stop offset=".455" stop-color="#9d9d9d"/><stop offset=".46" stop-color="#9a9a9a"/><stop offset=".465" stop-color="#979797"/><stop offset=".47" stop-color="#929292"/><stop offset=".475" stop-color="#8d8d8d"/><stop offset=".48" stop-color="#888888"/><stop offset=".485" stop-color="#858585"/><stop offset=".49" stop-color="#818181"/><stop offset=".495" stop-color="#7e7e7e"/><stop offset=".5" stop-color="#7c7c7c"/><stop offset=".52" stop-color="#797979"/><stop offset=".54" stop-color="#787878"/><stop offset=".56" stop-color="#757575"/><stop offset=".58" stop-color="#737373"/><stop offset=".6" stop-color="#747474"/><stop offset=".62" stop-color="#757575"/><stop offset=".64" stop-color="#747474"/><stop offset=".66" stop-color="#747474"/><stop offset=".68" stop-color="#767676"/><stop offset=".7" stop-color="#787878"/><stop offset=".72" stop-color="#797979"/><stop offset=".74" stop-color="#7b7b7b"/><stop offset=".76" stop-color="#7c7c7c"/><stop offset=".78" stop-color="#7b7b7b"/><stop offset=".8" stop-color="#797979"/><stop offset=".82" stop-color="#7a7a7a"/><stop offset=".84" stop-color="#797979"/><stop offset=".86" stop-color="#7a7a7a"/><stop offset=".88" stop-color="#7c7c7c"/><stop offset=".9" stop-color="#7a7a7a"/><stop offset=".92" stop-color="#7a7a7a"/><stop offset=".94" stop-color="#7c7c7c"/><stop offset=".96" stop-color="#7f7f7f"/><stop offset=".98" stop-color="#7c7c7c"/><stop offset="1" stop-color="#7b7b7b"/></linearGradient><linearGradient id="d26" gradientUnits="userSpaceOnUse" x1="293.4" x2="456.5" y1="0" y2="0"><stop offset="0" stop-color="#838383"/><stop offset=".02" stop-color="#838383"/><stop offset=".04" stop-color="#838383"/><stop offset=".06" stop-color="#848484"/><stop offset=".08" stop-color="#848484"/><stop offset=".1" stop-color="#858585"/><stop offset=".12" stop-color="#848484"/><stop offset=".14" stop-color="#848484"/><stop offset=".16" stop-color="#828282"/><stop offset=".18" stop-color="#818181"/><stop offset=".2" stop-color="#818181"/><stop offset=".22" stop-color="#808080"/><stop offset=".24" stop-color="#6a6a6a"/><stop offset=".245" stop-color="#5c5c5c"/><stop offset=".25" stop-color="#505050"/><stop offset=".255" stop-color="#4c4c4c"/><stop offset=".26" stop-color="#535353"/><stop offset=".265" stop-color="#606060"/><stop offset=".27" stop-color="#6a6a6a"/><stop offset=".275" stop-color="#696969"/><stop offset=".28" stop-color="#5c5c5c"/><stop offset=".285" stop-color="#4e4e4e"/><stop offset=".29" stop-color="#505050"/><stop offset=".295" stop-color="#646464"/><stop offset=".3" stop-color="#808080"/><stop offset=".305" stop-color="#929292"/><stop offset=".31" stop-color="#a2a2a2"/><stop offset=".315" stop-color="#b0b0b0"/><stop offset=".32" stop-color="#bdbdbd"/><stop offset=".325" stop-color="#c6c6c6"/><stop offset=".33" stop-color="#c9c9c9"/><stop offset=".335" stop-color="#c5c5c5"/><stop offset=".34" stop-color="#bdbdbd"/><stop offset=".345" stop-color="#b4b4b4"/><stop offset=".35" stop-color="#acacac"/><stop offset=".355" stop-color="#a7a7a7"/><stop offset=".36" stop-color="#a5a5a5"/><stop offset=".365" stop-color="#a5a5a5"/><stop offset=".37" stop-color="#a6a6a6"/><stop offset=".375" stop-color="#a6a6a6"/><stop offset=".38" stop-color="#a7a7a7"/><stop offset=".385" stop-color="#a8a8a8"/><stop offset=".39" stop-color="#a9a9a9"/><stop offset=".395" stop-color="#aaaaaa"/><stop offset=".4" stop-color="#ababab"/><stop offset=".405" stop-color="#ababab"/><stop offset=".41" stop-color="#aaaaaa"/><stop offset=".415" stop-color="#a7a7a7"/><stop offset=".42" stop-color="#a4a4a4"/><stop offset=".425" stop-color="#a1a1a1"/><stop offset=".43" stop-color="#a0a0a0"/><stop offset=".435" stop-color="#9f9f9f"/><stop offset=".44" stop-color="#a0a0a0"/><stop offset=".445" stop-color="#a0a0a0"/><stop offset=".45" stop-color="#a1a1a1"/><stop offset=".455" stop-color="#a0a0a0"/><stop offset=".46" stop-color="#9d9d9d"/><stop offset=".465" stop-color="#9a9a9a"/><stop offset=".47" stop-color="#959595"/><stop offset=".475" stop-color="#909090"/><stop offset=".48" stop-color="#8b8b8b"/><stop offset=".485" stop-color="#878787"/><stop offset=".49" stop-color="#838383"/><stop offset=".495" stop-color="#808080"/><stop offset=".5" stop-color="#7c7c7c"/><stop offset=".52" stop-color="#777777"/><stop offset=".54" stop-color="#757575"/><stop offset=".56" stop-color="#757575"/><stop offset=".58" stop-color="#737373"/><stop offset=".6" stop-color="#717171"/><stop offset=".62" stop-color="#6e6e6e"/><stop offset=".64" stop-color="#737373"/><stop offset=".66" stop-color="#757575"/><stop offset=".68" stop-color="#757575"/><stop offset=".7" stop-color="#777777"/><stop offset=".72" stop-color="#787878"/><stop offset=".74" stop-color="#787878"/><stop offset=".76" stop-color="#7a7a7a"/><stop offset=".78" stop-color="#7c7c7c"/><stop offset=".8" stop-color="#7d7d7d"/><stop offset=".82" stop-color="#7d7d7d"/><stop offset=".84" stop-color="#797979"/><stop offset=".86" stop-color="#797979"/><stop offset=".88" stop-color="#7a7a7a"/><stop offset=".9" stop-color="#7a7a7a"/><stop offset=".92" stop-color="#7c7c7c"/><stop offset=".94" stop-color="#7c7c7c"/><stop offset=".96" stop-color="#7f7f7f"/><stop offset=".98" stop-color="#818181"/><stop offset="1" stop-color="#808080"/></linearGradient><linearGradient id="d27" gradientUnits="userSpaceOnUse" x1="293.4" x2="456.5" y1="0" y2="0"><stop offset="0" stop-color="#858585"/><stop offset=".02" stop-color="#848484"/><stop offset=".04" stop-color="#828282"/><stop offset=".06" stop-color="#808080"/><stop offset=".08" stop-color="#818181"/><stop offset=".1" stop-color="#838383"/><stop offset=".12" stop-color="#858585"/><stop offset=".14" stop-color="#848484"/><stop offset=".16" stop-color="#828282"/><stop offset=".18" stop-color="#838383"/><stop offset=".2" stop-color="#848484"/><stop offset=".22" stop-color="#838383"/><stop offset=".24" stop-color="#696969"/><stop offset=".245" stop-color="#5a5a5a"/><stop offset=".25" stop-color="#4d4d4d"/><stop offset=".255" stop-color="#4a4a4a"/><stop offset=".26" stop-color="#515151"/><stop offset=".265" stop-color="#5d5d5d"/><stop offset=".27" stop-color="#686868"/><stop offset=".275" stop-color="#686868"/><stop offset=".28" stop-color="#5c5c5c"/><stop offset=".285" stop-color="#505050"/><stop offset=".29" stop-color="#525252"/><stop offset=".295" stop-color="#686868"/><stop offset=".3" stop-color="#858585"/><stop offset=".305" stop-color="#979797"/><stop offset=".31" stop-color="#a9a9a9"/><stop offset=".315" stop-color="#b9b9b9"/><stop offset=".32" stop-color="#c7c7c7"/><stop offset=".325" stop-color="#d1d1d1"/><stop offset=".33" stop-color="#d3d3d3"/><stop offset=".335" stop-color="#cecece"/><stop offset=".34" stop-color="#c4c4c4"/><stop offset=".345" stop-color="#b9b9b9"/><stop offset=".35" stop-color="#b0b0b0"/><stop offset=".355" stop-color="#ababab"/><stop offset=".36" stop-color="#a8a8a8"/><stop offset=".365" stop-color="#a8a8a8"/><stop offset=".37" stop-color="#a8a8a8"/><stop offset=".375" stop-color="#a8a8a8"/><stop offset=".38" stop-color="#a8a8a8"/><stop offset=".385" stop-color="#a9a9a9"/><stop offset=".39" stop-color="#aaaaaa"/><stop offset=".395" stop-color="#acacac"/><stop offset=".4" stop-color="#adadad"/><stop offset=".405" stop-color="#adadad"/><stop offset=".41" stop-color="#ababab"/><stop offset=".415" stop-color="#a8a8a8"/><stop offset=".42" stop-color="#a4a4a4"/><stop offset=".425" stop-color="#a0a0a0"/><stop offset=".43" stop-color="#9d9d9d"/><stop offset=".435" stop-color="#9c9c9c"/><stop offset=".44" stop-color="#9c9c9c"/><stop offset=".445" stop-color="#9d9d9d"/><stop offset=".45" stop-color="#9d9d9d"/><stop offset=".455" stop-color="#9d9d9d"/><stop offset=".46" stop-color="#9b9b9b"/><stop offset=".465" stop-color="#989898"/><stop offset=".47" stop-color="#939393"/><stop offset=".475" stop-color="#8e8e8e"/><stop offset=".48" stop-color="#8a8a8a"/><stop offset=".485" stop-color="#868686"/><stop offset=".49" stop-color="#838383"/><stop offset=".495" stop-color="#808080"/><stop offset=".5" stop-color="#7e7e7e"/><stop offset=".52" stop-color="#7b7b7b"/><stop offset=".54" stop-color="#777777"/><stop offset=".56" stop-color="#747474"/><stop offset=".58" stop-color="#707070"/><stop offset=".6" stop-color="#707070"/><stop offset=".62" stop-color="#717171"/><stop offset=".64" stop-color="#6f6f6f"/><stop offset=".66" stop-color="#707070"/><stop offset=".68" stop-color="#737373"/><stop offset=".7" stop-color="#777777"/><stop offset=".72" stop-color="#7a7a7a"/><stop offset=".74" stop-color="#7c7c7c"/><stop offset=".76" stop-color="#7a7a7a"/><stop offset=".78" stop-color="#787878"/><stop offset=".8" stop-color="#7a7a7a"/><stop offset=".82" stop-color="#797979"/><stop offset=".84" stop-color="#777777"/><stop offset=".86" stop-color="#797979"/><stop offset=".88" stop-color="#797979"/><stop offset=".9" stop-color="#797979"/><stop offset=".92" stop-color="#797979"/><stop offset=".94" stop-color="#7b7b7b"/><stop offset=".96" stop-color="#7d7d7d"/><stop offset=".98" stop-color="#818181"/><stop offset="1" stop-color="#838383"/></linearGradient><linearGradient id="d28" gradientUnits="userSpaceOnUse" x1="293.4" x2="456.5" y1="0" y2="0"><stop offset="0" stop-color="#828282"/><stop offset=".02" stop-color="#828282"/><stop offset=".04" stop-color="#818181"/><stop offset=".06" stop-color="#828282"/><stop offset=".08" stop-color="#838383"/><stop offset=".1" stop-color="#828282"/><stop offset=".12" stop-color="#828282"/><stop offset=".14" stop-color="#828282"/><stop offset=".16" stop-color="#838383"/><stop offset=".18" stop-color="#848484"/><stop offset=".2" stop-color="#848484"/><stop offset=".22" stop-color="#848484"/><stop offset=".24" stop-color="#6b6b6b"/><stop offset=".245" stop-color="#5c5c5c"/><stop offset=".25" stop-color="#505050"/><stop offset=".255" stop-color="#4c4c4c"/><stop offset=".26" stop-color="#545454"/><stop offset=".265" stop-color="#616161"/><stop offset=".27" stop-color="#6b6b6b"/><stop offset=".275" stop-color="#6a6a6a"/><stop offset=".28" stop-color="#5e5e5e"/><stop offset=".285" stop-color="#515151"/><stop offset=".29" stop-color="#535353"/><stop offset=".295" stop-color="#696969"/><stop offset=".3" stop-color="#868686"/><stop offset=".305" stop-color="#999999"/><stop offset=".31" stop-color="#ababab"/><stop offset=".315" stop-color="#bcbcbc"/><stop offset=".32" stop-color="#cbcbcb"/><stop offset=".325" stop-color="#d5d5d5"/><stop offset=".33" stop-color="#d8d8d8"/><stop offset=".335" stop-color="#d2d2d2"/><stop offset=".34" stop-color="#c8c8c8"/><stop offset=".345" stop-color="#bdbdbd"/><stop offset=".35" stop-color="#b3b3b3"/><stop offset=".355" stop-color="#adadad"/><stop offset=".36" stop-color="#ababab"/><stop offset=".365" stop-color="#ababab"/><stop offset=".37" stop-color="#acacac"/><stop offset=".375" stop-color="#adadad"/><stop offset=".38" stop-color="#adadad"/><stop offset=".385" stop-color="#aeaeae"/><stop offset=".39" stop-color="#b0b0b0"/><stop offset=".395" stop-color="#b1b1b1"/><stop offset=".4" stop-color="#b2b2b2"/><stop offset=".405" stop-color="#b2b2b2"/><stop offset=".41" stop-color="#afafaf"/><stop offset=".415" stop-color="#ababab"/><stop offset=".42" stop-color="#a6a6a6"/><stop offset=".425" stop-color="#a1a1a1"/><stop offset=".43" stop-color="#9e9e9e"/><stop offset=".435" stop-color="#9c9c9c"/><stop offset=".44" stop-color="#9c9c9c"/><stop offset=".445" stop-color="#9c9c9c"/><stop offset=".45" stop-color="#9d9d9d"/><stop offset=".455" stop-color="#9c9c9c"/><stop offset=".46" stop-color="#999999"/><stop offset=".465" stop-color="#959595"/><stop offset=".47" stop-color="#909090"/><stop offset=".475" stop-color="#8b8b8b"/><stop offset=".48" stop-color="#878787"/><stop offset=".485" stop-color="#838383"/><stop offset=".49" stop-color="#808080"/><stop offset=".495" stop-color="#7d7d7d"/><stop offset=".5" stop-color="#7b7b7b"/><stop offset=".52" stop-color="#787878"/><stop offset=".54" stop-color="#777777"/><stop offset=".56" stop-color="#757575"/><stop offset=".58" stop-color="#727272"/><stop offset=".6" stop-color="#717171"/><stop offset=".62" stop-color="#757575"/><stop offset=".64" stop-color="#777777"/><stop offset=".66" stop-color="#777777"/><stop offset=".68" stop-color="#787878"/><stop offset=".7" stop-color="#787878"/><stop offset=".72" stop-color="#777777"/><stop offset=".74" stop-color="#777777"/><stop offset=".76" stop-color="#787878"/><stop offset=".78" stop-color="#797979"/><stop offset=".8" stop-color="#7b7b7b"/><stop offset=".82" stop-color="#7c7c7c"/><stop offset=".84" stop-color="#7a7a7a"/><stop offset=".86" stop-color="#7b7b7b"/><stop offset=".88" stop-color="#7d7d7d"/><stop offset=".9" stop-color="#7d7d7d"/><stop offset=".92" stop-color="#7e7e7e"/><stop offset=".94" stop-color="#7f7f7f"/><stop offset=".96" stop-color="#7e7e7e"/><stop offset=".98" stop-color="#7d7d7d"/><stop offset="1" stop-color="#7d7d7d"/></linearGradient><linearGradient id="d29" gradientUnits="userSpaceOnUse" x1="293.4" x2="456.5" y1="0" y2="0"><stop offset="0" stop-color="#848484"/><stop offset=".02" stop-color="#858585"/><stop offset=".04" stop-color="#848484"/><stop offset=".06" stop-color="#848484"/><stop offset=".08" stop-color="#838383"/><stop offset=".1" stop-color="#828282"/><stop offset=".12" stop-color="#858585"/><stop offset=".14" stop-color="#858585"/><stop offset=".16" stop-color="#828282"/><stop offset=".18" stop-color="#818181"/><stop offset=".2" stop-color="#838383"/><stop offset=".22" stop-color="#848484"/><stop offset=".24" stop-color="#6d6d6d"/><stop offset=".245" stop-color="#5e5e5e"/><stop offset=".25" stop-color="#515151"/><stop offset=".255" stop-color="#4e4e4e"/><stop offset=".26" stop-color="#555555"/><stop offset=".265" stop-color="#626262"/><stop offset=".27" stop-color="#6c6c6c"/><stop offset=".275" stop-color="#6c6c6c"/><stop offset=".28" stop-color="#5f5f5f"/><stop offset=".285" stop-color="#525252"/><stop offset=".29" stop-color="#545454"/><stop offset=".295" stop-color="#696969"/><stop offset=".3" stop-color="#868686"/><stop offset=".305" stop-color="#989898"/><stop offset=".31" stop-color="#aaaaaa"/><stop offset=".315" stop-color="#bcbcbc"/><stop offset=".32" stop-color="#cccccc"/><stop offset=".325" stop-color="#d6d6d6"/><stop offset=".33" stop-color="#d9d9d9"/><stop offset=".335" stop-color="#d3d3d3"/><stop offset=".34" stop-color="#c9c9c9"/><stop offset=".345" stop-color="#bdbdbd"/><stop offset=".35" stop-color="#b3b3b3"/><stop offset=".355" stop-color="#adadad"/><stop offset=".36" stop-color="#aaaaaa"/><stop offset=".365" stop-color="#aaaaaa"/><stop offset=".37" stop-color="#aaaaaa"/><stop offset=".375" stop-color="#ababab"/><stop offset=".38" stop-color="#acacac"/><stop offset=".385" stop-color="#adadad"/><stop offset=".39" stop-color="#afafaf"/><stop offset=".395" stop-color="#b1b1b1"/><stop offset=".4" stop-color="#b2b2b2"/><stop offset=".405" stop-color="#b2b2b2"/><stop offset=".41" stop-color="#b0b0b0"/><stop offset=".415" stop-color="#acacac"/><stop offset=".42" stop-color="#a7a7a7"/><stop offset=".425" stop-color="#a3a3a3"/><stop offset=".43" stop-color="#a0a0a0"/><stop offset=".435" stop-color="#9e9e9e"/><stop offset=".44" stop-color="#9f9f9f"/><stop offset=".445" stop-color="#a0a0a0"/><stop offset=".45" stop-color="#a1a1a1"/><stop offset=".455" stop-color="#a1a1a1"/><stop offset=".46" stop-color="#9f9f9f"/><stop offset=".465" stop-color="#9b9b9b"/><stop offset=".47" stop-color="#969696"/><stop offset=".475" stop-color="#919191"/><stop offset=".48" stop-color="#8b8b8b"/><stop offset=".485" stop-color="#878787"/><stop offset=".49" stop-color="#848484"/><stop offset=".495" stop-color="#808080"/><stop offset=".5" stop-color="#7c7c7c"/><stop offset=".52" stop-color="#757575"/><stop offset=".54" stop-color="#737373"/><stop offset=".56" stop-color="#747474"/><stop offset=".58" stop-color="#747474"/><stop offset=".6" stop-color="#737373"/><stop offset=".62" stop-color="#717171"/><stop offset=".64" stop-color="#727272"/><stop offset=".66" stop-color="#767676"/><stop offset=".68" stop-color="#787878"/><stop offset=".7" stop-color="#787878"/><stop offset=".72" stop-color="#7b7b7b"/><stop offset=".74" stop-color="#7b7b7b"/><stop offset=".76" stop-color="#7a7a7a"/><stop offset=".78" stop-color="#787878"/><stop offset=".8" stop-color="#797979"/><stop offset=".82" stop-color="#7b7b7b"/><stop offset=".84" stop-color="#7a7a7a"/><stop offset=".86" stop-color="#7b7b7b"/><stop offset=".88" stop-color="#7d7d7d"/><stop offset=".9" stop-color="#7c7c7c"/><stop offset=".92" stop-color="#7a7a7a"/><stop offset=".94" stop-color="#7b7b7b"/><stop offset=".96" stop-color="#7c7c7c"/><stop offset=".98" stop-color="#7a7a7a"/><stop offset="1" stop-color="#787878"/></linearGradient></defs><clipPath id="kd"><rect x="292.5" y="235.2" width="164" height="160.6"/></clipPath><g clip-path="url(#kd)"><rect x="292.5" y="390" width="164" height="6" fill="url(#d1)"/><rect x="292.5" y="385" width="164" height="5" fill="url(#d2)"/><rect x="292.5" y="379" width="164" height="6" fill="url(#d3)"/><rect x="292.5" y="374" width="164" height="5" fill="url(#d4)"/><rect x="292.5" y="368" width="164" height="6" fill="url(#d5)"/><rect x="292.5" y="363" width="164" height="5" fill="url(#d6)"/><rect x="292.5" y="357" width="164" height="6" fill="url(#d7)"/><rect x="292.5" y="351" width="164" height="6" fill="url(#d8)"/><rect x="292.5" y="346" width="164" height="5" fill="url(#d9)"/><rect x="292.5" y="340" width="164" height="6" fill="url(#d10)"/><rect x="292.5" y="335" width="164" height="5" fill="url(#d11)"/><rect x="292.5" y="329" width="164" height="6" fill="url(#d12)"/><rect x="292.5" y="324" width="164" height="5" fill="url(#d13)"/><rect x="292.5" y="318" width="164" height="6" fill="url(#d14)"/><rect x="292.5" y="313" width="164" height="5" fill="url(#d15)"/><rect x="292.5" y="307" width="164" height="6" fill="url(#d16)"/><rect x="292.5" y="302" width="164" height="5" fill="url(#d17)"/><rect x="292.5" y="296" width="164" height="6" fill="url(#d18)"/><rect x="292.5" y="291" width="164" height="5" fill="url(#d19)"/><rect x="292.5" y="285" width="164" height="6" fill="url(#d20)"/><rect x="292.5" y="280" width="164" height="5" fill="url(#d21)"/><rect x="292.5" y="274" width="164" height="6" fill="url(#d22)"/><rect x="292.5" y="268" width="164" height="6" fill="url(#d23)"/><rect x="292.5" y="263" width="164" height="5" fill="url(#d24)"/><rect x="292.5" y="257" width="164" height="6" fill="url(#d25)"/><rect x="292.5" y="252" width="164" height="5" fill="url(#d26)"/><rect x="292.5" y="246" width="164" height="6" fill="url(#d27)"/><rect x="292.5" y="241" width="164" height="5" fill="url(#d28)"/><rect x="292.5" y="235" width="164" height="6" fill="url(#d29)"/></g>
<defs><linearGradient id="cbg" x1="0" y1="1" x2="0" y2="0"><stop offset="0" stop-color="#1c1c1c"/><stop offset="1" stop-color="#ffffff"/></linearGradient></defs>
<path d="M46.4,235.2 V396.4 H209.5" fill="none" stroke="#c8c8c8" stroke-width="1"/><path d="M79.32,238.1 V396.1" stroke="#1a1a1a" stroke-width="1.2" stroke-dasharray="4.6,4.45"/><text x="78.72" y="419.5" text-anchor="middle">0</text><text x="143.96" y="419.5" text-anchor="middle">200</text><text x="209.2" y="419.5" text-anchor="middle">400</text><path d="M46,373.65 h-1.9" stroke="#c8c8c8" stroke-width="1"/><path d="M46,345.96 h-1.9" stroke="#c8c8c8" stroke-width="1"/><path d="M46,318.27 h-1.9" stroke="#c8c8c8" stroke-width="1"/><path d="M46,290.58 h-1.9" stroke="#c8c8c8" stroke-width="1"/><path d="M46,262.89 h-1.9" stroke="#c8c8c8" stroke-width="1"/><path d="M79.02,396.4 v1.9" stroke="#c8c8c8" stroke-width="1"/><path d="M144.26,396.4 v1.9" stroke="#c8c8c8" stroke-width="1"/><path d="M209.5,396.4 v1.9" stroke="#c8c8c8" stroke-width="1"/><text x="40.8" y="380.15" text-anchor="end">5</text><text x="40.8" y="352.46" text-anchor="end">10</text><text x="40.8" y="324.77" text-anchor="end">15</text><text x="40.8" y="297.08" text-anchor="end">20</text><text x="40.8" y="269.39" text-anchor="end">25</text><text x="40.8" y="241.7" text-anchor="end">30</text><rect x="221.2" y="235.2" width="7.4" height="160.6" fill="url(#cbg)" stroke="#c0c0c0" stroke-width="0.8"/><path d="M228.6,394.5 h2" stroke="#bdbdbd" stroke-width="1"/><text x="234.4" y="400.7">-50</text><path d="M228.6,329.75 h2" stroke="#bdbdbd" stroke-width="1"/><text x="234.4" y="335.95">0</text><path d="M228.6,264.99 h2" stroke="#bdbdbd" stroke-width="1"/><text x="234.4" y="271.19">50</text>
<path d="M293.4,235.2 V396.4 H456.5" fill="none" stroke="#c8c8c8" stroke-width="1"/><path d="M326.32,238.1 V396.1" stroke="#1a1a1a" stroke-width="1.2" stroke-dasharray="4.6,4.45"/><text x="325.72" y="419.5" text-anchor="middle">0</text><text x="390.96" y="419.5" text-anchor="middle">200</text><text x="456.2" y="419.5" text-anchor="middle">400</text><path d="M293,373.65 h-1.9" stroke="#c8c8c8" stroke-width="1"/><path d="M293,345.96 h-1.9" stroke="#c8c8c8" stroke-width="1"/><path d="M293,318.27 h-1.9" stroke="#c8c8c8" stroke-width="1"/><path d="M293,290.58 h-1.9" stroke="#c8c8c8" stroke-width="1"/><path d="M293,262.89 h-1.9" stroke="#c8c8c8" stroke-width="1"/><path d="M326.02,396.4 v1.9" stroke="#c8c8c8" stroke-width="1"/><path d="M391.26,396.4 v1.9" stroke="#c8c8c8" stroke-width="1"/><path d="M456.5,396.4 v1.9" stroke="#c8c8c8" stroke-width="1"/><text x="287.8" y="380.15" text-anchor="end">5</text><text x="287.8" y="352.46" text-anchor="end">10</text><text x="287.8" y="324.77" text-anchor="end">15</text><text x="287.8" y="297.08" text-anchor="end">20</text><text x="287.8" y="269.39" text-anchor="end">25</text><text x="287.8" y="241.7" text-anchor="end">30</text><rect x="467.6" y="235.2" width="7.4" height="160.6" fill="url(#cbg)" stroke="#c0c0c0" stroke-width="0.8"/><path d="M475,340.99 h2" stroke="#bdbdbd" stroke-width="1"/><text x="483.4" y="347.19">0</text><path d="M475,271.62 h2" stroke="#bdbdbd" stroke-width="1"/><text x="483.4" y="277.82">40</text><path d="M475,375.68 h2" stroke="#bdbdbd" stroke-width="1"/><path d="M475,306.31 h2" stroke="#bdbdbd" stroke-width="1"/>
<text transform="translate(12.4,320.8) rotate(-90)" text-anchor="middle" font-size="16.4">Day</text>
<text x="138.6" y="441.7" text-anchor="middle" font-size="16.6">Time (ms)</text>
<text transform="translate(511.8,322) rotate(90)" text-anchor="middle" font-size="16.6">Amplitude (µV)</text>
</svg>
</body></html>
